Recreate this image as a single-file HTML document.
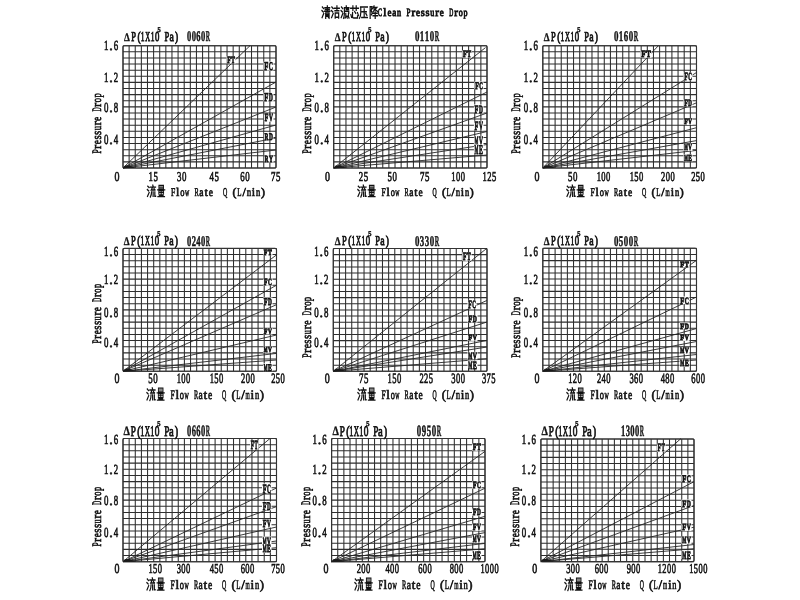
<!DOCTYPE html><html><head><meta charset="utf-8"><style>html,body{margin:0;padding:0;background:#fff;width:800px;height:600px;overflow:hidden}</style></head><body><svg width="800" height="600" viewBox="0 0 800 600" style="display:block;will-change:transform" text-rendering="geometricPrecision"><rect width="800" height="600" fill="#fff"/><path d="M0.8,1.2 L2.2,2.6 M0.3,4.6 L1.8,5.8 M0.5,11.2 L2.4,7.4 M3.8,1.9 H9.6 M4.3,3.6 H9.2 M3.6,5.3 H9.9 M6.8,0.3 V5.3 M4.8,6.8 V11.8 M4.8,6.8 H8.9 V11.6 L8.1,11.2 M4.8,8.5 H8.9 M4.8,10 H8.9" transform="translate(321.70,5.80) scale(0.830,1.050)" fill="none" stroke="#111" stroke-width="1.44" stroke-linecap="square"/><path d="M0.8,1.2 L2.2,2.6 M0.3,4.6 L1.8,5.8 M0.5,11.2 L2.4,7.4 M3.8,2.4 H9.8 M4.5,4.8 H9.2 M6.9,0.3 V4.8 M4.8,6.9 V11.6 M4.8,6.9 H9 V11.6 M4.8,11 H9" transform="translate(331.20,5.80) scale(0.830,1.050)" fill="none" stroke="#111" stroke-width="1.44" stroke-linecap="square"/><path d="M0.8,1.2 L2.2,2.6 M0.3,4.6 L1.8,5.8 M0.5,11.2 L2.4,7.4 M6.6,0.3 V1.9 M4.3,1.9 H9.8 M4.3,1.9 V7 Q4.3,10 3.4,11.8 M6.5,3.4 H9.4 M5.6,5.2 H9.6 V7 M6,7.4 V10 H9.2 V7.4 M5.2,11.6 L5.8,10.8 M7.2,10.4 L7.8,11.6 M9.2,10.4 L9.9,11.6" transform="translate(340.80,5.80) scale(0.830,1.050)" fill="none" stroke="#111" stroke-width="1.44" stroke-linecap="square"/><path d="M0.3,2.4 H9.7 M3,0.3 V4.2 M7,0.3 V4.2 M5.2,5.6 L6.4,7 M2.6,6.4 V10.6 Q2.6,11.6 4,11.6 H8.6 V9.8 M0.6,8.6 L1.4,11 M8.6,6.6 L9.7,9.2" transform="translate(350.40,5.80) scale(0.830,1.050)" fill="none" stroke="#111" stroke-width="1.44" stroke-linecap="square"/><path d="M1.6,1.2 H9.9 M1.9,1.2 V6.5 Q1.8,10.2 0.3,11.9 M3.4,5.6 H8.6 M6,3 V11 M3,11.2 H9.9 M8,7.4 L9.2,9" transform="translate(359.20,5.80) scale(0.830,1.050)" fill="none" stroke="#111" stroke-width="1.44" stroke-linecap="square"/><path d="M0.9,0.8 V11.8 M0.9,0.8 H3.2 L2.2,4.6 L3.4,7 L2.4,8.6 M5.6,0.3 L4.2,2.8 M5.1,1.6 H8.8 L4.6,5.4 M6,3.2 L9.8,5.4 M4.6,7.2 H9.4 M4.4,9.4 H9.9 M7,6 V11.9" transform="translate(369.40,5.80) scale(0.830,1.050)" fill="none" stroke="#111" stroke-width="1.44" stroke-linecap="square"/><text transform="translate(380.12,16.30) scale(0.539,1)" text-anchor="middle" font-family='"Liberation Serif", serif' font-weight="normal" font-size="11.21" fill="#111" stroke="#111" stroke-width="0.85">C</text><text transform="translate(384.86,16.30) scale(1.000,1)" text-anchor="middle" font-family='"Liberation Serif", serif' font-weight="normal" font-size="11.21" fill="#111" stroke="#111" stroke-width="0.85">l</text><text transform="translate(389.60,16.30) scale(0.810,1)" text-anchor="middle" font-family='"Liberation Serif", serif' font-weight="normal" font-size="11.21" fill="#111" stroke="#111" stroke-width="0.85">e</text><text transform="translate(394.34,16.30) scale(0.810,1)" text-anchor="middle" font-family='"Liberation Serif", serif' font-weight="normal" font-size="11.21" fill="#111" stroke="#111" stroke-width="0.85">a</text><text transform="translate(399.09,16.30) scale(0.719,1)" text-anchor="middle" font-family='"Liberation Serif", serif' font-weight="normal" font-size="11.21" fill="#111" stroke="#111" stroke-width="0.85">n</text><text transform="translate(408.57,16.30) scale(0.646,1)" text-anchor="middle" font-family='"Liberation Serif", serif' font-weight="normal" font-size="11.21" fill="#111" stroke="#111" stroke-width="0.85">P</text><text transform="translate(413.31,16.30) scale(1.000,1)" text-anchor="middle" font-family='"Liberation Serif", serif' font-weight="normal" font-size="11.21" fill="#111" stroke="#111" stroke-width="0.85">r</text><text transform="translate(418.06,16.30) scale(0.810,1)" text-anchor="middle" font-family='"Liberation Serif", serif' font-weight="normal" font-size="11.21" fill="#111" stroke="#111" stroke-width="0.85">e</text><text transform="translate(422.80,16.30) scale(0.924,1)" text-anchor="middle" font-family='"Liberation Serif", serif' font-weight="normal" font-size="11.21" fill="#111" stroke="#111" stroke-width="0.85">s</text><text transform="translate(427.54,16.30) scale(0.924,1)" text-anchor="middle" font-family='"Liberation Serif", serif' font-weight="normal" font-size="11.21" fill="#111" stroke="#111" stroke-width="0.85">s</text><text transform="translate(432.29,16.30) scale(0.719,1)" text-anchor="middle" font-family='"Liberation Serif", serif' font-weight="normal" font-size="11.21" fill="#111" stroke="#111" stroke-width="0.85">u</text><text transform="translate(437.03,16.30) scale(1.000,1)" text-anchor="middle" font-family='"Liberation Serif", serif' font-weight="normal" font-size="11.21" fill="#111" stroke="#111" stroke-width="0.85">r</text><text transform="translate(441.77,16.30) scale(0.810,1)" text-anchor="middle" font-family='"Liberation Serif", serif' font-weight="normal" font-size="11.21" fill="#111" stroke="#111" stroke-width="0.85">e</text><text transform="translate(451.26,16.30) scale(0.498,1)" text-anchor="middle" font-family='"Liberation Serif", serif' font-weight="normal" font-size="11.21" fill="#111" stroke="#111" stroke-width="0.85">D</text><text transform="translate(456.00,16.30) scale(1.000,1)" text-anchor="middle" font-family='"Liberation Serif", serif' font-weight="normal" font-size="11.21" fill="#111" stroke="#111" stroke-width="0.85">r</text><text transform="translate(460.74,16.30) scale(0.719,1)" text-anchor="middle" font-family='"Liberation Serif", serif' font-weight="normal" font-size="11.21" fill="#111" stroke="#111" stroke-width="0.85">o</text><text transform="translate(465.48,16.30) scale(0.719,1)" text-anchor="middle" font-family='"Liberation Serif", serif' font-weight="normal" font-size="11.21" fill="#111" stroke="#111" stroke-width="0.85">p</text><path d="M123.00,45.70V168.00M129.12,45.70V168.00M135.24,45.70V168.00M141.36,45.70V168.00M147.48,45.70V168.00M153.60,45.70V168.00M159.72,45.70V168.00M165.84,45.70V168.00M171.96,45.70V168.00M178.08,45.70V168.00M184.20,45.70V168.00M190.32,45.70V168.00M196.44,45.70V168.00M202.56,45.70V168.00M208.68,45.70V168.00M214.80,45.70V168.00M220.92,45.70V168.00M227.04,45.70V168.00M233.16,45.70V168.00M239.28,45.70V168.00M245.40,45.70V168.00M251.52,45.70V168.00M257.64,45.70V168.00M263.76,45.70V168.00M269.88,45.70V168.00M276.00,45.70V168.00M123.00,45.70H276.00M123.00,51.82H276.00M123.00,57.93H276.00M123.00,64.05H276.00M123.00,70.16H276.00M123.00,76.28H276.00M123.00,82.39H276.00M123.00,88.50H276.00M123.00,94.62H276.00M123.00,100.74H276.00M123.00,106.85H276.00M123.00,112.97H276.00M123.00,119.08H276.00M123.00,125.19H276.00M123.00,131.31H276.00M123.00,137.43H276.00M123.00,143.54H276.00M123.00,149.66H276.00M123.00,155.77H276.00M123.00,161.88H276.00M123.00,168.00H276.00" stroke="#2e2e2e" stroke-width="1.05" fill="none"/><rect x="123.00" y="45.70" width="153.00" height="122.30" rx="1.5" fill="none" stroke="#333" stroke-width="1.1"/><path d="M123.00,168.00L250.00,45.70" stroke="#262626" stroke-width="0.9" fill="none"/><path d="M123.00,168.00L276.00,82.00" stroke="#262626" stroke-width="0.9" fill="none"/><path d="M123.00,168.00L276.00,107.00" stroke="#262626" stroke-width="0.9" fill="none"/><path d="M123.00,168.00L276.00,125.00" stroke="#262626" stroke-width="0.9" fill="none"/><path d="M123.00,168.00L276.00,138.00" stroke="#262626" stroke-width="0.9" fill="none"/><path d="M123.00,168.00L276.00,150.00" stroke="#262626" stroke-width="0.9" fill="none"/><path d="M123.00,168.00L136.00,168.00L129.00,165.40L125.00,165.40Z" fill="#1a1a1a"/><rect x="226.50" y="56.00" width="9.00" height="7.50" fill="#fff"/><text transform="translate(229.00,63.00) scale(0.617,1)" text-anchor="middle" font-family='"Liberation Serif", serif' font-weight="bold" font-size="9.56" fill="#111" stroke="#111" stroke-width="0.9">F</text><text transform="translate(233.00,63.00) scale(0.565,1)" text-anchor="middle" font-family='"Liberation Serif", serif' font-weight="bold" font-size="9.56" fill="#111" stroke="#111" stroke-width="0.9">T</text><rect x="263.50" y="61.50" width="10.00" height="9.00" fill="#fff"/><text transform="translate(266.23,70.00) scale(0.569,1)" text-anchor="middle" font-family='"Liberation Serif", serif' font-weight="bold" font-size="11.76" fill="#111" stroke="#111" stroke-width="0.9">F</text><text transform="translate(270.77,70.00) scale(0.481,1)" text-anchor="middle" font-family='"Liberation Serif", serif' font-weight="bold" font-size="11.76" fill="#111" stroke="#111" stroke-width="0.9">C</text><rect x="263.50" y="92.50" width="10.00" height="9.00" fill="#fff"/><text transform="translate(266.23,101.00) scale(0.569,1)" text-anchor="middle" font-family='"Liberation Serif", serif' font-weight="bold" font-size="11.76" fill="#111" stroke="#111" stroke-width="0.9">F</text><text transform="translate(270.77,101.00) scale(0.481,1)" text-anchor="middle" font-family='"Liberation Serif", serif' font-weight="bold" font-size="11.76" fill="#111" stroke="#111" stroke-width="0.9">D</text><rect x="263.90" y="113.20" width="9.60" height="8.60" fill="#fff"/><text transform="translate(266.54,121.30) scale(0.570,1)" text-anchor="middle" font-family='"Liberation Serif", serif' font-weight="bold" font-size="11.18" fill="#111" stroke="#111" stroke-width="0.9">F</text><text transform="translate(270.86,121.30) scale(0.482,1)" text-anchor="middle" font-family='"Liberation Serif", serif' font-weight="bold" font-size="11.18" fill="#111" stroke="#111" stroke-width="0.9">V</text><rect x="263.90" y="132.50" width="9.60" height="7.70" fill="#fff"/><text transform="translate(266.54,139.70) scale(0.547,1)" text-anchor="middle" font-family='"Liberation Serif", serif' font-weight="bold" font-size="9.85" fill="#111" stroke="#111" stroke-width="0.9">R</text><text transform="translate(270.86,139.70) scale(0.547,1)" text-anchor="middle" font-family='"Liberation Serif", serif' font-weight="bold" font-size="9.85" fill="#111" stroke="#111" stroke-width="0.9">D</text><rect x="263.90" y="154.90" width="9.60" height="7.50" fill="#fff"/><text transform="translate(266.54,161.90) scale(0.564,1)" text-anchor="middle" font-family='"Liberation Serif", serif' font-weight="bold" font-size="9.56" fill="#111" stroke="#111" stroke-width="0.9">R</text><text transform="translate(270.86,161.90) scale(0.564,1)" text-anchor="middle" font-family='"Liberation Serif", serif' font-weight="bold" font-size="9.56" fill="#111" stroke="#111" stroke-width="0.9">Y</text><text transform="translate(133.50,41.10) scale(0.6200,1)" x="0" y="0" text-anchor="middle" font-family='"Liberation Serif", serif' font-weight="normal" font-size="13.64" fill="#111" stroke="#111" stroke-width="0.85">P</text><text transform="translate(139.10,41.10) scale(0.7000,1)" x="0" y="0" text-anchor="middle" font-family='"Liberation Serif", serif' font-weight="normal" font-size="13.64" fill="#111" stroke="#111" stroke-width="0.85">(</text><text transform="translate(142.50,41.10) scale(0.5500,1)" x="0" y="0" text-anchor="middle" font-family='"Liberation Serif", serif' font-weight="normal" font-size="13.64" fill="#111" stroke="#111" stroke-width="0.85">1</text><text transform="translate(147.70,41.10) scale(0.5000,1)" x="0" y="0" text-anchor="middle" font-family='"Liberation Serif", serif' font-weight="normal" font-size="13.64" fill="#111" stroke="#111" stroke-width="0.85">X</text><text transform="translate(152.50,41.10) scale(0.5500,1)" x="0" y="0" text-anchor="middle" font-family='"Liberation Serif", serif' font-weight="normal" font-size="13.64" fill="#111" stroke="#111" stroke-width="0.85">1</text><text transform="translate(157.20,41.10) scale(0.6400,1)" x="0" y="0" text-anchor="middle" font-family='"Liberation Serif", serif' font-weight="normal" font-size="13.64" fill="#111" stroke="#111" stroke-width="0.85">0</text><text transform="translate(166.90,41.10) scale(0.6200,1)" x="0" y="0" text-anchor="middle" font-family='"Liberation Serif", serif' font-weight="normal" font-size="13.64" fill="#111" stroke="#111" stroke-width="0.85">P</text><text transform="translate(171.60,41.10) scale(0.7200,1)" x="0" y="0" text-anchor="middle" font-family='"Liberation Serif", serif' font-weight="normal" font-size="13.64" fill="#111" stroke="#111" stroke-width="0.85">a</text><text transform="translate(176.60,41.10) scale(0.7000,1)" x="0" y="0" text-anchor="middle" font-family='"Liberation Serif", serif' font-weight="normal" font-size="13.64" fill="#111" stroke="#111" stroke-width="0.85">)</text><text transform="translate(126.90,40.80) scale(0.8000,1)" x="0" y="0" text-anchor="middle" font-family='"Liberation Serif", serif' font-weight="bold" font-size="11.67" fill="#111" stroke="#111" stroke-width="0.3">Δ</text><text transform="translate(159.10,32.10) scale(0.9000,1)" x="0" y="0" text-anchor="middle" font-family='"Liberation Serif", serif' font-weight="bold" font-size="7.13" fill="#111" stroke="#111" stroke-width="0.5">5</text><text transform="translate(189.02,41.40) scale(0.575,1)" text-anchor="middle" font-family='"Liberation Serif", serif' font-weight="bold" font-size="14.85" fill="#111" stroke="#111" stroke-width="0.45">0</text><text transform="translate(193.76,41.40) scale(0.575,1)" text-anchor="middle" font-family='"Liberation Serif", serif' font-weight="bold" font-size="14.85" fill="#111" stroke="#111" stroke-width="0.45">0</text><text transform="translate(198.50,41.40) scale(0.575,1)" text-anchor="middle" font-family='"Liberation Serif", serif' font-weight="bold" font-size="14.85" fill="#111" stroke="#111" stroke-width="0.45">6</text><text transform="translate(203.24,41.40) scale(0.575,1)" text-anchor="middle" font-family='"Liberation Serif", serif' font-weight="bold" font-size="14.85" fill="#111" stroke="#111" stroke-width="0.45">0</text><text transform="translate(207.98,41.40) scale(0.398,1)" text-anchor="middle" font-family='"Liberation Serif", serif' font-weight="bold" font-size="14.85" fill="#111" stroke="#111" stroke-width="0.45">R</text><text transform="translate(106.09,50.35) scale(0.633,1)" text-anchor="middle" font-family='"Liberation Serif", serif' font-weight="normal" font-size="13.97" fill="#111" stroke="#111" stroke-width="0.65">1</text><text transform="translate(111.00,50.35) scale(1.000,1)" text-anchor="middle" font-family='"Liberation Serif", serif' font-weight="normal" font-size="13.97" fill="#111" stroke="#111" stroke-width="0.65">.</text><text transform="translate(115.91,50.35) scale(0.633,1)" text-anchor="middle" font-family='"Liberation Serif", serif' font-weight="normal" font-size="13.97" fill="#111" stroke="#111" stroke-width="0.65">6</text><text transform="translate(106.09,81.60) scale(0.633,1)" text-anchor="middle" font-family='"Liberation Serif", serif' font-weight="normal" font-size="13.97" fill="#111" stroke="#111" stroke-width="0.65">1</text><text transform="translate(111.00,81.60) scale(1.000,1)" text-anchor="middle" font-family='"Liberation Serif", serif' font-weight="normal" font-size="13.97" fill="#111" stroke="#111" stroke-width="0.65">.</text><text transform="translate(115.91,81.60) scale(0.633,1)" text-anchor="middle" font-family='"Liberation Serif", serif' font-weight="normal" font-size="13.97" fill="#111" stroke="#111" stroke-width="0.65">2</text><text transform="translate(106.09,112.35) scale(0.633,1)" text-anchor="middle" font-family='"Liberation Serif", serif' font-weight="normal" font-size="13.97" fill="#111" stroke="#111" stroke-width="0.65">0</text><text transform="translate(111.00,112.35) scale(1.000,1)" text-anchor="middle" font-family='"Liberation Serif", serif' font-weight="normal" font-size="13.97" fill="#111" stroke="#111" stroke-width="0.65">.</text><text transform="translate(115.91,112.35) scale(0.633,1)" text-anchor="middle" font-family='"Liberation Serif", serif' font-weight="normal" font-size="13.97" fill="#111" stroke="#111" stroke-width="0.65">8</text><text transform="translate(106.09,143.85) scale(0.633,1)" text-anchor="middle" font-family='"Liberation Serif", serif' font-weight="normal" font-size="13.97" fill="#111" stroke="#111" stroke-width="0.65">0</text><text transform="translate(111.00,143.85) scale(1.000,1)" text-anchor="middle" font-family='"Liberation Serif", serif' font-weight="normal" font-size="13.97" fill="#111" stroke="#111" stroke-width="0.65">.</text><text transform="translate(115.91,143.85) scale(0.633,1)" text-anchor="middle" font-family='"Liberation Serif", serif' font-weight="normal" font-size="13.97" fill="#111" stroke="#111" stroke-width="0.65">4</text><text transform="translate(117.00,180.80) scale(0.736,1)" text-anchor="middle" font-family='"Liberation Serif", serif' font-weight="normal" font-size="13.53" fill="#111" stroke="#111" stroke-width="0.65">0</text><text transform="translate(150.79,180.80) scale(0.654,1)" text-anchor="middle" font-family='"Liberation Serif", serif' font-weight="normal" font-size="13.53" fill="#111" stroke="#111" stroke-width="0.65">1</text><text transform="translate(155.71,180.80) scale(0.654,1)" text-anchor="middle" font-family='"Liberation Serif", serif' font-weight="normal" font-size="13.53" fill="#111" stroke="#111" stroke-width="0.65">5</text><text transform="translate(179.29,180.80) scale(0.654,1)" text-anchor="middle" font-family='"Liberation Serif", serif' font-weight="normal" font-size="13.53" fill="#111" stroke="#111" stroke-width="0.65">3</text><text transform="translate(184.21,180.80) scale(0.654,1)" text-anchor="middle" font-family='"Liberation Serif", serif' font-weight="normal" font-size="13.53" fill="#111" stroke="#111" stroke-width="0.65">0</text><text transform="translate(211.79,180.80) scale(0.654,1)" text-anchor="middle" font-family='"Liberation Serif", serif' font-weight="normal" font-size="13.53" fill="#111" stroke="#111" stroke-width="0.65">4</text><text transform="translate(216.71,180.80) scale(0.654,1)" text-anchor="middle" font-family='"Liberation Serif", serif' font-weight="normal" font-size="13.53" fill="#111" stroke="#111" stroke-width="0.65">5</text><text transform="translate(242.54,180.80) scale(0.654,1)" text-anchor="middle" font-family='"Liberation Serif", serif' font-weight="normal" font-size="13.53" fill="#111" stroke="#111" stroke-width="0.65">6</text><text transform="translate(247.46,180.80) scale(0.654,1)" text-anchor="middle" font-family='"Liberation Serif", serif' font-weight="normal" font-size="13.53" fill="#111" stroke="#111" stroke-width="0.65">0</text><text transform="translate(273.29,180.80) scale(0.654,1)" text-anchor="middle" font-family='"Liberation Serif", serif' font-weight="normal" font-size="13.53" fill="#111" stroke="#111" stroke-width="0.65">7</text><text transform="translate(278.21,180.80) scale(0.654,1)" text-anchor="middle" font-family='"Liberation Serif", serif' font-weight="normal" font-size="13.53" fill="#111" stroke="#111" stroke-width="0.65">5</text><g transform="translate(101.20,153.50) rotate(-90)"><text transform="translate(1.98,0.00) scale(0.584,1)" text-anchor="middle" font-family='"Liberation Serif", serif' font-weight="normal" font-size="12.94" fill="#111" stroke="#111" stroke-width="0.65">P</text><text transform="translate(6.65,0.00) scale(0.975,1)" text-anchor="middle" font-family='"Liberation Serif", serif' font-weight="normal" font-size="12.94" fill="#111" stroke="#111" stroke-width="0.65">r</text><text transform="translate(11.32,0.00) scale(0.732,1)" text-anchor="middle" font-family='"Liberation Serif", serif' font-weight="normal" font-size="12.94" fill="#111" stroke="#111" stroke-width="0.65">e</text><text transform="translate(15.99,0.00) scale(0.834,1)" text-anchor="middle" font-family='"Liberation Serif", serif' font-weight="normal" font-size="12.94" fill="#111" stroke="#111" stroke-width="0.65">s</text><text transform="translate(20.66,0.00) scale(0.834,1)" text-anchor="middle" font-family='"Liberation Serif", serif' font-weight="normal" font-size="12.94" fill="#111" stroke="#111" stroke-width="0.65">s</text><text transform="translate(25.33,0.00) scale(0.649,1)" text-anchor="middle" font-family='"Liberation Serif", serif' font-weight="normal" font-size="12.94" fill="#111" stroke="#111" stroke-width="0.65">u</text><text transform="translate(30.00,0.00) scale(0.975,1)" text-anchor="middle" font-family='"Liberation Serif", serif' font-weight="normal" font-size="12.94" fill="#111" stroke="#111" stroke-width="0.65">r</text><text transform="translate(34.67,0.00) scale(0.732,1)" text-anchor="middle" font-family='"Liberation Serif", serif' font-weight="normal" font-size="12.94" fill="#111" stroke="#111" stroke-width="0.65">e</text><text transform="translate(44.01,0.00) scale(0.450,1)" text-anchor="middle" font-family='"Liberation Serif", serif' font-weight="normal" font-size="12.94" fill="#111" stroke="#111" stroke-width="0.65">D</text><text transform="translate(48.68,0.00) scale(0.975,1)" text-anchor="middle" font-family='"Liberation Serif", serif' font-weight="normal" font-size="12.94" fill="#111" stroke="#111" stroke-width="0.65">r</text><text transform="translate(53.35,0.00) scale(0.649,1)" text-anchor="middle" font-family='"Liberation Serif", serif' font-weight="normal" font-size="12.94" fill="#111" stroke="#111" stroke-width="0.65">o</text><text transform="translate(58.02,0.00) scale(0.649,1)" text-anchor="middle" font-family='"Liberation Serif", serif' font-weight="normal" font-size="12.94" fill="#111" stroke="#111" stroke-width="0.65">p</text></g><path d="M0.8,1.2 L2.2,2.6 M0.3,4.6 L1.8,5.8 M0.5,11.2 L2.4,7.4 M6.6,0.3 L7.1,1.6 M3.8,2.2 H9.8 M6.4,2.3 L4.8,5 H9.2 M8.1,3.6 L9,4.8 M5.2,6.8 Q5.2,10 3.8,11.8 M7,6.8 V11.2 M9,6.8 V11.1 H9.9" transform="translate(147.10,184.90) scale(0.860,1.025)" fill="none" stroke="#111" stroke-width="1.38" stroke-linecap="square"/><path d="M2,0.5 H8 V3.8 H2 Z M2,2.15 H8 M0.3,4.8 H9.7 M1.9,5.8 H8.1 V9.1 H1.9 Z M1.9,7.45 H8.1 M5,5.8 V11.4 M2.4,10.3 H7.6 M0.6,11.5 H9.4" transform="translate(157.30,184.90) scale(0.780,1.025)" fill="none" stroke="#111" stroke-width="1.11" stroke-linecap="square"/><text transform="translate(173.01,195.70) scale(0.643,1)" text-anchor="middle" font-family='"Liberation Serif", serif' font-weight="normal" font-size="11.91" fill="#111" stroke="#111" stroke-width="0.65">F</text><text transform="translate(177.75,195.70) scale(1.000,1)" text-anchor="middle" font-family='"Liberation Serif", serif' font-weight="normal" font-size="11.91" fill="#111" stroke="#111" stroke-width="0.65">l</text><text transform="translate(182.48,195.70) scale(0.716,1)" text-anchor="middle" font-family='"Liberation Serif", serif' font-weight="normal" font-size="11.91" fill="#111" stroke="#111" stroke-width="0.65">o</text><text transform="translate(187.22,195.70) scale(0.495,1)" text-anchor="middle" font-family='"Liberation Serif", serif' font-weight="normal" font-size="11.91" fill="#111" stroke="#111" stroke-width="0.65">w</text><text transform="translate(196.69,195.70) scale(0.536,1)" text-anchor="middle" font-family='"Liberation Serif", serif' font-weight="normal" font-size="11.91" fill="#111" stroke="#111" stroke-width="0.65">R</text><text transform="translate(201.43,195.70) scale(0.806,1)" text-anchor="middle" font-family='"Liberation Serif", serif' font-weight="normal" font-size="11.91" fill="#111" stroke="#111" stroke-width="0.65">a</text><text transform="translate(206.16,195.70) scale(1.000,1)" text-anchor="middle" font-family='"Liberation Serif", serif' font-weight="normal" font-size="11.91" fill="#111" stroke="#111" stroke-width="0.65">t</text><text transform="translate(210.90,195.70) scale(0.806,1)" text-anchor="middle" font-family='"Liberation Serif", serif' font-weight="normal" font-size="11.91" fill="#111" stroke="#111" stroke-width="0.65">e</text><text transform="translate(225.10,195.70) scale(0.495,1)" text-anchor="middle" font-family='"Liberation Serif", serif' font-weight="normal" font-size="11.91" fill="#111" stroke="#111" stroke-width="0.65">Q</text><text transform="translate(234.57,195.70) scale(1.000,1)" text-anchor="middle" font-family='"Liberation Serif", serif' font-weight="normal" font-size="11.91" fill="#111" stroke="#111" stroke-width="0.65">(</text><text transform="translate(239.31,195.70) scale(0.586,1)" text-anchor="middle" font-family='"Liberation Serif", serif' font-weight="normal" font-size="11.91" fill="#111" stroke="#111" stroke-width="0.65">L</text><text transform="translate(244.05,195.70) scale(1.000,1)" text-anchor="middle" font-family='"Liberation Serif", serif' font-weight="normal" font-size="11.91" fill="#111" stroke="#111" stroke-width="0.65">/</text><text transform="translate(248.78,195.70) scale(0.460,1)" text-anchor="middle" font-family='"Liberation Serif", serif' font-weight="normal" font-size="11.91" fill="#111" stroke="#111" stroke-width="0.65">m</text><text transform="translate(253.52,195.70) scale(1.000,1)" text-anchor="middle" font-family='"Liberation Serif", serif' font-weight="normal" font-size="11.91" fill="#111" stroke="#111" stroke-width="0.65">i</text><text transform="translate(258.25,195.70) scale(0.716,1)" text-anchor="middle" font-family='"Liberation Serif", serif' font-weight="normal" font-size="11.91" fill="#111" stroke="#111" stroke-width="0.65">n</text><text transform="translate(262.99,195.70) scale(1.000,1)" text-anchor="middle" font-family='"Liberation Serif", serif' font-weight="normal" font-size="11.91" fill="#111" stroke="#111" stroke-width="0.65">)</text><path d="M333.70,45.70V168.00M339.83,45.70V168.00M345.96,45.70V168.00M352.10,45.70V168.00M358.23,45.70V168.00M364.36,45.70V168.00M370.49,45.70V168.00M376.62,45.70V168.00M382.76,45.70V168.00M388.89,45.70V168.00M395.02,45.70V168.00M401.15,45.70V168.00M407.28,45.70V168.00M413.42,45.70V168.00M419.55,45.70V168.00M425.68,45.70V168.00M431.81,45.70V168.00M437.94,45.70V168.00M444.08,45.70V168.00M450.21,45.70V168.00M456.34,45.70V168.00M462.47,45.70V168.00M468.60,45.70V168.00M474.74,45.70V168.00M480.87,45.70V168.00M487.00,45.70V168.00M333.70,45.70H487.00M333.70,51.82H487.00M333.70,57.93H487.00M333.70,64.05H487.00M333.70,70.16H487.00M333.70,76.28H487.00M333.70,82.39H487.00M333.70,88.50H487.00M333.70,94.62H487.00M333.70,100.74H487.00M333.70,106.85H487.00M333.70,112.97H487.00M333.70,119.08H487.00M333.70,125.19H487.00M333.70,131.31H487.00M333.70,137.43H487.00M333.70,143.54H487.00M333.70,149.66H487.00M333.70,155.77H487.00M333.70,161.88H487.00M333.70,168.00H487.00" stroke="#2e2e2e" stroke-width="1.05" fill="none"/><rect x="333.70" y="45.70" width="153.30" height="122.30" rx="1.5" fill="none" stroke="#333" stroke-width="1.1"/><path d="M333.70,168.00L485.50,47.60" stroke="#262626" stroke-width="0.9" fill="none"/><path d="M333.70,168.00L487.00,92.00" stroke="#262626" stroke-width="0.9" fill="none"/><path d="M333.70,168.00L487.00,113.00" stroke="#262626" stroke-width="0.9" fill="none"/><path d="M333.70,168.00L487.00,131.50" stroke="#262626" stroke-width="0.9" fill="none"/><path d="M333.70,168.00L487.00,144.50" stroke="#262626" stroke-width="0.9" fill="none"/><path d="M333.70,168.00L487.00,155.00" stroke="#262626" stroke-width="0.9" fill="none"/><path d="M333.70,168.00L346.70,168.00L339.70,165.40L335.70,165.40Z" fill="#1a1a1a"/><rect x="462.30" y="50.30" width="9.60" height="7.50" fill="#fff"/><text transform="translate(464.94,57.30) scale(0.667,1)" text-anchor="middle" font-family='"Liberation Serif", serif' font-weight="bold" font-size="9.56" fill="#111" stroke="#111" stroke-width="0.9">F</text><text transform="translate(469.26,57.30) scale(0.610,1)" text-anchor="middle" font-family='"Liberation Serif", serif' font-weight="bold" font-size="9.56" fill="#111" stroke="#111" stroke-width="0.9">T</text><rect x="474.50" y="81.50" width="9.00" height="7.70" fill="#fff"/><text transform="translate(477.00,88.70) scale(0.598,1)" text-anchor="middle" font-family='"Liberation Serif", serif' font-weight="bold" font-size="9.85" fill="#111" stroke="#111" stroke-width="0.9">F</text><text transform="translate(481.00,88.70) scale(0.506,1)" text-anchor="middle" font-family='"Liberation Serif", serif' font-weight="bold" font-size="9.85" fill="#111" stroke="#111" stroke-width="0.9">C</text><rect x="473.90" y="104.50" width="9.60" height="8.60" fill="#fff"/><text transform="translate(476.54,112.60) scale(0.570,1)" text-anchor="middle" font-family='"Liberation Serif", serif' font-weight="bold" font-size="11.18" fill="#111" stroke="#111" stroke-width="0.9">F</text><text transform="translate(480.86,112.60) scale(0.482,1)" text-anchor="middle" font-family='"Liberation Serif", serif' font-weight="bold" font-size="11.18" fill="#111" stroke="#111" stroke-width="0.9">D</text><rect x="473.90" y="120.80" width="9.60" height="9.70" fill="#fff"/><text transform="translate(476.54,130.00) scale(0.498,1)" text-anchor="middle" font-family='"Liberation Serif", serif' font-weight="bold" font-size="12.79" fill="#111" stroke="#111" stroke-width="0.9">F</text><text transform="translate(480.86,130.00) scale(0.421,1)" text-anchor="middle" font-family='"Liberation Serif", serif' font-weight="bold" font-size="12.79" fill="#111" stroke="#111" stroke-width="0.9">V</text><rect x="473.90" y="135.90" width="9.60" height="9.60" fill="#fff"/><text transform="translate(476.54,145.00) scale(0.326,1)" text-anchor="middle" font-family='"Liberation Serif", serif' font-weight="bold" font-size="12.65" fill="#111" stroke="#111" stroke-width="0.9">M</text><text transform="translate(480.86,145.00) scale(0.426,1)" text-anchor="middle" font-family='"Liberation Serif", serif' font-weight="bold" font-size="12.65" fill="#111" stroke="#111" stroke-width="0.9">V</text><rect x="473.90" y="144.50" width="9.60" height="10.00" fill="#fff"/><text transform="translate(476.54,154.00) scale(0.312,1)" text-anchor="middle" font-family='"Liberation Serif", serif' font-weight="bold" font-size="13.24" fill="#111" stroke="#111" stroke-width="0.9">M</text><text transform="translate(480.86,154.00) scale(0.441,1)" text-anchor="middle" font-family='"Liberation Serif", serif' font-weight="bold" font-size="13.24" fill="#111" stroke="#111" stroke-width="0.9">E</text><text transform="translate(344.30,41.10) scale(0.6200,1)" x="0" y="0" text-anchor="middle" font-family='"Liberation Serif", serif' font-weight="normal" font-size="13.64" fill="#111" stroke="#111" stroke-width="0.85">P</text><text transform="translate(349.90,41.10) scale(0.7000,1)" x="0" y="0" text-anchor="middle" font-family='"Liberation Serif", serif' font-weight="normal" font-size="13.64" fill="#111" stroke="#111" stroke-width="0.85">(</text><text transform="translate(353.30,41.10) scale(0.5500,1)" x="0" y="0" text-anchor="middle" font-family='"Liberation Serif", serif' font-weight="normal" font-size="13.64" fill="#111" stroke="#111" stroke-width="0.85">1</text><text transform="translate(358.50,41.10) scale(0.5000,1)" x="0" y="0" text-anchor="middle" font-family='"Liberation Serif", serif' font-weight="normal" font-size="13.64" fill="#111" stroke="#111" stroke-width="0.85">X</text><text transform="translate(363.30,41.10) scale(0.5500,1)" x="0" y="0" text-anchor="middle" font-family='"Liberation Serif", serif' font-weight="normal" font-size="13.64" fill="#111" stroke="#111" stroke-width="0.85">1</text><text transform="translate(368.00,41.10) scale(0.6400,1)" x="0" y="0" text-anchor="middle" font-family='"Liberation Serif", serif' font-weight="normal" font-size="13.64" fill="#111" stroke="#111" stroke-width="0.85">0</text><text transform="translate(377.70,41.10) scale(0.6200,1)" x="0" y="0" text-anchor="middle" font-family='"Liberation Serif", serif' font-weight="normal" font-size="13.64" fill="#111" stroke="#111" stroke-width="0.85">P</text><text transform="translate(382.40,41.10) scale(0.7200,1)" x="0" y="0" text-anchor="middle" font-family='"Liberation Serif", serif' font-weight="normal" font-size="13.64" fill="#111" stroke="#111" stroke-width="0.85">a</text><text transform="translate(387.40,41.10) scale(0.7000,1)" x="0" y="0" text-anchor="middle" font-family='"Liberation Serif", serif' font-weight="normal" font-size="13.64" fill="#111" stroke="#111" stroke-width="0.85">)</text><text transform="translate(337.70,40.80) scale(0.8000,1)" x="0" y="0" text-anchor="middle" font-family='"Liberation Serif", serif' font-weight="bold" font-size="11.67" fill="#111" stroke="#111" stroke-width="0.3">Δ</text><text transform="translate(369.90,32.10) scale(0.9000,1)" x="0" y="0" text-anchor="middle" font-family='"Liberation Serif", serif' font-weight="bold" font-size="7.13" fill="#111" stroke="#111" stroke-width="0.5">5</text><text transform="translate(417.10,41.40) scale(0.600,1)" text-anchor="middle" font-family='"Liberation Serif", serif' font-weight="bold" font-size="14.85" fill="#111" stroke="#111" stroke-width="0.45">0</text><text transform="translate(422.05,41.40) scale(0.600,1)" text-anchor="middle" font-family='"Liberation Serif", serif' font-weight="bold" font-size="14.85" fill="#111" stroke="#111" stroke-width="0.45">1</text><text transform="translate(427.00,41.40) scale(0.600,1)" text-anchor="middle" font-family='"Liberation Serif", serif' font-weight="bold" font-size="14.85" fill="#111" stroke="#111" stroke-width="0.45">1</text><text transform="translate(431.95,41.40) scale(0.600,1)" text-anchor="middle" font-family='"Liberation Serif", serif' font-weight="bold" font-size="14.85" fill="#111" stroke="#111" stroke-width="0.45">0</text><text transform="translate(436.90,41.40) scale(0.415,1)" text-anchor="middle" font-family='"Liberation Serif", serif' font-weight="bold" font-size="14.85" fill="#111" stroke="#111" stroke-width="0.45">R</text><text transform="translate(316.79,50.35) scale(0.633,1)" text-anchor="middle" font-family='"Liberation Serif", serif' font-weight="normal" font-size="13.97" fill="#111" stroke="#111" stroke-width="0.65">1</text><text transform="translate(321.70,50.35) scale(1.000,1)" text-anchor="middle" font-family='"Liberation Serif", serif' font-weight="normal" font-size="13.97" fill="#111" stroke="#111" stroke-width="0.65">.</text><text transform="translate(326.61,50.35) scale(0.633,1)" text-anchor="middle" font-family='"Liberation Serif", serif' font-weight="normal" font-size="13.97" fill="#111" stroke="#111" stroke-width="0.65">6</text><text transform="translate(316.79,81.60) scale(0.633,1)" text-anchor="middle" font-family='"Liberation Serif", serif' font-weight="normal" font-size="13.97" fill="#111" stroke="#111" stroke-width="0.65">1</text><text transform="translate(321.70,81.60) scale(1.000,1)" text-anchor="middle" font-family='"Liberation Serif", serif' font-weight="normal" font-size="13.97" fill="#111" stroke="#111" stroke-width="0.65">.</text><text transform="translate(326.61,81.60) scale(0.633,1)" text-anchor="middle" font-family='"Liberation Serif", serif' font-weight="normal" font-size="13.97" fill="#111" stroke="#111" stroke-width="0.65">2</text><text transform="translate(316.79,112.35) scale(0.633,1)" text-anchor="middle" font-family='"Liberation Serif", serif' font-weight="normal" font-size="13.97" fill="#111" stroke="#111" stroke-width="0.65">0</text><text transform="translate(321.70,112.35) scale(1.000,1)" text-anchor="middle" font-family='"Liberation Serif", serif' font-weight="normal" font-size="13.97" fill="#111" stroke="#111" stroke-width="0.65">.</text><text transform="translate(326.61,112.35) scale(0.633,1)" text-anchor="middle" font-family='"Liberation Serif", serif' font-weight="normal" font-size="13.97" fill="#111" stroke="#111" stroke-width="0.65">8</text><text transform="translate(316.79,143.85) scale(0.633,1)" text-anchor="middle" font-family='"Liberation Serif", serif' font-weight="normal" font-size="13.97" fill="#111" stroke="#111" stroke-width="0.65">0</text><text transform="translate(321.70,143.85) scale(1.000,1)" text-anchor="middle" font-family='"Liberation Serif", serif' font-weight="normal" font-size="13.97" fill="#111" stroke="#111" stroke-width="0.65">.</text><text transform="translate(326.61,143.85) scale(0.633,1)" text-anchor="middle" font-family='"Liberation Serif", serif' font-weight="normal" font-size="13.97" fill="#111" stroke="#111" stroke-width="0.65">4</text><text transform="translate(327.50,180.80) scale(0.736,1)" text-anchor="middle" font-family='"Liberation Serif", serif' font-weight="normal" font-size="13.53" fill="#111" stroke="#111" stroke-width="0.65">0</text><text transform="translate(361.04,180.80) scale(0.654,1)" text-anchor="middle" font-family='"Liberation Serif", serif' font-weight="normal" font-size="13.53" fill="#111" stroke="#111" stroke-width="0.65">2</text><text transform="translate(365.96,180.80) scale(0.654,1)" text-anchor="middle" font-family='"Liberation Serif", serif' font-weight="normal" font-size="13.53" fill="#111" stroke="#111" stroke-width="0.65">5</text><text transform="translate(389.79,180.80) scale(0.654,1)" text-anchor="middle" font-family='"Liberation Serif", serif' font-weight="normal" font-size="13.53" fill="#111" stroke="#111" stroke-width="0.65">5</text><text transform="translate(394.71,180.80) scale(0.654,1)" text-anchor="middle" font-family='"Liberation Serif", serif' font-weight="normal" font-size="13.53" fill="#111" stroke="#111" stroke-width="0.65">0</text><text transform="translate(422.29,180.80) scale(0.654,1)" text-anchor="middle" font-family='"Liberation Serif", serif' font-weight="normal" font-size="13.53" fill="#111" stroke="#111" stroke-width="0.65">7</text><text transform="translate(427.21,180.80) scale(0.654,1)" text-anchor="middle" font-family='"Liberation Serif", serif' font-weight="normal" font-size="13.53" fill="#111" stroke="#111" stroke-width="0.65">5</text><text transform="translate(453.36,180.80) scale(0.630,1)" text-anchor="middle" font-family='"Liberation Serif", serif' font-weight="normal" font-size="13.53" fill="#111" stroke="#111" stroke-width="0.65">1</text><text transform="translate(458.10,180.80) scale(0.630,1)" text-anchor="middle" font-family='"Liberation Serif", serif' font-weight="normal" font-size="13.53" fill="#111" stroke="#111" stroke-width="0.65">0</text><text transform="translate(462.84,180.80) scale(0.630,1)" text-anchor="middle" font-family='"Liberation Serif", serif' font-weight="normal" font-size="13.53" fill="#111" stroke="#111" stroke-width="0.65">0</text><text transform="translate(484.66,180.80) scale(0.630,1)" text-anchor="middle" font-family='"Liberation Serif", serif' font-weight="normal" font-size="13.53" fill="#111" stroke="#111" stroke-width="0.65">1</text><text transform="translate(489.40,180.80) scale(0.630,1)" text-anchor="middle" font-family='"Liberation Serif", serif' font-weight="normal" font-size="13.53" fill="#111" stroke="#111" stroke-width="0.65">2</text><text transform="translate(494.14,180.80) scale(0.630,1)" text-anchor="middle" font-family='"Liberation Serif", serif' font-weight="normal" font-size="13.53" fill="#111" stroke="#111" stroke-width="0.65">5</text><g transform="translate(310.70,153.50) rotate(-90)"><text transform="translate(1.98,0.00) scale(0.584,1)" text-anchor="middle" font-family='"Liberation Serif", serif' font-weight="normal" font-size="12.94" fill="#111" stroke="#111" stroke-width="0.65">P</text><text transform="translate(6.65,0.00) scale(0.975,1)" text-anchor="middle" font-family='"Liberation Serif", serif' font-weight="normal" font-size="12.94" fill="#111" stroke="#111" stroke-width="0.65">r</text><text transform="translate(11.32,0.00) scale(0.732,1)" text-anchor="middle" font-family='"Liberation Serif", serif' font-weight="normal" font-size="12.94" fill="#111" stroke="#111" stroke-width="0.65">e</text><text transform="translate(15.99,0.00) scale(0.834,1)" text-anchor="middle" font-family='"Liberation Serif", serif' font-weight="normal" font-size="12.94" fill="#111" stroke="#111" stroke-width="0.65">s</text><text transform="translate(20.66,0.00) scale(0.834,1)" text-anchor="middle" font-family='"Liberation Serif", serif' font-weight="normal" font-size="12.94" fill="#111" stroke="#111" stroke-width="0.65">s</text><text transform="translate(25.33,0.00) scale(0.649,1)" text-anchor="middle" font-family='"Liberation Serif", serif' font-weight="normal" font-size="12.94" fill="#111" stroke="#111" stroke-width="0.65">u</text><text transform="translate(30.00,0.00) scale(0.975,1)" text-anchor="middle" font-family='"Liberation Serif", serif' font-weight="normal" font-size="12.94" fill="#111" stroke="#111" stroke-width="0.65">r</text><text transform="translate(34.67,0.00) scale(0.732,1)" text-anchor="middle" font-family='"Liberation Serif", serif' font-weight="normal" font-size="12.94" fill="#111" stroke="#111" stroke-width="0.65">e</text><text transform="translate(44.01,0.00) scale(0.450,1)" text-anchor="middle" font-family='"Liberation Serif", serif' font-weight="normal" font-size="12.94" fill="#111" stroke="#111" stroke-width="0.65">D</text><text transform="translate(48.68,0.00) scale(0.975,1)" text-anchor="middle" font-family='"Liberation Serif", serif' font-weight="normal" font-size="12.94" fill="#111" stroke="#111" stroke-width="0.65">r</text><text transform="translate(53.35,0.00) scale(0.649,1)" text-anchor="middle" font-family='"Liberation Serif", serif' font-weight="normal" font-size="12.94" fill="#111" stroke="#111" stroke-width="0.65">o</text><text transform="translate(58.02,0.00) scale(0.649,1)" text-anchor="middle" font-family='"Liberation Serif", serif' font-weight="normal" font-size="12.94" fill="#111" stroke="#111" stroke-width="0.65">p</text></g><path d="M0.8,1.2 L2.2,2.6 M0.3,4.6 L1.8,5.8 M0.5,11.2 L2.4,7.4 M6.6,0.3 L7.1,1.6 M3.8,2.2 H9.8 M6.4,2.3 L4.8,5 H9.2 M8.1,3.6 L9,4.8 M5.2,6.8 Q5.2,10 3.8,11.8 M7,6.8 V11.2 M9,6.8 V11.1 H9.9" transform="translate(357.60,184.90) scale(0.860,1.025)" fill="none" stroke="#111" stroke-width="1.38" stroke-linecap="square"/><path d="M2,0.5 H8 V3.8 H2 Z M2,2.15 H8 M0.3,4.8 H9.7 M1.9,5.8 H8.1 V9.1 H1.9 Z M1.9,7.45 H8.1 M5,5.8 V11.4 M2.4,10.3 H7.6 M0.6,11.5 H9.4" transform="translate(367.80,184.90) scale(0.780,1.025)" fill="none" stroke="#111" stroke-width="1.11" stroke-linecap="square"/><text transform="translate(383.48,195.70) scale(0.631,1)" text-anchor="middle" font-family='"Liberation Serif", serif' font-weight="normal" font-size="11.91" fill="#111" stroke="#111" stroke-width="0.65">F</text><text transform="translate(388.12,195.70) scale(1.000,1)" text-anchor="middle" font-family='"Liberation Serif", serif' font-weight="normal" font-size="11.91" fill="#111" stroke="#111" stroke-width="0.65">l</text><text transform="translate(392.77,195.70) scale(0.702,1)" text-anchor="middle" font-family='"Liberation Serif", serif' font-weight="normal" font-size="11.91" fill="#111" stroke="#111" stroke-width="0.65">o</text><text transform="translate(397.42,195.70) scale(0.486,1)" text-anchor="middle" font-family='"Liberation Serif", serif' font-weight="normal" font-size="11.91" fill="#111" stroke="#111" stroke-width="0.65">w</text><text transform="translate(406.71,195.70) scale(0.526,1)" text-anchor="middle" font-family='"Liberation Serif", serif' font-weight="normal" font-size="11.91" fill="#111" stroke="#111" stroke-width="0.65">R</text><text transform="translate(411.36,195.70) scale(0.791,1)" text-anchor="middle" font-family='"Liberation Serif", serif' font-weight="normal" font-size="11.91" fill="#111" stroke="#111" stroke-width="0.65">a</text><text transform="translate(416.01,195.70) scale(1.000,1)" text-anchor="middle" font-family='"Liberation Serif", serif' font-weight="normal" font-size="11.91" fill="#111" stroke="#111" stroke-width="0.65">t</text><text transform="translate(420.65,195.70) scale(0.791,1)" text-anchor="middle" font-family='"Liberation Serif", serif' font-weight="normal" font-size="11.91" fill="#111" stroke="#111" stroke-width="0.65">e</text><text transform="translate(434.60,195.70) scale(0.486,1)" text-anchor="middle" font-family='"Liberation Serif", serif' font-weight="normal" font-size="11.91" fill="#111" stroke="#111" stroke-width="0.65">Q</text><text transform="translate(443.89,195.70) scale(1.000,1)" text-anchor="middle" font-family='"Liberation Serif", serif' font-weight="normal" font-size="11.91" fill="#111" stroke="#111" stroke-width="0.65">(</text><text transform="translate(448.54,195.70) scale(0.575,1)" text-anchor="middle" font-family='"Liberation Serif", serif' font-weight="normal" font-size="11.91" fill="#111" stroke="#111" stroke-width="0.65">L</text><text transform="translate(453.19,195.70) scale(1.000,1)" text-anchor="middle" font-family='"Liberation Serif", serif' font-weight="normal" font-size="11.91" fill="#111" stroke="#111" stroke-width="0.65">/</text><text transform="translate(457.83,195.70) scale(0.451,1)" text-anchor="middle" font-family='"Liberation Serif", serif' font-weight="normal" font-size="11.91" fill="#111" stroke="#111" stroke-width="0.65">m</text><text transform="translate(462.48,195.70) scale(1.000,1)" text-anchor="middle" font-family='"Liberation Serif", serif' font-weight="normal" font-size="11.91" fill="#111" stroke="#111" stroke-width="0.65">i</text><text transform="translate(467.13,195.70) scale(0.702,1)" text-anchor="middle" font-family='"Liberation Serif", serif' font-weight="normal" font-size="11.91" fill="#111" stroke="#111" stroke-width="0.65">n</text><text transform="translate(471.77,195.70) scale(1.000,1)" text-anchor="middle" font-family='"Liberation Serif", serif' font-weight="normal" font-size="11.91" fill="#111" stroke="#111" stroke-width="0.65">)</text><path d="M542.80,45.70V168.00M548.95,45.70V168.00M555.10,45.70V168.00M561.24,45.70V168.00M567.39,45.70V168.00M573.54,45.70V168.00M579.69,45.70V168.00M585.84,45.70V168.00M591.98,45.70V168.00M598.13,45.70V168.00M604.28,45.70V168.00M610.43,45.70V168.00M616.58,45.70V168.00M622.72,45.70V168.00M628.87,45.70V168.00M635.02,45.70V168.00M641.17,45.70V168.00M647.32,45.70V168.00M653.46,45.70V168.00M659.61,45.70V168.00M665.76,45.70V168.00M671.91,45.70V168.00M678.06,45.70V168.00M684.20,45.70V168.00M690.35,45.70V168.00M696.50,45.70V168.00M542.80,45.70H696.50M542.80,51.82H696.50M542.80,57.93H696.50M542.80,64.05H696.50M542.80,70.16H696.50M542.80,76.28H696.50M542.80,82.39H696.50M542.80,88.50H696.50M542.80,94.62H696.50M542.80,100.74H696.50M542.80,106.85H696.50M542.80,112.97H696.50M542.80,119.08H696.50M542.80,125.19H696.50M542.80,131.31H696.50M542.80,137.43H696.50M542.80,143.54H696.50M542.80,149.66H696.50M542.80,155.77H696.50M542.80,161.88H696.50M542.80,168.00H696.50" stroke="#2e2e2e" stroke-width="1.05" fill="none"/><rect x="542.80" y="45.70" width="153.70" height="122.30" rx="1.5" fill="none" stroke="#333" stroke-width="1.1"/><path d="M542.80,168.00L658.40,45.70" stroke="#262626" stroke-width="0.9" fill="none"/><path d="M542.80,168.00L696.50,72.50" stroke="#262626" stroke-width="0.9" fill="none"/><path d="M542.80,168.00L696.50,102.80" stroke="#262626" stroke-width="0.9" fill="none"/><path d="M542.80,168.00L696.50,127.70" stroke="#262626" stroke-width="0.9" fill="none"/><path d="M542.80,168.00L696.50,140.60" stroke="#262626" stroke-width="0.9" fill="none"/><path d="M542.80,168.00L696.50,150.40" stroke="#262626" stroke-width="0.9" fill="none"/><path d="M542.80,168.00L555.80,168.00L548.80,165.40L544.80,165.40Z" fill="#1a1a1a"/><rect x="640.50" y="50.30" width="11.00" height="7.50" fill="#fff"/><text transform="translate(643.46,57.30) scale(0.783,1)" text-anchor="middle" font-family='"Liberation Serif", serif' font-weight="bold" font-size="9.56" fill="#111" stroke="#111" stroke-width="0.9">F</text><text transform="translate(648.54,57.30) scale(0.717,1)" text-anchor="middle" font-family='"Liberation Serif", serif' font-weight="bold" font-size="9.56" fill="#111" stroke="#111" stroke-width="0.9">T</text><rect x="683.50" y="72.00" width="9.00" height="8.50" fill="#fff"/><text transform="translate(686.00,80.00) scale(0.534,1)" text-anchor="middle" font-family='"Liberation Serif", serif' font-weight="bold" font-size="11.03" fill="#111" stroke="#111" stroke-width="0.9">F</text><text transform="translate(690.00,80.00) scale(0.452,1)" text-anchor="middle" font-family='"Liberation Serif", serif' font-weight="bold" font-size="11.03" fill="#111" stroke="#111" stroke-width="0.9">C</text><rect x="683.50" y="99.00" width="9.00" height="7.50" fill="#fff"/><text transform="translate(686.00,106.00) scale(0.617,1)" text-anchor="middle" font-family='"Liberation Serif", serif' font-weight="bold" font-size="9.56" fill="#111" stroke="#111" stroke-width="0.9">F</text><text transform="translate(690.00,106.00) scale(0.522,1)" text-anchor="middle" font-family='"Liberation Serif", serif' font-weight="bold" font-size="9.56" fill="#111" stroke="#111" stroke-width="0.9">D</text><rect x="683.50" y="118.50" width="9.00" height="6.40" fill="#fff"/><text transform="translate(686.00,124.40) scale(0.742,1)" text-anchor="middle" font-family='"Liberation Serif", serif' font-weight="bold" font-size="7.94" fill="#111" stroke="#111" stroke-width="0.9">F</text><text transform="translate(690.00,124.40) scale(0.628,1)" text-anchor="middle" font-family='"Liberation Serif", serif' font-weight="bold" font-size="7.94" fill="#111" stroke="#111" stroke-width="0.9">V</text><rect x="683.50" y="143.50" width="9.00" height="7.40" fill="#fff"/><text transform="translate(686.00,150.40) scale(0.405,1)" text-anchor="middle" font-family='"Liberation Serif", serif' font-weight="bold" font-size="9.41" fill="#111" stroke="#111" stroke-width="0.9">M</text><text transform="translate(690.00,150.40) scale(0.530,1)" text-anchor="middle" font-family='"Liberation Serif", serif' font-weight="bold" font-size="9.41" fill="#111" stroke="#111" stroke-width="0.9">V</text><rect x="683.50" y="154.20" width="9.00" height="7.30" fill="#fff"/><text transform="translate(686.00,161.00) scale(0.412,1)" text-anchor="middle" font-family='"Liberation Serif", serif' font-weight="bold" font-size="9.26" fill="#111" stroke="#111" stroke-width="0.9">M</text><text transform="translate(690.00,161.00) scale(0.583,1)" text-anchor="middle" font-family='"Liberation Serif", serif' font-weight="bold" font-size="9.26" fill="#111" stroke="#111" stroke-width="0.9">E</text><text transform="translate(553.30,41.10) scale(0.6200,1)" x="0" y="0" text-anchor="middle" font-family='"Liberation Serif", serif' font-weight="normal" font-size="13.64" fill="#111" stroke="#111" stroke-width="0.85">P</text><text transform="translate(558.90,41.10) scale(0.7000,1)" x="0" y="0" text-anchor="middle" font-family='"Liberation Serif", serif' font-weight="normal" font-size="13.64" fill="#111" stroke="#111" stroke-width="0.85">(</text><text transform="translate(562.30,41.10) scale(0.5500,1)" x="0" y="0" text-anchor="middle" font-family='"Liberation Serif", serif' font-weight="normal" font-size="13.64" fill="#111" stroke="#111" stroke-width="0.85">1</text><text transform="translate(567.50,41.10) scale(0.5000,1)" x="0" y="0" text-anchor="middle" font-family='"Liberation Serif", serif' font-weight="normal" font-size="13.64" fill="#111" stroke="#111" stroke-width="0.85">X</text><text transform="translate(572.30,41.10) scale(0.5500,1)" x="0" y="0" text-anchor="middle" font-family='"Liberation Serif", serif' font-weight="normal" font-size="13.64" fill="#111" stroke="#111" stroke-width="0.85">1</text><text transform="translate(577.00,41.10) scale(0.6400,1)" x="0" y="0" text-anchor="middle" font-family='"Liberation Serif", serif' font-weight="normal" font-size="13.64" fill="#111" stroke="#111" stroke-width="0.85">0</text><text transform="translate(586.70,41.10) scale(0.6200,1)" x="0" y="0" text-anchor="middle" font-family='"Liberation Serif", serif' font-weight="normal" font-size="13.64" fill="#111" stroke="#111" stroke-width="0.85">P</text><text transform="translate(591.40,41.10) scale(0.7200,1)" x="0" y="0" text-anchor="middle" font-family='"Liberation Serif", serif' font-weight="normal" font-size="13.64" fill="#111" stroke="#111" stroke-width="0.85">a</text><text transform="translate(596.40,41.10) scale(0.7000,1)" x="0" y="0" text-anchor="middle" font-family='"Liberation Serif", serif' font-weight="normal" font-size="13.64" fill="#111" stroke="#111" stroke-width="0.85">)</text><text transform="translate(546.70,40.80) scale(0.8000,1)" x="0" y="0" text-anchor="middle" font-family='"Liberation Serif", serif' font-weight="bold" font-size="11.67" fill="#111" stroke="#111" stroke-width="0.3">Δ</text><text transform="translate(578.90,32.10) scale(0.9000,1)" x="0" y="0" text-anchor="middle" font-family='"Liberation Serif", serif' font-weight="bold" font-size="7.13" fill="#111" stroke="#111" stroke-width="0.5">5</text><text transform="translate(616.10,41.40) scale(0.600,1)" text-anchor="middle" font-family='"Liberation Serif", serif' font-weight="bold" font-size="14.85" fill="#111" stroke="#111" stroke-width="0.45">0</text><text transform="translate(621.05,41.40) scale(0.600,1)" text-anchor="middle" font-family='"Liberation Serif", serif' font-weight="bold" font-size="14.85" fill="#111" stroke="#111" stroke-width="0.45">1</text><text transform="translate(626.00,41.40) scale(0.600,1)" text-anchor="middle" font-family='"Liberation Serif", serif' font-weight="bold" font-size="14.85" fill="#111" stroke="#111" stroke-width="0.45">6</text><text transform="translate(630.95,41.40) scale(0.600,1)" text-anchor="middle" font-family='"Liberation Serif", serif' font-weight="bold" font-size="14.85" fill="#111" stroke="#111" stroke-width="0.45">0</text><text transform="translate(635.90,41.40) scale(0.415,1)" text-anchor="middle" font-family='"Liberation Serif", serif' font-weight="bold" font-size="14.85" fill="#111" stroke="#111" stroke-width="0.45">R</text><text transform="translate(525.89,50.35) scale(0.633,1)" text-anchor="middle" font-family='"Liberation Serif", serif' font-weight="normal" font-size="13.97" fill="#111" stroke="#111" stroke-width="0.65">1</text><text transform="translate(530.80,50.35) scale(1.000,1)" text-anchor="middle" font-family='"Liberation Serif", serif' font-weight="normal" font-size="13.97" fill="#111" stroke="#111" stroke-width="0.65">.</text><text transform="translate(535.71,50.35) scale(0.633,1)" text-anchor="middle" font-family='"Liberation Serif", serif' font-weight="normal" font-size="13.97" fill="#111" stroke="#111" stroke-width="0.65">6</text><text transform="translate(525.89,81.60) scale(0.633,1)" text-anchor="middle" font-family='"Liberation Serif", serif' font-weight="normal" font-size="13.97" fill="#111" stroke="#111" stroke-width="0.65">1</text><text transform="translate(530.80,81.60) scale(1.000,1)" text-anchor="middle" font-family='"Liberation Serif", serif' font-weight="normal" font-size="13.97" fill="#111" stroke="#111" stroke-width="0.65">.</text><text transform="translate(535.71,81.60) scale(0.633,1)" text-anchor="middle" font-family='"Liberation Serif", serif' font-weight="normal" font-size="13.97" fill="#111" stroke="#111" stroke-width="0.65">2</text><text transform="translate(525.89,112.35) scale(0.633,1)" text-anchor="middle" font-family='"Liberation Serif", serif' font-weight="normal" font-size="13.97" fill="#111" stroke="#111" stroke-width="0.65">0</text><text transform="translate(530.80,112.35) scale(1.000,1)" text-anchor="middle" font-family='"Liberation Serif", serif' font-weight="normal" font-size="13.97" fill="#111" stroke="#111" stroke-width="0.65">.</text><text transform="translate(535.71,112.35) scale(0.633,1)" text-anchor="middle" font-family='"Liberation Serif", serif' font-weight="normal" font-size="13.97" fill="#111" stroke="#111" stroke-width="0.65">8</text><text transform="translate(525.89,143.85) scale(0.633,1)" text-anchor="middle" font-family='"Liberation Serif", serif' font-weight="normal" font-size="13.97" fill="#111" stroke="#111" stroke-width="0.65">0</text><text transform="translate(530.80,143.85) scale(1.000,1)" text-anchor="middle" font-family='"Liberation Serif", serif' font-weight="normal" font-size="13.97" fill="#111" stroke="#111" stroke-width="0.65">.</text><text transform="translate(535.71,143.85) scale(0.633,1)" text-anchor="middle" font-family='"Liberation Serif", serif' font-weight="normal" font-size="13.97" fill="#111" stroke="#111" stroke-width="0.65">4</text><text transform="translate(536.90,180.80) scale(0.736,1)" text-anchor="middle" font-family='"Liberation Serif", serif' font-weight="normal" font-size="13.53" fill="#111" stroke="#111" stroke-width="0.65">0</text><text transform="translate(570.29,180.80) scale(0.654,1)" text-anchor="middle" font-family='"Liberation Serif", serif' font-weight="normal" font-size="13.53" fill="#111" stroke="#111" stroke-width="0.65">5</text><text transform="translate(575.21,180.80) scale(0.654,1)" text-anchor="middle" font-family='"Liberation Serif", serif' font-weight="normal" font-size="13.53" fill="#111" stroke="#111" stroke-width="0.65">0</text><text transform="translate(598.76,180.80) scale(0.630,1)" text-anchor="middle" font-family='"Liberation Serif", serif' font-weight="normal" font-size="13.53" fill="#111" stroke="#111" stroke-width="0.65">1</text><text transform="translate(603.50,180.80) scale(0.630,1)" text-anchor="middle" font-family='"Liberation Serif", serif' font-weight="normal" font-size="13.53" fill="#111" stroke="#111" stroke-width="0.65">0</text><text transform="translate(608.24,180.80) scale(0.630,1)" text-anchor="middle" font-family='"Liberation Serif", serif' font-weight="normal" font-size="13.53" fill="#111" stroke="#111" stroke-width="0.65">0</text><text transform="translate(631.76,180.80) scale(0.630,1)" text-anchor="middle" font-family='"Liberation Serif", serif' font-weight="normal" font-size="13.53" fill="#111" stroke="#111" stroke-width="0.65">1</text><text transform="translate(636.50,180.80) scale(0.630,1)" text-anchor="middle" font-family='"Liberation Serif", serif' font-weight="normal" font-size="13.53" fill="#111" stroke="#111" stroke-width="0.65">5</text><text transform="translate(641.24,180.80) scale(0.630,1)" text-anchor="middle" font-family='"Liberation Serif", serif' font-weight="normal" font-size="13.53" fill="#111" stroke="#111" stroke-width="0.65">0</text><text transform="translate(663.16,180.80) scale(0.630,1)" text-anchor="middle" font-family='"Liberation Serif", serif' font-weight="normal" font-size="13.53" fill="#111" stroke="#111" stroke-width="0.65">2</text><text transform="translate(667.90,180.80) scale(0.630,1)" text-anchor="middle" font-family='"Liberation Serif", serif' font-weight="normal" font-size="13.53" fill="#111" stroke="#111" stroke-width="0.65">0</text><text transform="translate(672.64,180.80) scale(0.630,1)" text-anchor="middle" font-family='"Liberation Serif", serif' font-weight="normal" font-size="13.53" fill="#111" stroke="#111" stroke-width="0.65">0</text><text transform="translate(693.26,180.80) scale(0.630,1)" text-anchor="middle" font-family='"Liberation Serif", serif' font-weight="normal" font-size="13.53" fill="#111" stroke="#111" stroke-width="0.65">2</text><text transform="translate(698.00,180.80) scale(0.630,1)" text-anchor="middle" font-family='"Liberation Serif", serif' font-weight="normal" font-size="13.53" fill="#111" stroke="#111" stroke-width="0.65">5</text><text transform="translate(702.74,180.80) scale(0.630,1)" text-anchor="middle" font-family='"Liberation Serif", serif' font-weight="normal" font-size="13.53" fill="#111" stroke="#111" stroke-width="0.65">0</text><g transform="translate(519.70,153.50) rotate(-90)"><text transform="translate(1.98,0.00) scale(0.584,1)" text-anchor="middle" font-family='"Liberation Serif", serif' font-weight="normal" font-size="12.94" fill="#111" stroke="#111" stroke-width="0.65">P</text><text transform="translate(6.65,0.00) scale(0.975,1)" text-anchor="middle" font-family='"Liberation Serif", serif' font-weight="normal" font-size="12.94" fill="#111" stroke="#111" stroke-width="0.65">r</text><text transform="translate(11.32,0.00) scale(0.732,1)" text-anchor="middle" font-family='"Liberation Serif", serif' font-weight="normal" font-size="12.94" fill="#111" stroke="#111" stroke-width="0.65">e</text><text transform="translate(15.99,0.00) scale(0.834,1)" text-anchor="middle" font-family='"Liberation Serif", serif' font-weight="normal" font-size="12.94" fill="#111" stroke="#111" stroke-width="0.65">s</text><text transform="translate(20.66,0.00) scale(0.834,1)" text-anchor="middle" font-family='"Liberation Serif", serif' font-weight="normal" font-size="12.94" fill="#111" stroke="#111" stroke-width="0.65">s</text><text transform="translate(25.33,0.00) scale(0.649,1)" text-anchor="middle" font-family='"Liberation Serif", serif' font-weight="normal" font-size="12.94" fill="#111" stroke="#111" stroke-width="0.65">u</text><text transform="translate(30.00,0.00) scale(0.975,1)" text-anchor="middle" font-family='"Liberation Serif", serif' font-weight="normal" font-size="12.94" fill="#111" stroke="#111" stroke-width="0.65">r</text><text transform="translate(34.67,0.00) scale(0.732,1)" text-anchor="middle" font-family='"Liberation Serif", serif' font-weight="normal" font-size="12.94" fill="#111" stroke="#111" stroke-width="0.65">e</text><text transform="translate(44.01,0.00) scale(0.450,1)" text-anchor="middle" font-family='"Liberation Serif", serif' font-weight="normal" font-size="12.94" fill="#111" stroke="#111" stroke-width="0.65">D</text><text transform="translate(48.68,0.00) scale(0.975,1)" text-anchor="middle" font-family='"Liberation Serif", serif' font-weight="normal" font-size="12.94" fill="#111" stroke="#111" stroke-width="0.65">r</text><text transform="translate(53.35,0.00) scale(0.649,1)" text-anchor="middle" font-family='"Liberation Serif", serif' font-weight="normal" font-size="12.94" fill="#111" stroke="#111" stroke-width="0.65">o</text><text transform="translate(58.02,0.00) scale(0.649,1)" text-anchor="middle" font-family='"Liberation Serif", serif' font-weight="normal" font-size="12.94" fill="#111" stroke="#111" stroke-width="0.65">p</text></g><path d="M0.8,1.2 L2.2,2.6 M0.3,4.6 L1.8,5.8 M0.5,11.2 L2.4,7.4 M6.6,0.3 L7.1,1.6 M3.8,2.2 H9.8 M6.4,2.3 L4.8,5 H9.2 M8.1,3.6 L9,4.8 M5.2,6.8 Q5.2,10 3.8,11.8 M7,6.8 V11.2 M9,6.8 V11.1 H9.9" transform="translate(566.60,184.90) scale(0.860,1.025)" fill="none" stroke="#111" stroke-width="1.38" stroke-linecap="square"/><path d="M2,0.5 H8 V3.8 H2 Z M2,2.15 H8 M0.3,4.8 H9.7 M1.9,5.8 H8.1 V9.1 H1.9 Z M1.9,7.45 H8.1 M5,5.8 V11.4 M2.4,10.3 H7.6 M0.6,11.5 H9.4" transform="translate(576.80,184.90) scale(0.780,1.025)" fill="none" stroke="#111" stroke-width="1.11" stroke-linecap="square"/><text transform="translate(592.50,195.70) scale(0.638,1)" text-anchor="middle" font-family='"Liberation Serif", serif' font-weight="normal" font-size="11.91" fill="#111" stroke="#111" stroke-width="0.65">F</text><text transform="translate(597.19,195.70) scale(1.000,1)" text-anchor="middle" font-family='"Liberation Serif", serif' font-weight="normal" font-size="11.91" fill="#111" stroke="#111" stroke-width="0.65">l</text><text transform="translate(601.89,195.70) scale(0.710,1)" text-anchor="middle" font-family='"Liberation Serif", serif' font-weight="normal" font-size="11.91" fill="#111" stroke="#111" stroke-width="0.65">o</text><text transform="translate(606.59,195.70) scale(0.491,1)" text-anchor="middle" font-family='"Liberation Serif", serif' font-weight="normal" font-size="11.91" fill="#111" stroke="#111" stroke-width="0.65">w</text><text transform="translate(615.99,195.70) scale(0.532,1)" text-anchor="middle" font-family='"Liberation Serif", serif' font-weight="normal" font-size="11.91" fill="#111" stroke="#111" stroke-width="0.65">R</text><text transform="translate(620.68,195.70) scale(0.800,1)" text-anchor="middle" font-family='"Liberation Serif", serif' font-weight="normal" font-size="11.91" fill="#111" stroke="#111" stroke-width="0.65">a</text><text transform="translate(625.38,195.70) scale(1.000,1)" text-anchor="middle" font-family='"Liberation Serif", serif' font-weight="normal" font-size="11.91" fill="#111" stroke="#111" stroke-width="0.65">t</text><text transform="translate(630.08,195.70) scale(0.800,1)" text-anchor="middle" font-family='"Liberation Serif", serif' font-weight="normal" font-size="11.91" fill="#111" stroke="#111" stroke-width="0.65">e</text><text transform="translate(644.17,195.70) scale(0.491,1)" text-anchor="middle" font-family='"Liberation Serif", serif' font-weight="normal" font-size="11.91" fill="#111" stroke="#111" stroke-width="0.65">Q</text><text transform="translate(653.57,195.70) scale(1.000,1)" text-anchor="middle" font-family='"Liberation Serif", serif' font-weight="normal" font-size="11.91" fill="#111" stroke="#111" stroke-width="0.65">(</text><text transform="translate(658.26,195.70) scale(0.581,1)" text-anchor="middle" font-family='"Liberation Serif", serif' font-weight="normal" font-size="11.91" fill="#111" stroke="#111" stroke-width="0.65">L</text><text transform="translate(662.96,195.70) scale(1.000,1)" text-anchor="middle" font-family='"Liberation Serif", serif' font-weight="normal" font-size="11.91" fill="#111" stroke="#111" stroke-width="0.65">/</text><text transform="translate(667.66,195.70) scale(0.456,1)" text-anchor="middle" font-family='"Liberation Serif", serif' font-weight="normal" font-size="11.91" fill="#111" stroke="#111" stroke-width="0.65">m</text><text transform="translate(672.36,195.70) scale(1.000,1)" text-anchor="middle" font-family='"Liberation Serif", serif' font-weight="normal" font-size="11.91" fill="#111" stroke="#111" stroke-width="0.65">i</text><text transform="translate(677.06,195.70) scale(0.710,1)" text-anchor="middle" font-family='"Liberation Serif", serif' font-weight="normal" font-size="11.91" fill="#111" stroke="#111" stroke-width="0.65">n</text><text transform="translate(681.75,195.70) scale(1.000,1)" text-anchor="middle" font-family='"Liberation Serif", serif' font-weight="normal" font-size="11.91" fill="#111" stroke="#111" stroke-width="0.65">)</text><path d="M123.00,248.40V371.30M129.14,248.40V371.30M135.28,248.40V371.30M141.42,248.40V371.30M147.56,248.40V371.30M153.70,248.40V371.30M159.84,248.40V371.30M165.98,248.40V371.30M172.12,248.40V371.30M178.26,248.40V371.30M184.40,248.40V371.30M190.54,248.40V371.30M196.68,248.40V371.30M202.82,248.40V371.30M208.96,248.40V371.30M215.10,248.40V371.30M221.24,248.40V371.30M227.38,248.40V371.30M233.52,248.40V371.30M239.66,248.40V371.30M245.80,248.40V371.30M251.94,248.40V371.30M258.08,248.40V371.30M264.22,248.40V371.30M270.36,248.40V371.30M276.50,248.40V371.30M123.00,248.40H276.50M123.00,254.55H276.50M123.00,260.69H276.50M123.00,266.84H276.50M123.00,272.98H276.50M123.00,279.12H276.50M123.00,285.27H276.50M123.00,291.42H276.50M123.00,297.56H276.50M123.00,303.71H276.50M123.00,309.85H276.50M123.00,316.00H276.50M123.00,322.14H276.50M123.00,328.29H276.50M123.00,334.43H276.50M123.00,340.57H276.50M123.00,346.72H276.50M123.00,352.87H276.50M123.00,359.01H276.50M123.00,365.15H276.50M123.00,371.30H276.50" stroke="#2e2e2e" stroke-width="1.05" fill="none"/><rect x="123.00" y="248.40" width="153.50" height="122.90" rx="1.5" fill="none" stroke="#333" stroke-width="1.1"/><path d="M123.00,371.30L276.50,254.90" stroke="#262626" stroke-width="0.9" fill="none"/><path d="M123.00,371.30L276.50,285.20" stroke="#262626" stroke-width="0.9" fill="none"/><path d="M123.00,371.30L276.50,304.70" stroke="#262626" stroke-width="0.9" fill="none"/><path d="M123.00,371.30L276.50,335.00" stroke="#262626" stroke-width="0.9" fill="none"/><path d="M123.00,371.30L276.50,353.40" stroke="#262626" stroke-width="0.9" fill="none"/><path d="M123.00,371.30L276.50,360.00" stroke="#262626" stroke-width="0.9" fill="none"/><path d="M123.00,371.30L136.00,371.30L129.00,368.70L125.00,368.70Z" fill="#1a1a1a"/><rect x="263.10" y="249.00" width="9.40" height="6.50" fill="#fff"/><text transform="translate(265.69,255.00) scale(0.768,1)" text-anchor="middle" font-family='"Liberation Serif", serif' font-weight="bold" font-size="8.09" fill="#111" stroke="#111" stroke-width="0.9">F</text><text transform="translate(269.91,255.00) scale(0.703,1)" text-anchor="middle" font-family='"Liberation Serif", serif' font-weight="bold" font-size="8.09" fill="#111" stroke="#111" stroke-width="0.9">T</text><rect x="263.10" y="278.20" width="9.40" height="7.50" fill="#fff"/><text transform="translate(265.69,285.20) scale(0.650,1)" text-anchor="middle" font-family='"Liberation Serif", serif' font-weight="bold" font-size="9.56" fill="#111" stroke="#111" stroke-width="0.9">F</text><text transform="translate(269.91,285.20) scale(0.550,1)" text-anchor="middle" font-family='"Liberation Serif", serif' font-weight="bold" font-size="9.56" fill="#111" stroke="#111" stroke-width="0.9">C</text><rect x="263.10" y="297.50" width="9.40" height="7.70" fill="#fff"/><text transform="translate(265.69,304.70) scale(0.630,1)" text-anchor="middle" font-family='"Liberation Serif", serif' font-weight="bold" font-size="9.85" fill="#111" stroke="#111" stroke-width="0.9">F</text><text transform="translate(269.91,304.70) scale(0.533,1)" text-anchor="middle" font-family='"Liberation Serif", serif' font-weight="bold" font-size="9.85" fill="#111" stroke="#111" stroke-width="0.9">D</text><rect x="263.10" y="328.00" width="9.40" height="6.50" fill="#fff"/><text transform="translate(265.69,334.00) scale(0.768,1)" text-anchor="middle" font-family='"Liberation Serif", serif' font-weight="bold" font-size="8.09" fill="#111" stroke="#111" stroke-width="0.9">F</text><text transform="translate(269.91,334.00) scale(0.650,1)" text-anchor="middle" font-family='"Liberation Serif", serif' font-weight="bold" font-size="8.09" fill="#111" stroke="#111" stroke-width="0.9">V</text><rect x="263.10" y="346.50" width="9.40" height="6.30" fill="#fff"/><text transform="translate(265.69,352.30) scale(0.516,1)" text-anchor="middle" font-family='"Liberation Serif", serif' font-weight="bold" font-size="7.79" fill="#111" stroke="#111" stroke-width="0.9">M</text><text transform="translate(269.91,352.30) scale(0.674,1)" text-anchor="middle" font-family='"Liberation Serif", serif' font-weight="bold" font-size="7.79" fill="#111" stroke="#111" stroke-width="0.9">V</text><rect x="263.10" y="363.50" width="9.40" height="7.70" fill="#fff"/><text transform="translate(265.69,370.70) scale(0.408,1)" text-anchor="middle" font-family='"Liberation Serif", serif' font-weight="bold" font-size="9.85" fill="#111" stroke="#111" stroke-width="0.9">M</text><text transform="translate(269.91,370.70) scale(0.577,1)" text-anchor="middle" font-family='"Liberation Serif", serif' font-weight="bold" font-size="9.85" fill="#111" stroke="#111" stroke-width="0.9">E</text><text transform="translate(133.30,245.25) scale(0.6200,1)" x="0" y="0" text-anchor="middle" font-family='"Liberation Serif", serif' font-weight="normal" font-size="13.64" fill="#111" stroke="#111" stroke-width="0.85">P</text><text transform="translate(138.90,245.25) scale(0.7000,1)" x="0" y="0" text-anchor="middle" font-family='"Liberation Serif", serif' font-weight="normal" font-size="13.64" fill="#111" stroke="#111" stroke-width="0.85">(</text><text transform="translate(142.30,245.25) scale(0.5500,1)" x="0" y="0" text-anchor="middle" font-family='"Liberation Serif", serif' font-weight="normal" font-size="13.64" fill="#111" stroke="#111" stroke-width="0.85">1</text><text transform="translate(147.50,245.25) scale(0.5000,1)" x="0" y="0" text-anchor="middle" font-family='"Liberation Serif", serif' font-weight="normal" font-size="13.64" fill="#111" stroke="#111" stroke-width="0.85">X</text><text transform="translate(152.30,245.25) scale(0.5500,1)" x="0" y="0" text-anchor="middle" font-family='"Liberation Serif", serif' font-weight="normal" font-size="13.64" fill="#111" stroke="#111" stroke-width="0.85">1</text><text transform="translate(157.00,245.25) scale(0.6400,1)" x="0" y="0" text-anchor="middle" font-family='"Liberation Serif", serif' font-weight="normal" font-size="13.64" fill="#111" stroke="#111" stroke-width="0.85">0</text><text transform="translate(166.70,245.25) scale(0.6200,1)" x="0" y="0" text-anchor="middle" font-family='"Liberation Serif", serif' font-weight="normal" font-size="13.64" fill="#111" stroke="#111" stroke-width="0.85">P</text><text transform="translate(171.40,245.25) scale(0.7200,1)" x="0" y="0" text-anchor="middle" font-family='"Liberation Serif", serif' font-weight="normal" font-size="13.64" fill="#111" stroke="#111" stroke-width="0.85">a</text><text transform="translate(176.40,245.25) scale(0.7000,1)" x="0" y="0" text-anchor="middle" font-family='"Liberation Serif", serif' font-weight="normal" font-size="13.64" fill="#111" stroke="#111" stroke-width="0.85">)</text><text transform="translate(126.70,244.95) scale(0.8000,1)" x="0" y="0" text-anchor="middle" font-family='"Liberation Serif", serif' font-weight="bold" font-size="11.67" fill="#111" stroke="#111" stroke-width="0.3">Δ</text><text transform="translate(158.90,236.25) scale(0.9000,1)" x="0" y="0" text-anchor="middle" font-family='"Liberation Serif", serif' font-weight="bold" font-size="7.13" fill="#111" stroke="#111" stroke-width="0.5">5</text><text transform="translate(189.02,245.55) scale(0.575,1)" text-anchor="middle" font-family='"Liberation Serif", serif' font-weight="bold" font-size="14.85" fill="#111" stroke="#111" stroke-width="0.45">0</text><text transform="translate(193.76,245.55) scale(0.575,1)" text-anchor="middle" font-family='"Liberation Serif", serif' font-weight="bold" font-size="14.85" fill="#111" stroke="#111" stroke-width="0.45">2</text><text transform="translate(198.50,245.55) scale(0.575,1)" text-anchor="middle" font-family='"Liberation Serif", serif' font-weight="bold" font-size="14.85" fill="#111" stroke="#111" stroke-width="0.45">4</text><text transform="translate(203.24,245.55) scale(0.575,1)" text-anchor="middle" font-family='"Liberation Serif", serif' font-weight="bold" font-size="14.85" fill="#111" stroke="#111" stroke-width="0.45">0</text><text transform="translate(207.98,245.55) scale(0.398,1)" text-anchor="middle" font-family='"Liberation Serif", serif' font-weight="bold" font-size="14.85" fill="#111" stroke="#111" stroke-width="0.45">R</text><text transform="translate(106.09,256.10) scale(0.633,1)" text-anchor="middle" font-family='"Liberation Serif", serif' font-weight="normal" font-size="13.97" fill="#111" stroke="#111" stroke-width="0.65">1</text><text transform="translate(111.00,256.10) scale(1.000,1)" text-anchor="middle" font-family='"Liberation Serif", serif' font-weight="normal" font-size="13.97" fill="#111" stroke="#111" stroke-width="0.65">.</text><text transform="translate(115.91,256.10) scale(0.633,1)" text-anchor="middle" font-family='"Liberation Serif", serif' font-weight="normal" font-size="13.97" fill="#111" stroke="#111" stroke-width="0.65">6</text><text transform="translate(106.09,283.85) scale(0.633,1)" text-anchor="middle" font-family='"Liberation Serif", serif' font-weight="normal" font-size="13.97" fill="#111" stroke="#111" stroke-width="0.65">1</text><text transform="translate(111.00,283.85) scale(1.000,1)" text-anchor="middle" font-family='"Liberation Serif", serif' font-weight="normal" font-size="13.97" fill="#111" stroke="#111" stroke-width="0.65">.</text><text transform="translate(115.91,283.85) scale(0.633,1)" text-anchor="middle" font-family='"Liberation Serif", serif' font-weight="normal" font-size="13.97" fill="#111" stroke="#111" stroke-width="0.65">2</text><text transform="translate(106.09,317.35) scale(0.633,1)" text-anchor="middle" font-family='"Liberation Serif", serif' font-weight="normal" font-size="13.97" fill="#111" stroke="#111" stroke-width="0.65">0</text><text transform="translate(111.00,317.35) scale(1.000,1)" text-anchor="middle" font-family='"Liberation Serif", serif' font-weight="normal" font-size="13.97" fill="#111" stroke="#111" stroke-width="0.65">.</text><text transform="translate(115.91,317.35) scale(0.633,1)" text-anchor="middle" font-family='"Liberation Serif", serif' font-weight="normal" font-size="13.97" fill="#111" stroke="#111" stroke-width="0.65">8</text><text transform="translate(106.09,346.85) scale(0.633,1)" text-anchor="middle" font-family='"Liberation Serif", serif' font-weight="normal" font-size="13.97" fill="#111" stroke="#111" stroke-width="0.65">0</text><text transform="translate(111.00,346.85) scale(1.000,1)" text-anchor="middle" font-family='"Liberation Serif", serif' font-weight="normal" font-size="13.97" fill="#111" stroke="#111" stroke-width="0.65">.</text><text transform="translate(115.91,346.85) scale(0.633,1)" text-anchor="middle" font-family='"Liberation Serif", serif' font-weight="normal" font-size="13.97" fill="#111" stroke="#111" stroke-width="0.65">4</text><text transform="translate(116.90,383.20) scale(0.698,1)" text-anchor="middle" font-family='"Liberation Serif", serif' font-weight="normal" font-size="14.26" fill="#111" stroke="#111" stroke-width="0.65">0</text><text transform="translate(150.54,383.20) scale(0.621,1)" text-anchor="middle" font-family='"Liberation Serif", serif' font-weight="normal" font-size="14.26" fill="#111" stroke="#111" stroke-width="0.65">5</text><text transform="translate(155.46,383.20) scale(0.621,1)" text-anchor="middle" font-family='"Liberation Serif", serif' font-weight="normal" font-size="14.26" fill="#111" stroke="#111" stroke-width="0.65">0</text><text transform="translate(178.76,383.20) scale(0.598,1)" text-anchor="middle" font-family='"Liberation Serif", serif' font-weight="normal" font-size="14.26" fill="#111" stroke="#111" stroke-width="0.65">1</text><text transform="translate(183.50,383.20) scale(0.598,1)" text-anchor="middle" font-family='"Liberation Serif", serif' font-weight="normal" font-size="14.26" fill="#111" stroke="#111" stroke-width="0.65">0</text><text transform="translate(188.24,383.20) scale(0.598,1)" text-anchor="middle" font-family='"Liberation Serif", serif' font-weight="normal" font-size="14.26" fill="#111" stroke="#111" stroke-width="0.65">0</text><text transform="translate(211.76,383.20) scale(0.598,1)" text-anchor="middle" font-family='"Liberation Serif", serif' font-weight="normal" font-size="14.26" fill="#111" stroke="#111" stroke-width="0.65">1</text><text transform="translate(216.50,383.20) scale(0.598,1)" text-anchor="middle" font-family='"Liberation Serif", serif' font-weight="normal" font-size="14.26" fill="#111" stroke="#111" stroke-width="0.65">5</text><text transform="translate(221.24,383.20) scale(0.598,1)" text-anchor="middle" font-family='"Liberation Serif", serif' font-weight="normal" font-size="14.26" fill="#111" stroke="#111" stroke-width="0.65">0</text><text transform="translate(243.16,383.20) scale(0.598,1)" text-anchor="middle" font-family='"Liberation Serif", serif' font-weight="normal" font-size="14.26" fill="#111" stroke="#111" stroke-width="0.65">2</text><text transform="translate(247.90,383.20) scale(0.598,1)" text-anchor="middle" font-family='"Liberation Serif", serif' font-weight="normal" font-size="14.26" fill="#111" stroke="#111" stroke-width="0.65">0</text><text transform="translate(252.64,383.20) scale(0.598,1)" text-anchor="middle" font-family='"Liberation Serif", serif' font-weight="normal" font-size="14.26" fill="#111" stroke="#111" stroke-width="0.65">0</text><text transform="translate(273.26,383.20) scale(0.598,1)" text-anchor="middle" font-family='"Liberation Serif", serif' font-weight="normal" font-size="14.26" fill="#111" stroke="#111" stroke-width="0.65">2</text><text transform="translate(278.00,383.20) scale(0.598,1)" text-anchor="middle" font-family='"Liberation Serif", serif' font-weight="normal" font-size="14.26" fill="#111" stroke="#111" stroke-width="0.65">5</text><text transform="translate(282.74,383.20) scale(0.598,1)" text-anchor="middle" font-family='"Liberation Serif", serif' font-weight="normal" font-size="14.26" fill="#111" stroke="#111" stroke-width="0.65">0</text><g transform="translate(101.20,343.50) rotate(-90)"><text transform="translate(1.97,0.00) scale(0.579,1)" text-anchor="middle" font-family='"Liberation Serif", serif' font-weight="normal" font-size="12.94" fill="#111" stroke="#111" stroke-width="0.65">P</text><text transform="translate(6.60,0.00) scale(0.967,1)" text-anchor="middle" font-family='"Liberation Serif", serif' font-weight="normal" font-size="12.94" fill="#111" stroke="#111" stroke-width="0.65">r</text><text transform="translate(11.23,0.00) scale(0.726,1)" text-anchor="middle" font-family='"Liberation Serif", serif' font-weight="normal" font-size="12.94" fill="#111" stroke="#111" stroke-width="0.65">e</text><text transform="translate(15.86,0.00) scale(0.827,1)" text-anchor="middle" font-family='"Liberation Serif", serif' font-weight="normal" font-size="12.94" fill="#111" stroke="#111" stroke-width="0.65">s</text><text transform="translate(20.49,0.00) scale(0.827,1)" text-anchor="middle" font-family='"Liberation Serif", serif' font-weight="normal" font-size="12.94" fill="#111" stroke="#111" stroke-width="0.65">s</text><text transform="translate(25.12,0.00) scale(0.644,1)" text-anchor="middle" font-family='"Liberation Serif", serif' font-weight="normal" font-size="12.94" fill="#111" stroke="#111" stroke-width="0.65">u</text><text transform="translate(29.75,0.00) scale(0.967,1)" text-anchor="middle" font-family='"Liberation Serif", serif' font-weight="normal" font-size="12.94" fill="#111" stroke="#111" stroke-width="0.65">r</text><text transform="translate(34.38,0.00) scale(0.726,1)" text-anchor="middle" font-family='"Liberation Serif", serif' font-weight="normal" font-size="12.94" fill="#111" stroke="#111" stroke-width="0.65">e</text><text transform="translate(43.64,0.00) scale(0.446,1)" text-anchor="middle" font-family='"Liberation Serif", serif' font-weight="normal" font-size="12.94" fill="#111" stroke="#111" stroke-width="0.65">D</text><text transform="translate(48.27,0.00) scale(0.967,1)" text-anchor="middle" font-family='"Liberation Serif", serif' font-weight="normal" font-size="12.94" fill="#111" stroke="#111" stroke-width="0.65">r</text><text transform="translate(52.90,0.00) scale(0.644,1)" text-anchor="middle" font-family='"Liberation Serif", serif' font-weight="normal" font-size="12.94" fill="#111" stroke="#111" stroke-width="0.65">o</text><text transform="translate(57.53,0.00) scale(0.644,1)" text-anchor="middle" font-family='"Liberation Serif", serif' font-weight="normal" font-size="12.94" fill="#111" stroke="#111" stroke-width="0.65">p</text></g><path d="M0.8,1.2 L2.2,2.6 M0.3,4.6 L1.8,5.8 M0.5,11.2 L2.4,7.4 M6.6,0.3 L7.1,1.6 M3.8,2.2 H9.8 M6.4,2.3 L4.8,5 H9.2 M8.1,3.6 L9,4.8 M5.2,6.8 Q5.2,10 3.8,11.8 M7,6.8 V11.2 M9,6.8 V11.1 H9.9" transform="translate(146.60,387.65) scale(0.860,1.088)" fill="none" stroke="#111" stroke-width="1.34" stroke-linecap="square"/><path d="M2,0.5 H8 V3.8 H2 Z M2,2.15 H8 M0.3,4.8 H9.7 M1.9,5.8 H8.1 V9.1 H1.9 Z M1.9,7.45 H8.1 M5,5.8 V11.4 M2.4,10.3 H7.6 M0.6,11.5 H9.4" transform="translate(156.80,387.65) scale(0.780,1.088)" fill="none" stroke="#111" stroke-width="1.07" stroke-linecap="square"/><text transform="translate(172.50,399.20) scale(0.584,1)" text-anchor="middle" font-family='"Liberation Serif", serif' font-weight="normal" font-size="13.01" fill="#111" stroke="#111" stroke-width="0.65">F</text><text transform="translate(177.19,399.20) scale(1.000,1)" text-anchor="middle" font-family='"Liberation Serif", serif' font-weight="normal" font-size="13.01" fill="#111" stroke="#111" stroke-width="0.65">l</text><text transform="translate(181.89,399.20) scale(0.650,1)" text-anchor="middle" font-family='"Liberation Serif", serif' font-weight="normal" font-size="13.01" fill="#111" stroke="#111" stroke-width="0.65">o</text><text transform="translate(186.59,399.20) scale(0.450,1)" text-anchor="middle" font-family='"Liberation Serif", serif' font-weight="normal" font-size="13.01" fill="#111" stroke="#111" stroke-width="0.65">w</text><text transform="translate(195.99,399.20) scale(0.487,1)" text-anchor="middle" font-family='"Liberation Serif", serif' font-weight="normal" font-size="13.01" fill="#111" stroke="#111" stroke-width="0.65">R</text><text transform="translate(200.68,399.20) scale(0.732,1)" text-anchor="middle" font-family='"Liberation Serif", serif' font-weight="normal" font-size="13.01" fill="#111" stroke="#111" stroke-width="0.65">a</text><text transform="translate(205.38,399.20) scale(1.000,1)" text-anchor="middle" font-family='"Liberation Serif", serif' font-weight="normal" font-size="13.01" fill="#111" stroke="#111" stroke-width="0.65">t</text><text transform="translate(210.08,399.20) scale(0.732,1)" text-anchor="middle" font-family='"Liberation Serif", serif' font-weight="normal" font-size="13.01" fill="#111" stroke="#111" stroke-width="0.65">e</text><text transform="translate(224.17,399.20) scale(0.450,1)" text-anchor="middle" font-family='"Liberation Serif", serif' font-weight="normal" font-size="13.01" fill="#111" stroke="#111" stroke-width="0.65">Q</text><text transform="translate(233.57,399.20) scale(0.976,1)" text-anchor="middle" font-family='"Liberation Serif", serif' font-weight="normal" font-size="13.01" fill="#111" stroke="#111" stroke-width="0.65">(</text><text transform="translate(238.26,399.20) scale(0.532,1)" text-anchor="middle" font-family='"Liberation Serif", serif' font-weight="normal" font-size="13.01" fill="#111" stroke="#111" stroke-width="0.65">L</text><text transform="translate(242.96,399.20) scale(1.000,1)" text-anchor="middle" font-family='"Liberation Serif", serif' font-weight="normal" font-size="13.01" fill="#111" stroke="#111" stroke-width="0.65">/</text><text transform="translate(247.66,399.20) scale(0.418,1)" text-anchor="middle" font-family='"Liberation Serif", serif' font-weight="normal" font-size="13.01" fill="#111" stroke="#111" stroke-width="0.65">m</text><text transform="translate(252.36,399.20) scale(1.000,1)" text-anchor="middle" font-family='"Liberation Serif", serif' font-weight="normal" font-size="13.01" fill="#111" stroke="#111" stroke-width="0.65">i</text><text transform="translate(257.06,399.20) scale(0.650,1)" text-anchor="middle" font-family='"Liberation Serif", serif' font-weight="normal" font-size="13.01" fill="#111" stroke="#111" stroke-width="0.65">n</text><text transform="translate(261.75,399.20) scale(0.976,1)" text-anchor="middle" font-family='"Liberation Serif", serif' font-weight="normal" font-size="13.01" fill="#111" stroke="#111" stroke-width="0.65">)</text><path d="M333.30,248.50V371.30M339.45,248.50V371.30M345.60,248.50V371.30M351.74,248.50V371.30M357.89,248.50V371.30M364.04,248.50V371.30M370.19,248.50V371.30M376.34,248.50V371.30M382.48,248.50V371.30M388.63,248.50V371.30M394.78,248.50V371.30M400.93,248.50V371.30M407.08,248.50V371.30M413.22,248.50V371.30M419.37,248.50V371.30M425.52,248.50V371.30M431.67,248.50V371.30M437.82,248.50V371.30M443.96,248.50V371.30M450.11,248.50V371.30M456.26,248.50V371.30M462.41,248.50V371.30M468.56,248.50V371.30M474.70,248.50V371.30M480.85,248.50V371.30M487.00,248.50V371.30M333.30,248.50H487.00M333.30,254.64H487.00M333.30,260.78H487.00M333.30,266.92H487.00M333.30,273.06H487.00M333.30,279.20H487.00M333.30,285.34H487.00M333.30,291.48H487.00M333.30,297.62H487.00M333.30,303.76H487.00M333.30,309.90H487.00M333.30,316.04H487.00M333.30,322.18H487.00M333.30,328.32H487.00M333.30,334.46H487.00M333.30,340.60H487.00M333.30,346.74H487.00M333.30,352.88H487.00M333.30,359.02H487.00M333.30,365.16H487.00M333.30,371.30H487.00" stroke="#2e2e2e" stroke-width="1.05" fill="none"/><rect x="333.30" y="248.50" width="153.70" height="122.80" rx="1.5" fill="none" stroke="#333" stroke-width="1.1"/><path d="M333.30,371.30L486.60,248.50" stroke="#262626" stroke-width="0.9" fill="none"/><path d="M333.30,371.30L487.00,300.40" stroke="#262626" stroke-width="0.9" fill="none"/><path d="M333.30,371.30L487.00,322.00" stroke="#262626" stroke-width="0.9" fill="none"/><path d="M333.30,371.30L487.00,340.40" stroke="#262626" stroke-width="0.9" fill="none"/><path d="M333.30,371.30L487.00,347.00" stroke="#262626" stroke-width="0.9" fill="none"/><path d="M333.30,371.30L487.00,358.80" stroke="#262626" stroke-width="0.9" fill="none"/><path d="M333.30,371.30L346.30,371.30L339.30,368.70L335.30,368.70Z" fill="#1a1a1a"/><rect x="462.30" y="252.20" width="9.20" height="8.60" fill="#fff"/><text transform="translate(464.85,260.30) scale(0.542,1)" text-anchor="middle" font-family='"Liberation Serif", serif' font-weight="bold" font-size="11.18" fill="#111" stroke="#111" stroke-width="0.9">F</text><text transform="translate(468.95,260.30) scale(0.496,1)" text-anchor="middle" font-family='"Liberation Serif", serif' font-weight="bold" font-size="11.18" fill="#111" stroke="#111" stroke-width="0.9">T</text><rect x="467.50" y="299.90" width="9.00" height="8.60" fill="#fff"/><text transform="translate(470.00,308.00) scale(0.527,1)" text-anchor="middle" font-family='"Liberation Serif", serif' font-weight="bold" font-size="11.18" fill="#111" stroke="#111" stroke-width="0.9">F</text><text transform="translate(474.00,308.00) scale(0.446,1)" text-anchor="middle" font-family='"Liberation Serif", serif' font-weight="bold" font-size="11.18" fill="#111" stroke="#111" stroke-width="0.9">C</text><rect x="467.50" y="315.00" width="10.00" height="7.50" fill="#fff"/><text transform="translate(470.23,322.00) scale(0.700,1)" text-anchor="middle" font-family='"Liberation Serif", serif' font-weight="bold" font-size="9.56" fill="#111" stroke="#111" stroke-width="0.9">F</text><text transform="translate(474.77,322.00) scale(0.592,1)" text-anchor="middle" font-family='"Liberation Serif", serif' font-weight="bold" font-size="9.56" fill="#111" stroke="#111" stroke-width="0.9">D</text><rect x="467.50" y="334.50" width="10.00" height="6.40" fill="#fff"/><text transform="translate(470.23,340.40) scale(0.842,1)" text-anchor="middle" font-family='"Liberation Serif", serif' font-weight="bold" font-size="7.94" fill="#111" stroke="#111" stroke-width="0.9">F</text><text transform="translate(474.77,340.40) scale(0.713,1)" text-anchor="middle" font-family='"Liberation Serif", serif' font-weight="bold" font-size="7.94" fill="#111" stroke="#111" stroke-width="0.9">V</text><rect x="467.50" y="351.80" width="10.00" height="7.50" fill="#fff"/><text transform="translate(470.23,358.80) scale(0.453,1)" text-anchor="middle" font-family='"Liberation Serif", serif' font-weight="bold" font-size="9.56" fill="#111" stroke="#111" stroke-width="0.9">M</text><text transform="translate(474.77,358.80) scale(0.592,1)" text-anchor="middle" font-family='"Liberation Serif", serif' font-weight="bold" font-size="9.56" fill="#111" stroke="#111" stroke-width="0.9">V</text><rect x="467.50" y="360.50" width="10.00" height="8.50" fill="#fff"/><text transform="translate(470.23,368.50) scale(0.393,1)" text-anchor="middle" font-family='"Liberation Serif", serif' font-weight="bold" font-size="11.03" fill="#111" stroke="#111" stroke-width="0.9">M</text><text transform="translate(474.77,368.50) scale(0.555,1)" text-anchor="middle" font-family='"Liberation Serif", serif' font-weight="bold" font-size="11.03" fill="#111" stroke="#111" stroke-width="0.9">E</text><text transform="translate(344.30,245.25) scale(0.6200,1)" x="0" y="0" text-anchor="middle" font-family='"Liberation Serif", serif' font-weight="normal" font-size="13.64" fill="#111" stroke="#111" stroke-width="0.85">P</text><text transform="translate(349.90,245.25) scale(0.7000,1)" x="0" y="0" text-anchor="middle" font-family='"Liberation Serif", serif' font-weight="normal" font-size="13.64" fill="#111" stroke="#111" stroke-width="0.85">(</text><text transform="translate(353.30,245.25) scale(0.5500,1)" x="0" y="0" text-anchor="middle" font-family='"Liberation Serif", serif' font-weight="normal" font-size="13.64" fill="#111" stroke="#111" stroke-width="0.85">1</text><text transform="translate(358.50,245.25) scale(0.5000,1)" x="0" y="0" text-anchor="middle" font-family='"Liberation Serif", serif' font-weight="normal" font-size="13.64" fill="#111" stroke="#111" stroke-width="0.85">X</text><text transform="translate(363.30,245.25) scale(0.5500,1)" x="0" y="0" text-anchor="middle" font-family='"Liberation Serif", serif' font-weight="normal" font-size="13.64" fill="#111" stroke="#111" stroke-width="0.85">1</text><text transform="translate(368.00,245.25) scale(0.6400,1)" x="0" y="0" text-anchor="middle" font-family='"Liberation Serif", serif' font-weight="normal" font-size="13.64" fill="#111" stroke="#111" stroke-width="0.85">0</text><text transform="translate(377.70,245.25) scale(0.6200,1)" x="0" y="0" text-anchor="middle" font-family='"Liberation Serif", serif' font-weight="normal" font-size="13.64" fill="#111" stroke="#111" stroke-width="0.85">P</text><text transform="translate(382.40,245.25) scale(0.7200,1)" x="0" y="0" text-anchor="middle" font-family='"Liberation Serif", serif' font-weight="normal" font-size="13.64" fill="#111" stroke="#111" stroke-width="0.85">a</text><text transform="translate(387.40,245.25) scale(0.7000,1)" x="0" y="0" text-anchor="middle" font-family='"Liberation Serif", serif' font-weight="normal" font-size="13.64" fill="#111" stroke="#111" stroke-width="0.85">)</text><text transform="translate(337.70,244.95) scale(0.8000,1)" x="0" y="0" text-anchor="middle" font-family='"Liberation Serif", serif' font-weight="bold" font-size="11.67" fill="#111" stroke="#111" stroke-width="0.3">Δ</text><text transform="translate(369.90,236.25) scale(0.9000,1)" x="0" y="0" text-anchor="middle" font-family='"Liberation Serif", serif' font-weight="bold" font-size="7.13" fill="#111" stroke="#111" stroke-width="0.5">5</text><text transform="translate(417.10,245.55) scale(0.600,1)" text-anchor="middle" font-family='"Liberation Serif", serif' font-weight="bold" font-size="14.85" fill="#111" stroke="#111" stroke-width="0.45">0</text><text transform="translate(422.05,245.55) scale(0.600,1)" text-anchor="middle" font-family='"Liberation Serif", serif' font-weight="bold" font-size="14.85" fill="#111" stroke="#111" stroke-width="0.45">3</text><text transform="translate(427.00,245.55) scale(0.600,1)" text-anchor="middle" font-family='"Liberation Serif", serif' font-weight="bold" font-size="14.85" fill="#111" stroke="#111" stroke-width="0.45">3</text><text transform="translate(431.95,245.55) scale(0.600,1)" text-anchor="middle" font-family='"Liberation Serif", serif' font-weight="bold" font-size="14.85" fill="#111" stroke="#111" stroke-width="0.45">0</text><text transform="translate(436.90,245.55) scale(0.415,1)" text-anchor="middle" font-family='"Liberation Serif", serif' font-weight="bold" font-size="14.85" fill="#111" stroke="#111" stroke-width="0.45">R</text><text transform="translate(316.39,256.10) scale(0.633,1)" text-anchor="middle" font-family='"Liberation Serif", serif' font-weight="normal" font-size="13.97" fill="#111" stroke="#111" stroke-width="0.65">1</text><text transform="translate(321.30,256.10) scale(1.000,1)" text-anchor="middle" font-family='"Liberation Serif", serif' font-weight="normal" font-size="13.97" fill="#111" stroke="#111" stroke-width="0.65">.</text><text transform="translate(326.21,256.10) scale(0.633,1)" text-anchor="middle" font-family='"Liberation Serif", serif' font-weight="normal" font-size="13.97" fill="#111" stroke="#111" stroke-width="0.65">6</text><text transform="translate(316.39,283.85) scale(0.633,1)" text-anchor="middle" font-family='"Liberation Serif", serif' font-weight="normal" font-size="13.97" fill="#111" stroke="#111" stroke-width="0.65">1</text><text transform="translate(321.30,283.85) scale(1.000,1)" text-anchor="middle" font-family='"Liberation Serif", serif' font-weight="normal" font-size="13.97" fill="#111" stroke="#111" stroke-width="0.65">.</text><text transform="translate(326.21,283.85) scale(0.633,1)" text-anchor="middle" font-family='"Liberation Serif", serif' font-weight="normal" font-size="13.97" fill="#111" stroke="#111" stroke-width="0.65">2</text><text transform="translate(316.39,317.35) scale(0.633,1)" text-anchor="middle" font-family='"Liberation Serif", serif' font-weight="normal" font-size="13.97" fill="#111" stroke="#111" stroke-width="0.65">0</text><text transform="translate(321.30,317.35) scale(1.000,1)" text-anchor="middle" font-family='"Liberation Serif", serif' font-weight="normal" font-size="13.97" fill="#111" stroke="#111" stroke-width="0.65">.</text><text transform="translate(326.21,317.35) scale(0.633,1)" text-anchor="middle" font-family='"Liberation Serif", serif' font-weight="normal" font-size="13.97" fill="#111" stroke="#111" stroke-width="0.65">8</text><text transform="translate(316.39,346.85) scale(0.633,1)" text-anchor="middle" font-family='"Liberation Serif", serif' font-weight="normal" font-size="13.97" fill="#111" stroke="#111" stroke-width="0.65">0</text><text transform="translate(321.30,346.85) scale(1.000,1)" text-anchor="middle" font-family='"Liberation Serif", serif' font-weight="normal" font-size="13.97" fill="#111" stroke="#111" stroke-width="0.65">.</text><text transform="translate(326.21,346.85) scale(0.633,1)" text-anchor="middle" font-family='"Liberation Serif", serif' font-weight="normal" font-size="13.97" fill="#111" stroke="#111" stroke-width="0.65">4</text><text transform="translate(327.25,383.20) scale(0.698,1)" text-anchor="middle" font-family='"Liberation Serif", serif' font-weight="normal" font-size="14.26" fill="#111" stroke="#111" stroke-width="0.65">0</text><text transform="translate(361.29,383.20) scale(0.621,1)" text-anchor="middle" font-family='"Liberation Serif", serif' font-weight="normal" font-size="14.26" fill="#111" stroke="#111" stroke-width="0.65">7</text><text transform="translate(366.21,383.20) scale(0.621,1)" text-anchor="middle" font-family='"Liberation Serif", serif' font-weight="normal" font-size="14.26" fill="#111" stroke="#111" stroke-width="0.65">5</text><text transform="translate(389.66,383.20) scale(0.598,1)" text-anchor="middle" font-family='"Liberation Serif", serif' font-weight="normal" font-size="14.26" fill="#111" stroke="#111" stroke-width="0.65">1</text><text transform="translate(394.40,383.20) scale(0.598,1)" text-anchor="middle" font-family='"Liberation Serif", serif' font-weight="normal" font-size="14.26" fill="#111" stroke="#111" stroke-width="0.65">5</text><text transform="translate(399.14,383.20) scale(0.598,1)" text-anchor="middle" font-family='"Liberation Serif", serif' font-weight="normal" font-size="14.26" fill="#111" stroke="#111" stroke-width="0.65">0</text><text transform="translate(421.51,383.20) scale(0.598,1)" text-anchor="middle" font-family='"Liberation Serif", serif' font-weight="normal" font-size="14.26" fill="#111" stroke="#111" stroke-width="0.65">2</text><text transform="translate(426.25,383.20) scale(0.598,1)" text-anchor="middle" font-family='"Liberation Serif", serif' font-weight="normal" font-size="14.26" fill="#111" stroke="#111" stroke-width="0.65">2</text><text transform="translate(430.99,383.20) scale(0.598,1)" text-anchor="middle" font-family='"Liberation Serif", serif' font-weight="normal" font-size="14.26" fill="#111" stroke="#111" stroke-width="0.65">5</text><text transform="translate(453.36,383.20) scale(0.598,1)" text-anchor="middle" font-family='"Liberation Serif", serif' font-weight="normal" font-size="14.26" fill="#111" stroke="#111" stroke-width="0.65">3</text><text transform="translate(458.10,383.20) scale(0.598,1)" text-anchor="middle" font-family='"Liberation Serif", serif' font-weight="normal" font-size="14.26" fill="#111" stroke="#111" stroke-width="0.65">0</text><text transform="translate(462.84,383.20) scale(0.598,1)" text-anchor="middle" font-family='"Liberation Serif", serif' font-weight="normal" font-size="14.26" fill="#111" stroke="#111" stroke-width="0.65">0</text><text transform="translate(484.01,383.20) scale(0.598,1)" text-anchor="middle" font-family='"Liberation Serif", serif' font-weight="normal" font-size="14.26" fill="#111" stroke="#111" stroke-width="0.65">3</text><text transform="translate(488.75,383.20) scale(0.598,1)" text-anchor="middle" font-family='"Liberation Serif", serif' font-weight="normal" font-size="14.26" fill="#111" stroke="#111" stroke-width="0.65">7</text><text transform="translate(493.49,383.20) scale(0.598,1)" text-anchor="middle" font-family='"Liberation Serif", serif' font-weight="normal" font-size="14.26" fill="#111" stroke="#111" stroke-width="0.65">5</text><g transform="translate(310.70,357.70) rotate(-90)"><text transform="translate(2.01,0.00) scale(0.591,1)" text-anchor="middle" font-family='"Liberation Serif", serif' font-weight="normal" font-size="12.94" fill="#111" stroke="#111" stroke-width="0.65">P</text><text transform="translate(6.73,0.00) scale(0.987,1)" text-anchor="middle" font-family='"Liberation Serif", serif' font-weight="normal" font-size="12.94" fill="#111" stroke="#111" stroke-width="0.65">r</text><text transform="translate(11.46,0.00) scale(0.740,1)" text-anchor="middle" font-family='"Liberation Serif", serif' font-weight="normal" font-size="12.94" fill="#111" stroke="#111" stroke-width="0.65">e</text><text transform="translate(16.18,0.00) scale(0.844,1)" text-anchor="middle" font-family='"Liberation Serif", serif' font-weight="normal" font-size="12.94" fill="#111" stroke="#111" stroke-width="0.65">s</text><text transform="translate(20.90,0.00) scale(0.844,1)" text-anchor="middle" font-family='"Liberation Serif", serif' font-weight="normal" font-size="12.94" fill="#111" stroke="#111" stroke-width="0.65">s</text><text transform="translate(25.63,0.00) scale(0.657,1)" text-anchor="middle" font-family='"Liberation Serif", serif' font-weight="normal" font-size="12.94" fill="#111" stroke="#111" stroke-width="0.65">u</text><text transform="translate(30.35,0.00) scale(0.987,1)" text-anchor="middle" font-family='"Liberation Serif", serif' font-weight="normal" font-size="12.94" fill="#111" stroke="#111" stroke-width="0.65">r</text><text transform="translate(35.07,0.00) scale(0.740,1)" text-anchor="middle" font-family='"Liberation Serif", serif' font-weight="normal" font-size="12.94" fill="#111" stroke="#111" stroke-width="0.65">e</text><text transform="translate(44.52,0.00) scale(0.455,1)" text-anchor="middle" font-family='"Liberation Serif", serif' font-weight="normal" font-size="12.94" fill="#111" stroke="#111" stroke-width="0.65">D</text><text transform="translate(49.24,0.00) scale(0.987,1)" text-anchor="middle" font-family='"Liberation Serif", serif' font-weight="normal" font-size="12.94" fill="#111" stroke="#111" stroke-width="0.65">r</text><text transform="translate(53.97,0.00) scale(0.657,1)" text-anchor="middle" font-family='"Liberation Serif", serif' font-weight="normal" font-size="12.94" fill="#111" stroke="#111" stroke-width="0.65">o</text><text transform="translate(58.69,0.00) scale(0.657,1)" text-anchor="middle" font-family='"Liberation Serif", serif' font-weight="normal" font-size="12.94" fill="#111" stroke="#111" stroke-width="0.65">p</text></g><path d="M0.8,1.2 L2.2,2.6 M0.3,4.6 L1.8,5.8 M0.5,11.2 L2.4,7.4 M6.6,0.3 L7.1,1.6 M3.8,2.2 H9.8 M6.4,2.3 L4.8,5 H9.2 M8.1,3.6 L9,4.8 M5.2,6.8 Q5.2,10 3.8,11.8 M7,6.8 V11.2 M9,6.8 V11.1 H9.9" transform="translate(357.60,387.65) scale(0.860,1.088)" fill="none" stroke="#111" stroke-width="1.34" stroke-linecap="square"/><path d="M2,0.5 H8 V3.8 H2 Z M2,2.15 H8 M0.3,4.8 H9.7 M1.9,5.8 H8.1 V9.1 H1.9 Z M1.9,7.45 H8.1 M5,5.8 V11.4 M2.4,10.3 H7.6 M0.6,11.5 H9.4" transform="translate(367.80,387.65) scale(0.780,1.088)" fill="none" stroke="#111" stroke-width="1.07" stroke-linecap="square"/><text transform="translate(383.48,399.20) scale(0.578,1)" text-anchor="middle" font-family='"Liberation Serif", serif' font-weight="normal" font-size="13.01" fill="#111" stroke="#111" stroke-width="0.65">F</text><text transform="translate(388.12,399.20) scale(1.000,1)" text-anchor="middle" font-family='"Liberation Serif", serif' font-weight="normal" font-size="13.01" fill="#111" stroke="#111" stroke-width="0.65">l</text><text transform="translate(392.77,399.20) scale(0.643,1)" text-anchor="middle" font-family='"Liberation Serif", serif' font-weight="normal" font-size="13.01" fill="#111" stroke="#111" stroke-width="0.65">o</text><text transform="translate(397.42,399.20) scale(0.445,1)" text-anchor="middle" font-family='"Liberation Serif", serif' font-weight="normal" font-size="13.01" fill="#111" stroke="#111" stroke-width="0.65">w</text><text transform="translate(406.71,399.20) scale(0.482,1)" text-anchor="middle" font-family='"Liberation Serif", serif' font-weight="normal" font-size="13.01" fill="#111" stroke="#111" stroke-width="0.65">R</text><text transform="translate(411.36,399.20) scale(0.724,1)" text-anchor="middle" font-family='"Liberation Serif", serif' font-weight="normal" font-size="13.01" fill="#111" stroke="#111" stroke-width="0.65">a</text><text transform="translate(416.01,399.20) scale(1.000,1)" text-anchor="middle" font-family='"Liberation Serif", serif' font-weight="normal" font-size="13.01" fill="#111" stroke="#111" stroke-width="0.65">t</text><text transform="translate(420.65,399.20) scale(0.724,1)" text-anchor="middle" font-family='"Liberation Serif", serif' font-weight="normal" font-size="13.01" fill="#111" stroke="#111" stroke-width="0.65">e</text><text transform="translate(434.60,399.20) scale(0.445,1)" text-anchor="middle" font-family='"Liberation Serif", serif' font-weight="normal" font-size="13.01" fill="#111" stroke="#111" stroke-width="0.65">Q</text><text transform="translate(443.89,399.20) scale(0.965,1)" text-anchor="middle" font-family='"Liberation Serif", serif' font-weight="normal" font-size="13.01" fill="#111" stroke="#111" stroke-width="0.65">(</text><text transform="translate(448.54,399.20) scale(0.526,1)" text-anchor="middle" font-family='"Liberation Serif", serif' font-weight="normal" font-size="13.01" fill="#111" stroke="#111" stroke-width="0.65">L</text><text transform="translate(453.19,399.20) scale(1.000,1)" text-anchor="middle" font-family='"Liberation Serif", serif' font-weight="normal" font-size="13.01" fill="#111" stroke="#111" stroke-width="0.65">/</text><text transform="translate(457.83,399.20) scale(0.413,1)" text-anchor="middle" font-family='"Liberation Serif", serif' font-weight="normal" font-size="13.01" fill="#111" stroke="#111" stroke-width="0.65">m</text><text transform="translate(462.48,399.20) scale(1.000,1)" text-anchor="middle" font-family='"Liberation Serif", serif' font-weight="normal" font-size="13.01" fill="#111" stroke="#111" stroke-width="0.65">i</text><text transform="translate(467.13,399.20) scale(0.643,1)" text-anchor="middle" font-family='"Liberation Serif", serif' font-weight="normal" font-size="13.01" fill="#111" stroke="#111" stroke-width="0.65">n</text><text transform="translate(471.77,399.20) scale(0.965,1)" text-anchor="middle" font-family='"Liberation Serif", serif' font-weight="normal" font-size="13.01" fill="#111" stroke="#111" stroke-width="0.65">)</text><path d="M542.80,248.30V371.30M548.95,248.30V371.30M555.10,248.30V371.30M561.24,248.30V371.30M567.39,248.30V371.30M573.54,248.30V371.30M579.69,248.30V371.30M585.84,248.30V371.30M591.98,248.30V371.30M598.13,248.30V371.30M604.28,248.30V371.30M610.43,248.30V371.30M616.58,248.30V371.30M622.72,248.30V371.30M628.87,248.30V371.30M635.02,248.30V371.30M641.17,248.30V371.30M647.32,248.30V371.30M653.46,248.30V371.30M659.61,248.30V371.30M665.76,248.30V371.30M671.91,248.30V371.30M678.06,248.30V371.30M684.20,248.30V371.30M690.35,248.30V371.30M696.50,248.30V371.30M542.80,248.30H696.50M542.80,254.45H696.50M542.80,260.60H696.50M542.80,266.75H696.50M542.80,272.90H696.50M542.80,279.05H696.50M542.80,285.20H696.50M542.80,291.35H696.50M542.80,297.50H696.50M542.80,303.65H696.50M542.80,309.80H696.50M542.80,315.95H696.50M542.80,322.10H696.50M542.80,328.25H696.50M542.80,334.40H696.50M542.80,340.55H696.50M542.80,346.70H696.50M542.80,352.85H696.50M542.80,359.00H696.50M542.80,365.15H696.50M542.80,371.30H696.50" stroke="#2e2e2e" stroke-width="1.05" fill="none"/><rect x="542.80" y="248.30" width="153.70" height="123.00" rx="1.5" fill="none" stroke="#333" stroke-width="1.1"/><path d="M542.80,371.30L696.50,260.30" stroke="#262626" stroke-width="0.9" fill="none"/><path d="M542.80,371.30L696.50,297.00" stroke="#262626" stroke-width="0.9" fill="none"/><path d="M542.80,371.30L696.50,328.50" stroke="#262626" stroke-width="0.9" fill="none"/><path d="M542.80,371.30L696.50,341.50" stroke="#262626" stroke-width="0.9" fill="none"/><path d="M542.80,371.30L696.50,354.50" stroke="#262626" stroke-width="0.9" fill="none"/><path d="M542.80,371.30L696.50,360.00" stroke="#262626" stroke-width="0.9" fill="none"/><path d="M542.80,371.30L555.80,371.30L548.80,368.70L544.80,368.70Z" fill="#1a1a1a"/><rect x="679.50" y="260.90" width="10.00" height="6.40" fill="#fff"/><text transform="translate(682.23,266.80) scale(0.842,1)" text-anchor="middle" font-family='"Liberation Serif", serif' font-weight="bold" font-size="7.94" fill="#111" stroke="#111" stroke-width="0.9">F</text><text transform="translate(686.77,266.80) scale(0.772,1)" text-anchor="middle" font-family='"Liberation Serif", serif' font-weight="bold" font-size="7.94" fill="#111" stroke="#111" stroke-width="0.9">T</text><rect x="679.50" y="296.50" width="10.00" height="7.60" fill="#fff"/><text transform="translate(682.23,303.60) scale(0.689,1)" text-anchor="middle" font-family='"Liberation Serif", serif' font-weight="bold" font-size="9.71" fill="#111" stroke="#111" stroke-width="0.9">F</text><text transform="translate(686.77,303.60) scale(0.583,1)" text-anchor="middle" font-family='"Liberation Serif", serif' font-weight="bold" font-size="9.71" fill="#111" stroke="#111" stroke-width="0.9">C</text><rect x="679.50" y="322.50" width="10.00" height="6.50" fill="#fff"/><text transform="translate(682.23,328.50) scale(0.827,1)" text-anchor="middle" font-family='"Liberation Serif", serif' font-weight="bold" font-size="8.09" fill="#111" stroke="#111" stroke-width="0.9">F</text><text transform="translate(686.77,328.50) scale(0.700,1)" text-anchor="middle" font-family='"Liberation Serif", serif' font-weight="bold" font-size="8.09" fill="#111" stroke="#111" stroke-width="0.9">D</text><rect x="679.50" y="334.50" width="10.00" height="6.40" fill="#fff"/><text transform="translate(682.23,340.40) scale(0.842,1)" text-anchor="middle" font-family='"Liberation Serif", serif' font-weight="bold" font-size="7.94" fill="#111" stroke="#111" stroke-width="0.9">F</text><text transform="translate(686.77,340.40) scale(0.713,1)" text-anchor="middle" font-family='"Liberation Serif", serif' font-weight="bold" font-size="7.94" fill="#111" stroke="#111" stroke-width="0.9">V</text><rect x="679.50" y="347.50" width="10.00" height="6.40" fill="#fff"/><text transform="translate(682.23,353.40) scale(0.545,1)" text-anchor="middle" font-family='"Liberation Serif", serif' font-weight="bold" font-size="7.94" fill="#111" stroke="#111" stroke-width="0.9">M</text><text transform="translate(686.77,353.40) scale(0.713,1)" text-anchor="middle" font-family='"Liberation Serif", serif' font-weight="bold" font-size="7.94" fill="#111" stroke="#111" stroke-width="0.9">V</text><rect x="679.50" y="359.50" width="10.00" height="7.40" fill="#fff"/><text transform="translate(682.23,366.40) scale(0.460,1)" text-anchor="middle" font-family='"Liberation Serif", serif' font-weight="bold" font-size="9.41" fill="#111" stroke="#111" stroke-width="0.9">M</text><text transform="translate(686.77,366.40) scale(0.651,1)" text-anchor="middle" font-family='"Liberation Serif", serif' font-weight="bold" font-size="9.41" fill="#111" stroke="#111" stroke-width="0.9">E</text><text transform="translate(553.30,245.25) scale(0.6200,1)" x="0" y="0" text-anchor="middle" font-family='"Liberation Serif", serif' font-weight="normal" font-size="13.64" fill="#111" stroke="#111" stroke-width="0.85">P</text><text transform="translate(558.90,245.25) scale(0.7000,1)" x="0" y="0" text-anchor="middle" font-family='"Liberation Serif", serif' font-weight="normal" font-size="13.64" fill="#111" stroke="#111" stroke-width="0.85">(</text><text transform="translate(562.30,245.25) scale(0.5500,1)" x="0" y="0" text-anchor="middle" font-family='"Liberation Serif", serif' font-weight="normal" font-size="13.64" fill="#111" stroke="#111" stroke-width="0.85">1</text><text transform="translate(567.50,245.25) scale(0.5000,1)" x="0" y="0" text-anchor="middle" font-family='"Liberation Serif", serif' font-weight="normal" font-size="13.64" fill="#111" stroke="#111" stroke-width="0.85">X</text><text transform="translate(572.30,245.25) scale(0.5500,1)" x="0" y="0" text-anchor="middle" font-family='"Liberation Serif", serif' font-weight="normal" font-size="13.64" fill="#111" stroke="#111" stroke-width="0.85">1</text><text transform="translate(577.00,245.25) scale(0.6400,1)" x="0" y="0" text-anchor="middle" font-family='"Liberation Serif", serif' font-weight="normal" font-size="13.64" fill="#111" stroke="#111" stroke-width="0.85">0</text><text transform="translate(586.70,245.25) scale(0.6200,1)" x="0" y="0" text-anchor="middle" font-family='"Liberation Serif", serif' font-weight="normal" font-size="13.64" fill="#111" stroke="#111" stroke-width="0.85">P</text><text transform="translate(591.40,245.25) scale(0.7200,1)" x="0" y="0" text-anchor="middle" font-family='"Liberation Serif", serif' font-weight="normal" font-size="13.64" fill="#111" stroke="#111" stroke-width="0.85">a</text><text transform="translate(596.40,245.25) scale(0.7000,1)" x="0" y="0" text-anchor="middle" font-family='"Liberation Serif", serif' font-weight="normal" font-size="13.64" fill="#111" stroke="#111" stroke-width="0.85">)</text><text transform="translate(546.70,244.95) scale(0.8000,1)" x="0" y="0" text-anchor="middle" font-family='"Liberation Serif", serif' font-weight="bold" font-size="11.67" fill="#111" stroke="#111" stroke-width="0.3">Δ</text><text transform="translate(578.90,236.25) scale(0.9000,1)" x="0" y="0" text-anchor="middle" font-family='"Liberation Serif", serif' font-weight="bold" font-size="7.13" fill="#111" stroke="#111" stroke-width="0.5">5</text><text transform="translate(616.10,245.55) scale(0.600,1)" text-anchor="middle" font-family='"Liberation Serif", serif' font-weight="bold" font-size="14.85" fill="#111" stroke="#111" stroke-width="0.45">0</text><text transform="translate(621.05,245.55) scale(0.600,1)" text-anchor="middle" font-family='"Liberation Serif", serif' font-weight="bold" font-size="14.85" fill="#111" stroke="#111" stroke-width="0.45">5</text><text transform="translate(626.00,245.55) scale(0.600,1)" text-anchor="middle" font-family='"Liberation Serif", serif' font-weight="bold" font-size="14.85" fill="#111" stroke="#111" stroke-width="0.45">0</text><text transform="translate(630.95,245.55) scale(0.600,1)" text-anchor="middle" font-family='"Liberation Serif", serif' font-weight="bold" font-size="14.85" fill="#111" stroke="#111" stroke-width="0.45">0</text><text transform="translate(635.90,245.55) scale(0.415,1)" text-anchor="middle" font-family='"Liberation Serif", serif' font-weight="bold" font-size="14.85" fill="#111" stroke="#111" stroke-width="0.45">R</text><text transform="translate(525.89,256.10) scale(0.633,1)" text-anchor="middle" font-family='"Liberation Serif", serif' font-weight="normal" font-size="13.97" fill="#111" stroke="#111" stroke-width="0.65">1</text><text transform="translate(530.80,256.10) scale(1.000,1)" text-anchor="middle" font-family='"Liberation Serif", serif' font-weight="normal" font-size="13.97" fill="#111" stroke="#111" stroke-width="0.65">.</text><text transform="translate(535.71,256.10) scale(0.633,1)" text-anchor="middle" font-family='"Liberation Serif", serif' font-weight="normal" font-size="13.97" fill="#111" stroke="#111" stroke-width="0.65">6</text><text transform="translate(525.89,283.85) scale(0.633,1)" text-anchor="middle" font-family='"Liberation Serif", serif' font-weight="normal" font-size="13.97" fill="#111" stroke="#111" stroke-width="0.65">1</text><text transform="translate(530.80,283.85) scale(1.000,1)" text-anchor="middle" font-family='"Liberation Serif", serif' font-weight="normal" font-size="13.97" fill="#111" stroke="#111" stroke-width="0.65">.</text><text transform="translate(535.71,283.85) scale(0.633,1)" text-anchor="middle" font-family='"Liberation Serif", serif' font-weight="normal" font-size="13.97" fill="#111" stroke="#111" stroke-width="0.65">2</text><text transform="translate(525.89,317.35) scale(0.633,1)" text-anchor="middle" font-family='"Liberation Serif", serif' font-weight="normal" font-size="13.97" fill="#111" stroke="#111" stroke-width="0.65">0</text><text transform="translate(530.80,317.35) scale(1.000,1)" text-anchor="middle" font-family='"Liberation Serif", serif' font-weight="normal" font-size="13.97" fill="#111" stroke="#111" stroke-width="0.65">.</text><text transform="translate(535.71,317.35) scale(0.633,1)" text-anchor="middle" font-family='"Liberation Serif", serif' font-weight="normal" font-size="13.97" fill="#111" stroke="#111" stroke-width="0.65">8</text><text transform="translate(525.89,346.85) scale(0.633,1)" text-anchor="middle" font-family='"Liberation Serif", serif' font-weight="normal" font-size="13.97" fill="#111" stroke="#111" stroke-width="0.65">0</text><text transform="translate(530.80,346.85) scale(1.000,1)" text-anchor="middle" font-family='"Liberation Serif", serif' font-weight="normal" font-size="13.97" fill="#111" stroke="#111" stroke-width="0.65">.</text><text transform="translate(535.71,346.85) scale(0.633,1)" text-anchor="middle" font-family='"Liberation Serif", serif' font-weight="normal" font-size="13.97" fill="#111" stroke="#111" stroke-width="0.65">4</text><text transform="translate(536.90,383.20) scale(0.698,1)" text-anchor="middle" font-family='"Liberation Serif", serif' font-weight="normal" font-size="14.26" fill="#111" stroke="#111" stroke-width="0.65">0</text><text transform="translate(570.26,383.20) scale(0.598,1)" text-anchor="middle" font-family='"Liberation Serif", serif' font-weight="normal" font-size="14.26" fill="#111" stroke="#111" stroke-width="0.65">1</text><text transform="translate(575.00,383.20) scale(0.598,1)" text-anchor="middle" font-family='"Liberation Serif", serif' font-weight="normal" font-size="14.26" fill="#111" stroke="#111" stroke-width="0.65">2</text><text transform="translate(579.74,383.20) scale(0.598,1)" text-anchor="middle" font-family='"Liberation Serif", serif' font-weight="normal" font-size="14.26" fill="#111" stroke="#111" stroke-width="0.65">0</text><text transform="translate(599.01,383.20) scale(0.598,1)" text-anchor="middle" font-family='"Liberation Serif", serif' font-weight="normal" font-size="14.26" fill="#111" stroke="#111" stroke-width="0.65">2</text><text transform="translate(603.75,383.20) scale(0.598,1)" text-anchor="middle" font-family='"Liberation Serif", serif' font-weight="normal" font-size="14.26" fill="#111" stroke="#111" stroke-width="0.65">4</text><text transform="translate(608.49,383.20) scale(0.598,1)" text-anchor="middle" font-family='"Liberation Serif", serif' font-weight="normal" font-size="14.26" fill="#111" stroke="#111" stroke-width="0.65">0</text><text transform="translate(631.51,383.20) scale(0.598,1)" text-anchor="middle" font-family='"Liberation Serif", serif' font-weight="normal" font-size="14.26" fill="#111" stroke="#111" stroke-width="0.65">3</text><text transform="translate(636.25,383.20) scale(0.598,1)" text-anchor="middle" font-family='"Liberation Serif", serif' font-weight="normal" font-size="14.26" fill="#111" stroke="#111" stroke-width="0.65">6</text><text transform="translate(640.99,383.20) scale(0.598,1)" text-anchor="middle" font-family='"Liberation Serif", serif' font-weight="normal" font-size="14.26" fill="#111" stroke="#111" stroke-width="0.65">0</text><text transform="translate(662.76,383.20) scale(0.598,1)" text-anchor="middle" font-family='"Liberation Serif", serif' font-weight="normal" font-size="14.26" fill="#111" stroke="#111" stroke-width="0.65">4</text><text transform="translate(667.50,383.20) scale(0.598,1)" text-anchor="middle" font-family='"Liberation Serif", serif' font-weight="normal" font-size="14.26" fill="#111" stroke="#111" stroke-width="0.65">8</text><text transform="translate(672.24,383.20) scale(0.598,1)" text-anchor="middle" font-family='"Liberation Serif", serif' font-weight="normal" font-size="14.26" fill="#111" stroke="#111" stroke-width="0.65">0</text><text transform="translate(693.36,383.20) scale(0.598,1)" text-anchor="middle" font-family='"Liberation Serif", serif' font-weight="normal" font-size="14.26" fill="#111" stroke="#111" stroke-width="0.65">6</text><text transform="translate(698.10,383.20) scale(0.598,1)" text-anchor="middle" font-family='"Liberation Serif", serif' font-weight="normal" font-size="14.26" fill="#111" stroke="#111" stroke-width="0.65">0</text><text transform="translate(702.84,383.20) scale(0.598,1)" text-anchor="middle" font-family='"Liberation Serif", serif' font-weight="normal" font-size="14.26" fill="#111" stroke="#111" stroke-width="0.65">0</text><g transform="translate(520.20,357.70) rotate(-90)"><text transform="translate(2.01,0.00) scale(0.591,1)" text-anchor="middle" font-family='"Liberation Serif", serif' font-weight="normal" font-size="12.94" fill="#111" stroke="#111" stroke-width="0.65">P</text><text transform="translate(6.73,0.00) scale(0.987,1)" text-anchor="middle" font-family='"Liberation Serif", serif' font-weight="normal" font-size="12.94" fill="#111" stroke="#111" stroke-width="0.65">r</text><text transform="translate(11.46,0.00) scale(0.740,1)" text-anchor="middle" font-family='"Liberation Serif", serif' font-weight="normal" font-size="12.94" fill="#111" stroke="#111" stroke-width="0.65">e</text><text transform="translate(16.18,0.00) scale(0.844,1)" text-anchor="middle" font-family='"Liberation Serif", serif' font-weight="normal" font-size="12.94" fill="#111" stroke="#111" stroke-width="0.65">s</text><text transform="translate(20.90,0.00) scale(0.844,1)" text-anchor="middle" font-family='"Liberation Serif", serif' font-weight="normal" font-size="12.94" fill="#111" stroke="#111" stroke-width="0.65">s</text><text transform="translate(25.63,0.00) scale(0.657,1)" text-anchor="middle" font-family='"Liberation Serif", serif' font-weight="normal" font-size="12.94" fill="#111" stroke="#111" stroke-width="0.65">u</text><text transform="translate(30.35,0.00) scale(0.987,1)" text-anchor="middle" font-family='"Liberation Serif", serif' font-weight="normal" font-size="12.94" fill="#111" stroke="#111" stroke-width="0.65">r</text><text transform="translate(35.07,0.00) scale(0.740,1)" text-anchor="middle" font-family='"Liberation Serif", serif' font-weight="normal" font-size="12.94" fill="#111" stroke="#111" stroke-width="0.65">e</text><text transform="translate(44.52,0.00) scale(0.455,1)" text-anchor="middle" font-family='"Liberation Serif", serif' font-weight="normal" font-size="12.94" fill="#111" stroke="#111" stroke-width="0.65">D</text><text transform="translate(49.24,0.00) scale(0.987,1)" text-anchor="middle" font-family='"Liberation Serif", serif' font-weight="normal" font-size="12.94" fill="#111" stroke="#111" stroke-width="0.65">r</text><text transform="translate(53.97,0.00) scale(0.657,1)" text-anchor="middle" font-family='"Liberation Serif", serif' font-weight="normal" font-size="12.94" fill="#111" stroke="#111" stroke-width="0.65">o</text><text transform="translate(58.69,0.00) scale(0.657,1)" text-anchor="middle" font-family='"Liberation Serif", serif' font-weight="normal" font-size="12.94" fill="#111" stroke="#111" stroke-width="0.65">p</text></g><path d="M0.8,1.2 L2.2,2.6 M0.3,4.6 L1.8,5.8 M0.5,11.2 L2.4,7.4 M6.6,0.3 L7.1,1.6 M3.8,2.2 H9.8 M6.4,2.3 L4.8,5 H9.2 M8.1,3.6 L9,4.8 M5.2,6.8 Q5.2,10 3.8,11.8 M7,6.8 V11.2 M9,6.8 V11.1 H9.9" transform="translate(566.60,387.65) scale(0.860,1.088)" fill="none" stroke="#111" stroke-width="1.34" stroke-linecap="square"/><path d="M2,0.5 H8 V3.8 H2 Z M2,2.15 H8 M0.3,4.8 H9.7 M1.9,5.8 H8.1 V9.1 H1.9 Z M1.9,7.45 H8.1 M5,5.8 V11.4 M2.4,10.3 H7.6 M0.6,11.5 H9.4" transform="translate(576.80,387.65) scale(0.780,1.088)" fill="none" stroke="#111" stroke-width="1.07" stroke-linecap="square"/><text transform="translate(592.50,399.20) scale(0.584,1)" text-anchor="middle" font-family='"Liberation Serif", serif' font-weight="normal" font-size="13.01" fill="#111" stroke="#111" stroke-width="0.65">F</text><text transform="translate(597.19,399.20) scale(1.000,1)" text-anchor="middle" font-family='"Liberation Serif", serif' font-weight="normal" font-size="13.01" fill="#111" stroke="#111" stroke-width="0.65">l</text><text transform="translate(601.89,399.20) scale(0.650,1)" text-anchor="middle" font-family='"Liberation Serif", serif' font-weight="normal" font-size="13.01" fill="#111" stroke="#111" stroke-width="0.65">o</text><text transform="translate(606.59,399.20) scale(0.450,1)" text-anchor="middle" font-family='"Liberation Serif", serif' font-weight="normal" font-size="13.01" fill="#111" stroke="#111" stroke-width="0.65">w</text><text transform="translate(615.99,399.20) scale(0.487,1)" text-anchor="middle" font-family='"Liberation Serif", serif' font-weight="normal" font-size="13.01" fill="#111" stroke="#111" stroke-width="0.65">R</text><text transform="translate(620.68,399.20) scale(0.732,1)" text-anchor="middle" font-family='"Liberation Serif", serif' font-weight="normal" font-size="13.01" fill="#111" stroke="#111" stroke-width="0.65">a</text><text transform="translate(625.38,399.20) scale(1.000,1)" text-anchor="middle" font-family='"Liberation Serif", serif' font-weight="normal" font-size="13.01" fill="#111" stroke="#111" stroke-width="0.65">t</text><text transform="translate(630.08,399.20) scale(0.732,1)" text-anchor="middle" font-family='"Liberation Serif", serif' font-weight="normal" font-size="13.01" fill="#111" stroke="#111" stroke-width="0.65">e</text><text transform="translate(644.17,399.20) scale(0.450,1)" text-anchor="middle" font-family='"Liberation Serif", serif' font-weight="normal" font-size="13.01" fill="#111" stroke="#111" stroke-width="0.65">Q</text><text transform="translate(653.57,399.20) scale(0.976,1)" text-anchor="middle" font-family='"Liberation Serif", serif' font-weight="normal" font-size="13.01" fill="#111" stroke="#111" stroke-width="0.65">(</text><text transform="translate(658.26,399.20) scale(0.532,1)" text-anchor="middle" font-family='"Liberation Serif", serif' font-weight="normal" font-size="13.01" fill="#111" stroke="#111" stroke-width="0.65">L</text><text transform="translate(662.96,399.20) scale(1.000,1)" text-anchor="middle" font-family='"Liberation Serif", serif' font-weight="normal" font-size="13.01" fill="#111" stroke="#111" stroke-width="0.65">/</text><text transform="translate(667.66,399.20) scale(0.418,1)" text-anchor="middle" font-family='"Liberation Serif", serif' font-weight="normal" font-size="13.01" fill="#111" stroke="#111" stroke-width="0.65">m</text><text transform="translate(672.36,399.20) scale(1.000,1)" text-anchor="middle" font-family='"Liberation Serif", serif' font-weight="normal" font-size="13.01" fill="#111" stroke="#111" stroke-width="0.65">i</text><text transform="translate(677.06,399.20) scale(0.650,1)" text-anchor="middle" font-family='"Liberation Serif", serif' font-weight="normal" font-size="13.01" fill="#111" stroke="#111" stroke-width="0.65">n</text><text transform="translate(681.75,399.20) scale(0.976,1)" text-anchor="middle" font-family='"Liberation Serif", serif' font-weight="normal" font-size="13.01" fill="#111" stroke="#111" stroke-width="0.65">)</text><path d="M123.00,438.50V561.70M129.14,438.50V561.70M135.28,438.50V561.70M141.42,438.50V561.70M147.56,438.50V561.70M153.70,438.50V561.70M159.84,438.50V561.70M165.98,438.50V561.70M172.12,438.50V561.70M178.26,438.50V561.70M184.40,438.50V561.70M190.54,438.50V561.70M196.68,438.50V561.70M202.82,438.50V561.70M208.96,438.50V561.70M215.10,438.50V561.70M221.24,438.50V561.70M227.38,438.50V561.70M233.52,438.50V561.70M239.66,438.50V561.70M245.80,438.50V561.70M251.94,438.50V561.70M258.08,438.50V561.70M264.22,438.50V561.70M270.36,438.50V561.70M276.50,438.50V561.70M123.00,438.50H276.50M123.00,444.66H276.50M123.00,450.82H276.50M123.00,456.98H276.50M123.00,463.14H276.50M123.00,469.30H276.50M123.00,475.46H276.50M123.00,481.62H276.50M123.00,487.78H276.50M123.00,493.94H276.50M123.00,500.10H276.50M123.00,506.26H276.50M123.00,512.42H276.50M123.00,518.58H276.50M123.00,524.74H276.50M123.00,530.90H276.50M123.00,537.06H276.50M123.00,543.22H276.50M123.00,549.38H276.50M123.00,555.54H276.50M123.00,561.70H276.50" stroke="#2e2e2e" stroke-width="1.05" fill="none"/><rect x="123.00" y="438.50" width="153.50" height="123.20" rx="1.5" fill="none" stroke="#333" stroke-width="1.1"/><path d="M123.00,561.70L270.00,438.50" stroke="#262626" stroke-width="0.9" fill="none"/><path d="M123.00,561.70L276.50,488.00" stroke="#262626" stroke-width="0.9" fill="none"/><path d="M123.00,561.70L276.50,506.60" stroke="#262626" stroke-width="0.9" fill="none"/><path d="M123.00,561.70L276.50,527.00" stroke="#262626" stroke-width="0.9" fill="none"/><path d="M123.00,561.70L276.50,541.00" stroke="#262626" stroke-width="0.9" fill="none"/><path d="M123.00,561.70L276.50,547.70" stroke="#262626" stroke-width="0.9" fill="none"/><path d="M123.00,561.70L136.00,561.70L129.00,559.10L125.00,559.10Z" fill="#1a1a1a"/><rect x="250.10" y="440.10" width="8.40" height="9.60" fill="#fff"/><text transform="translate(252.46,449.20) scale(0.428,1)" text-anchor="middle" font-family='"Liberation Serif", serif' font-weight="bold" font-size="12.65" fill="#111" stroke="#111" stroke-width="0.9">F</text><text transform="translate(256.14,449.20) scale(0.392,1)" text-anchor="middle" font-family='"Liberation Serif", serif' font-weight="bold" font-size="12.65" fill="#111" stroke="#111" stroke-width="0.9">T</text><rect x="262.00" y="483.50" width="9.50" height="9.50" fill="#fff"/><text transform="translate(264.61,492.50) scale(0.503,1)" text-anchor="middle" font-family='"Liberation Serif", serif' font-weight="bold" font-size="12.50" fill="#111" stroke="#111" stroke-width="0.9">F</text><text transform="translate(268.89,492.50) scale(0.426,1)" text-anchor="middle" font-family='"Liberation Serif", serif' font-weight="bold" font-size="12.50" fill="#111" stroke="#111" stroke-width="0.9">C</text><rect x="262.00" y="501.50" width="9.50" height="8.80" fill="#fff"/><text transform="translate(264.61,509.80) scale(0.549,1)" text-anchor="middle" font-family='"Liberation Serif", serif' font-weight="bold" font-size="11.47" fill="#111" stroke="#111" stroke-width="0.9">F</text><text transform="translate(268.89,509.80) scale(0.464,1)" text-anchor="middle" font-family='"Liberation Serif", serif' font-weight="bold" font-size="11.47" fill="#111" stroke="#111" stroke-width="0.9">D</text><rect x="262.00" y="519.10" width="9.50" height="8.40" fill="#fff"/><text transform="translate(264.61,527.00) scale(0.578,1)" text-anchor="middle" font-family='"Liberation Serif", serif' font-weight="bold" font-size="10.88" fill="#111" stroke="#111" stroke-width="0.9">F</text><text transform="translate(268.89,527.00) scale(0.489,1)" text-anchor="middle" font-family='"Liberation Serif", serif' font-weight="bold" font-size="10.88" fill="#111" stroke="#111" stroke-width="0.9">V</text><rect x="262.00" y="536.50" width="9.50" height="8.50" fill="#fff"/><text transform="translate(264.61,544.50) scale(0.369,1)" text-anchor="middle" font-family='"Liberation Serif", serif' font-weight="bold" font-size="11.03" fill="#111" stroke="#111" stroke-width="0.9">M</text><text transform="translate(268.89,544.50) scale(0.483,1)" text-anchor="middle" font-family='"Liberation Serif", serif' font-weight="bold" font-size="11.03" fill="#111" stroke="#111" stroke-width="0.9">V</text><rect x="262.00" y="544.00" width="9.50" height="8.50" fill="#fff"/><text transform="translate(264.61,552.00) scale(0.369,1)" text-anchor="middle" font-family='"Liberation Serif", serif' font-weight="bold" font-size="11.03" fill="#111" stroke="#111" stroke-width="0.9">M</text><text transform="translate(268.89,552.00) scale(0.522,1)" text-anchor="middle" font-family='"Liberation Serif", serif' font-weight="bold" font-size="11.03" fill="#111" stroke="#111" stroke-width="0.9">E</text><text transform="translate(133.30,435.60) scale(0.6200,1)" x="0" y="0" text-anchor="middle" font-family='"Liberation Serif", serif' font-weight="normal" font-size="14.70" fill="#111" stroke="#111" stroke-width="0.85">P</text><text transform="translate(138.90,435.60) scale(0.7000,1)" x="0" y="0" text-anchor="middle" font-family='"Liberation Serif", serif' font-weight="normal" font-size="14.70" fill="#111" stroke="#111" stroke-width="0.85">(</text><text transform="translate(142.30,435.60) scale(0.5500,1)" x="0" y="0" text-anchor="middle" font-family='"Liberation Serif", serif' font-weight="normal" font-size="14.70" fill="#111" stroke="#111" stroke-width="0.85">1</text><text transform="translate(147.50,435.60) scale(0.5000,1)" x="0" y="0" text-anchor="middle" font-family='"Liberation Serif", serif' font-weight="normal" font-size="14.70" fill="#111" stroke="#111" stroke-width="0.85">X</text><text transform="translate(152.30,435.60) scale(0.5500,1)" x="0" y="0" text-anchor="middle" font-family='"Liberation Serif", serif' font-weight="normal" font-size="14.70" fill="#111" stroke="#111" stroke-width="0.85">1</text><text transform="translate(157.00,435.60) scale(0.6400,1)" x="0" y="0" text-anchor="middle" font-family='"Liberation Serif", serif' font-weight="normal" font-size="14.70" fill="#111" stroke="#111" stroke-width="0.85">0</text><text transform="translate(166.70,435.60) scale(0.6200,1)" x="0" y="0" text-anchor="middle" font-family='"Liberation Serif", serif' font-weight="normal" font-size="14.70" fill="#111" stroke="#111" stroke-width="0.85">P</text><text transform="translate(171.40,435.60) scale(0.7200,1)" x="0" y="0" text-anchor="middle" font-family='"Liberation Serif", serif' font-weight="normal" font-size="14.70" fill="#111" stroke="#111" stroke-width="0.85">a</text><text transform="translate(176.40,435.60) scale(0.7000,1)" x="0" y="0" text-anchor="middle" font-family='"Liberation Serif", serif' font-weight="normal" font-size="14.70" fill="#111" stroke="#111" stroke-width="0.85">)</text><text transform="translate(126.70,435.30) scale(0.8000,1)" x="0" y="0" text-anchor="middle" font-family='"Liberation Serif", serif' font-weight="bold" font-size="12.73" fill="#111" stroke="#111" stroke-width="0.3">Δ</text><text transform="translate(158.90,426.00) scale(0.9000,1)" x="0" y="0" text-anchor="middle" font-family='"Liberation Serif", serif' font-weight="bold" font-size="7.21" fill="#111" stroke="#111" stroke-width="0.5">5</text><text transform="translate(189.02,435.90) scale(0.537,1)" text-anchor="middle" font-family='"Liberation Serif", serif' font-weight="bold" font-size="15.88" fill="#111" stroke="#111" stroke-width="0.45">0</text><text transform="translate(193.76,435.90) scale(0.537,1)" text-anchor="middle" font-family='"Liberation Serif", serif' font-weight="bold" font-size="15.88" fill="#111" stroke="#111" stroke-width="0.45">6</text><text transform="translate(198.50,435.90) scale(0.537,1)" text-anchor="middle" font-family='"Liberation Serif", serif' font-weight="bold" font-size="15.88" fill="#111" stroke="#111" stroke-width="0.45">6</text><text transform="translate(203.24,435.90) scale(0.537,1)" text-anchor="middle" font-family='"Liberation Serif", serif' font-weight="bold" font-size="15.88" fill="#111" stroke="#111" stroke-width="0.45">0</text><text transform="translate(207.98,435.90) scale(0.372,1)" text-anchor="middle" font-family='"Liberation Serif", serif' font-weight="bold" font-size="15.88" fill="#111" stroke="#111" stroke-width="0.45">R</text><text transform="translate(106.09,443.85) scale(0.633,1)" text-anchor="middle" font-family='"Liberation Serif", serif' font-weight="normal" font-size="13.97" fill="#111" stroke="#111" stroke-width="0.65">1</text><text transform="translate(111.00,443.85) scale(1.000,1)" text-anchor="middle" font-family='"Liberation Serif", serif' font-weight="normal" font-size="13.97" fill="#111" stroke="#111" stroke-width="0.65">.</text><text transform="translate(115.91,443.85) scale(0.633,1)" text-anchor="middle" font-family='"Liberation Serif", serif' font-weight="normal" font-size="13.97" fill="#111" stroke="#111" stroke-width="0.65">6</text><text transform="translate(106.09,473.85) scale(0.633,1)" text-anchor="middle" font-family='"Liberation Serif", serif' font-weight="normal" font-size="13.97" fill="#111" stroke="#111" stroke-width="0.65">1</text><text transform="translate(111.00,473.85) scale(1.000,1)" text-anchor="middle" font-family='"Liberation Serif", serif' font-weight="normal" font-size="13.97" fill="#111" stroke="#111" stroke-width="0.65">.</text><text transform="translate(115.91,473.85) scale(0.633,1)" text-anchor="middle" font-family='"Liberation Serif", serif' font-weight="normal" font-size="13.97" fill="#111" stroke="#111" stroke-width="0.65">2</text><text transform="translate(106.09,504.85) scale(0.633,1)" text-anchor="middle" font-family='"Liberation Serif", serif' font-weight="normal" font-size="13.97" fill="#111" stroke="#111" stroke-width="0.65">0</text><text transform="translate(111.00,504.85) scale(1.000,1)" text-anchor="middle" font-family='"Liberation Serif", serif' font-weight="normal" font-size="13.97" fill="#111" stroke="#111" stroke-width="0.65">.</text><text transform="translate(115.91,504.85) scale(0.633,1)" text-anchor="middle" font-family='"Liberation Serif", serif' font-weight="normal" font-size="13.97" fill="#111" stroke="#111" stroke-width="0.65">8</text><text transform="translate(106.09,536.85) scale(0.633,1)" text-anchor="middle" font-family='"Liberation Serif", serif' font-weight="normal" font-size="13.97" fill="#111" stroke="#111" stroke-width="0.65">0</text><text transform="translate(111.00,536.85) scale(1.000,1)" text-anchor="middle" font-family='"Liberation Serif", serif' font-weight="normal" font-size="13.97" fill="#111" stroke="#111" stroke-width="0.65">.</text><text transform="translate(115.91,536.85) scale(0.633,1)" text-anchor="middle" font-family='"Liberation Serif", serif' font-weight="normal" font-size="13.97" fill="#111" stroke="#111" stroke-width="0.65">4</text><text transform="translate(116.90,573.00) scale(0.728,1)" text-anchor="middle" font-family='"Liberation Serif", serif' font-weight="normal" font-size="13.68" fill="#111" stroke="#111" stroke-width="0.65">0</text><text transform="translate(150.51,573.00) scale(0.623,1)" text-anchor="middle" font-family='"Liberation Serif", serif' font-weight="normal" font-size="13.68" fill="#111" stroke="#111" stroke-width="0.65">1</text><text transform="translate(155.25,573.00) scale(0.623,1)" text-anchor="middle" font-family='"Liberation Serif", serif' font-weight="normal" font-size="13.68" fill="#111" stroke="#111" stroke-width="0.65">5</text><text transform="translate(159.99,573.00) scale(0.623,1)" text-anchor="middle" font-family='"Liberation Serif", serif' font-weight="normal" font-size="13.68" fill="#111" stroke="#111" stroke-width="0.65">0</text><text transform="translate(178.76,573.00) scale(0.623,1)" text-anchor="middle" font-family='"Liberation Serif", serif' font-weight="normal" font-size="13.68" fill="#111" stroke="#111" stroke-width="0.65">3</text><text transform="translate(183.50,573.00) scale(0.623,1)" text-anchor="middle" font-family='"Liberation Serif", serif' font-weight="normal" font-size="13.68" fill="#111" stroke="#111" stroke-width="0.65">0</text><text transform="translate(188.24,573.00) scale(0.623,1)" text-anchor="middle" font-family='"Liberation Serif", serif' font-weight="normal" font-size="13.68" fill="#111" stroke="#111" stroke-width="0.65">0</text><text transform="translate(211.76,573.00) scale(0.623,1)" text-anchor="middle" font-family='"Liberation Serif", serif' font-weight="normal" font-size="13.68" fill="#111" stroke="#111" stroke-width="0.65">4</text><text transform="translate(216.50,573.00) scale(0.623,1)" text-anchor="middle" font-family='"Liberation Serif", serif' font-weight="normal" font-size="13.68" fill="#111" stroke="#111" stroke-width="0.65">5</text><text transform="translate(221.24,573.00) scale(0.623,1)" text-anchor="middle" font-family='"Liberation Serif", serif' font-weight="normal" font-size="13.68" fill="#111" stroke="#111" stroke-width="0.65">0</text><text transform="translate(242.76,573.00) scale(0.623,1)" text-anchor="middle" font-family='"Liberation Serif", serif' font-weight="normal" font-size="13.68" fill="#111" stroke="#111" stroke-width="0.65">6</text><text transform="translate(247.50,573.00) scale(0.623,1)" text-anchor="middle" font-family='"Liberation Serif", serif' font-weight="normal" font-size="13.68" fill="#111" stroke="#111" stroke-width="0.65">0</text><text transform="translate(252.24,573.00) scale(0.623,1)" text-anchor="middle" font-family='"Liberation Serif", serif' font-weight="normal" font-size="13.68" fill="#111" stroke="#111" stroke-width="0.65">0</text><text transform="translate(273.26,573.00) scale(0.623,1)" text-anchor="middle" font-family='"Liberation Serif", serif' font-weight="normal" font-size="13.68" fill="#111" stroke="#111" stroke-width="0.65">7</text><text transform="translate(278.00,573.00) scale(0.623,1)" text-anchor="middle" font-family='"Liberation Serif", serif' font-weight="normal" font-size="13.68" fill="#111" stroke="#111" stroke-width="0.65">5</text><text transform="translate(282.74,573.00) scale(0.623,1)" text-anchor="middle" font-family='"Liberation Serif", serif' font-weight="normal" font-size="13.68" fill="#111" stroke="#111" stroke-width="0.65">0</text><g transform="translate(101.20,546.50) rotate(-90)"><text transform="translate(1.97,0.00) scale(0.579,1)" text-anchor="middle" font-family='"Liberation Serif", serif' font-weight="normal" font-size="12.94" fill="#111" stroke="#111" stroke-width="0.65">P</text><text transform="translate(6.60,0.00) scale(0.967,1)" text-anchor="middle" font-family='"Liberation Serif", serif' font-weight="normal" font-size="12.94" fill="#111" stroke="#111" stroke-width="0.65">r</text><text transform="translate(11.23,0.00) scale(0.726,1)" text-anchor="middle" font-family='"Liberation Serif", serif' font-weight="normal" font-size="12.94" fill="#111" stroke="#111" stroke-width="0.65">e</text><text transform="translate(15.86,0.00) scale(0.827,1)" text-anchor="middle" font-family='"Liberation Serif", serif' font-weight="normal" font-size="12.94" fill="#111" stroke="#111" stroke-width="0.65">s</text><text transform="translate(20.49,0.00) scale(0.827,1)" text-anchor="middle" font-family='"Liberation Serif", serif' font-weight="normal" font-size="12.94" fill="#111" stroke="#111" stroke-width="0.65">s</text><text transform="translate(25.12,0.00) scale(0.644,1)" text-anchor="middle" font-family='"Liberation Serif", serif' font-weight="normal" font-size="12.94" fill="#111" stroke="#111" stroke-width="0.65">u</text><text transform="translate(29.75,0.00) scale(0.967,1)" text-anchor="middle" font-family='"Liberation Serif", serif' font-weight="normal" font-size="12.94" fill="#111" stroke="#111" stroke-width="0.65">r</text><text transform="translate(34.38,0.00) scale(0.726,1)" text-anchor="middle" font-family='"Liberation Serif", serif' font-weight="normal" font-size="12.94" fill="#111" stroke="#111" stroke-width="0.65">e</text><text transform="translate(43.64,0.00) scale(0.446,1)" text-anchor="middle" font-family='"Liberation Serif", serif' font-weight="normal" font-size="12.94" fill="#111" stroke="#111" stroke-width="0.65">D</text><text transform="translate(48.27,0.00) scale(0.967,1)" text-anchor="middle" font-family='"Liberation Serif", serif' font-weight="normal" font-size="12.94" fill="#111" stroke="#111" stroke-width="0.65">r</text><text transform="translate(52.90,0.00) scale(0.644,1)" text-anchor="middle" font-family='"Liberation Serif", serif' font-weight="normal" font-size="12.94" fill="#111" stroke="#111" stroke-width="0.65">o</text><text transform="translate(57.53,0.00) scale(0.644,1)" text-anchor="middle" font-family='"Liberation Serif", serif' font-weight="normal" font-size="12.94" fill="#111" stroke="#111" stroke-width="0.65">p</text></g><path d="M0.8,1.2 L2.2,2.6 M0.3,4.6 L1.8,5.8 M0.5,11.2 L2.4,7.4 M6.6,0.3 L7.1,1.6 M3.8,2.2 H9.8 M6.4,2.3 L4.8,5 H9.2 M8.1,3.6 L9,4.8 M5.2,6.8 Q5.2,10 3.8,11.8 M7,6.8 V11.2 M9,6.8 V11.1 H9.9" transform="translate(146.60,577.65) scale(0.860,1.088)" fill="none" stroke="#111" stroke-width="1.34" stroke-linecap="square"/><path d="M2,0.5 H8 V3.8 H2 Z M2,2.15 H8 M0.3,4.8 H9.7 M1.9,5.8 H8.1 V9.1 H1.9 Z M1.9,7.45 H8.1 M5,5.8 V11.4 M2.4,10.3 H7.6 M0.6,11.5 H9.4" transform="translate(156.80,577.65) scale(0.780,1.088)" fill="none" stroke="#111" stroke-width="1.07" stroke-linecap="square"/><text transform="translate(172.50,589.20) scale(0.584,1)" text-anchor="middle" font-family='"Liberation Serif", serif' font-weight="normal" font-size="13.01" fill="#111" stroke="#111" stroke-width="0.65">F</text><text transform="translate(177.19,589.20) scale(1.000,1)" text-anchor="middle" font-family='"Liberation Serif", serif' font-weight="normal" font-size="13.01" fill="#111" stroke="#111" stroke-width="0.65">l</text><text transform="translate(181.89,589.20) scale(0.650,1)" text-anchor="middle" font-family='"Liberation Serif", serif' font-weight="normal" font-size="13.01" fill="#111" stroke="#111" stroke-width="0.65">o</text><text transform="translate(186.59,589.20) scale(0.450,1)" text-anchor="middle" font-family='"Liberation Serif", serif' font-weight="normal" font-size="13.01" fill="#111" stroke="#111" stroke-width="0.65">w</text><text transform="translate(195.99,589.20) scale(0.487,1)" text-anchor="middle" font-family='"Liberation Serif", serif' font-weight="normal" font-size="13.01" fill="#111" stroke="#111" stroke-width="0.65">R</text><text transform="translate(200.68,589.20) scale(0.732,1)" text-anchor="middle" font-family='"Liberation Serif", serif' font-weight="normal" font-size="13.01" fill="#111" stroke="#111" stroke-width="0.65">a</text><text transform="translate(205.38,589.20) scale(1.000,1)" text-anchor="middle" font-family='"Liberation Serif", serif' font-weight="normal" font-size="13.01" fill="#111" stroke="#111" stroke-width="0.65">t</text><text transform="translate(210.08,589.20) scale(0.732,1)" text-anchor="middle" font-family='"Liberation Serif", serif' font-weight="normal" font-size="13.01" fill="#111" stroke="#111" stroke-width="0.65">e</text><text transform="translate(224.17,589.20) scale(0.450,1)" text-anchor="middle" font-family='"Liberation Serif", serif' font-weight="normal" font-size="13.01" fill="#111" stroke="#111" stroke-width="0.65">Q</text><text transform="translate(233.57,589.20) scale(0.976,1)" text-anchor="middle" font-family='"Liberation Serif", serif' font-weight="normal" font-size="13.01" fill="#111" stroke="#111" stroke-width="0.65">(</text><text transform="translate(238.26,589.20) scale(0.532,1)" text-anchor="middle" font-family='"Liberation Serif", serif' font-weight="normal" font-size="13.01" fill="#111" stroke="#111" stroke-width="0.65">L</text><text transform="translate(242.96,589.20) scale(1.000,1)" text-anchor="middle" font-family='"Liberation Serif", serif' font-weight="normal" font-size="13.01" fill="#111" stroke="#111" stroke-width="0.65">/</text><text transform="translate(247.66,589.20) scale(0.418,1)" text-anchor="middle" font-family='"Liberation Serif", serif' font-weight="normal" font-size="13.01" fill="#111" stroke="#111" stroke-width="0.65">m</text><text transform="translate(252.36,589.20) scale(1.000,1)" text-anchor="middle" font-family='"Liberation Serif", serif' font-weight="normal" font-size="13.01" fill="#111" stroke="#111" stroke-width="0.65">i</text><text transform="translate(257.06,589.20) scale(0.650,1)" text-anchor="middle" font-family='"Liberation Serif", serif' font-weight="normal" font-size="13.01" fill="#111" stroke="#111" stroke-width="0.65">n</text><text transform="translate(261.75,589.20) scale(0.976,1)" text-anchor="middle" font-family='"Liberation Serif", serif' font-weight="normal" font-size="13.01" fill="#111" stroke="#111" stroke-width="0.65">)</text><path d="M331.60,438.50V561.70M337.74,438.50V561.70M343.87,438.50V561.70M350.01,438.50V561.70M356.14,438.50V561.70M362.28,438.50V561.70M368.42,438.50V561.70M374.55,438.50V561.70M380.69,438.50V561.70M386.82,438.50V561.70M392.96,438.50V561.70M399.10,438.50V561.70M405.23,438.50V561.70M411.37,438.50V561.70M417.50,438.50V561.70M423.64,438.50V561.70M429.78,438.50V561.70M435.91,438.50V561.70M442.05,438.50V561.70M448.18,438.50V561.70M454.32,438.50V561.70M460.46,438.50V561.70M466.59,438.50V561.70M472.73,438.50V561.70M478.86,438.50V561.70M485.00,438.50V561.70M331.60,438.50H485.00M331.60,444.66H485.00M331.60,450.82H485.00M331.60,456.98H485.00M331.60,463.14H485.00M331.60,469.30H485.00M331.60,475.46H485.00M331.60,481.62H485.00M331.60,487.78H485.00M331.60,493.94H485.00M331.60,500.10H485.00M331.60,506.26H485.00M331.60,512.42H485.00M331.60,518.58H485.00M331.60,524.74H485.00M331.60,530.90H485.00M331.60,537.06H485.00M331.60,543.22H485.00M331.60,549.38H485.00M331.60,555.54H485.00M331.60,561.70H485.00" stroke="#2e2e2e" stroke-width="1.05" fill="none"/><rect x="331.60" y="438.50" width="153.40" height="123.20" rx="1.5" fill="none" stroke="#333" stroke-width="1.1"/><path d="M331.60,561.70L485.00,451.40" stroke="#262626" stroke-width="0.9" fill="none"/><path d="M331.60,561.70L485.00,488.20" stroke="#262626" stroke-width="0.9" fill="none"/><path d="M331.60,561.70L485.00,516.30" stroke="#262626" stroke-width="0.9" fill="none"/><path d="M331.60,561.70L485.00,532.60" stroke="#262626" stroke-width="0.9" fill="none"/><path d="M331.60,561.70L485.00,543.40" stroke="#262626" stroke-width="0.9" fill="none"/><path d="M331.60,561.70L485.00,548.80" stroke="#262626" stroke-width="0.9" fill="none"/><path d="M331.60,561.70L344.60,561.70L337.60,559.10L333.60,559.10Z" fill="#1a1a1a"/><rect x="472.00" y="443.30" width="9.50" height="7.50" fill="#fff"/><text transform="translate(474.61,450.30) scale(0.658,1)" text-anchor="middle" font-family='"Liberation Serif", serif' font-weight="bold" font-size="9.56" fill="#111" stroke="#111" stroke-width="0.9">F</text><text transform="translate(478.89,450.30) scale(0.603,1)" text-anchor="middle" font-family='"Liberation Serif", serif' font-weight="bold" font-size="9.56" fill="#111" stroke="#111" stroke-width="0.9">T</text><rect x="472.00" y="481.20" width="9.50" height="7.50" fill="#fff"/><text transform="translate(474.61,488.20) scale(0.658,1)" text-anchor="middle" font-family='"Liberation Serif", serif' font-weight="bold" font-size="9.56" fill="#111" stroke="#111" stroke-width="0.9">F</text><text transform="translate(478.89,488.20) scale(0.557,1)" text-anchor="middle" font-family='"Liberation Serif", serif' font-weight="bold" font-size="9.56" fill="#111" stroke="#111" stroke-width="0.9">C</text><rect x="472.00" y="508.30" width="9.50" height="7.50" fill="#fff"/><text transform="translate(474.61,515.30) scale(0.658,1)" text-anchor="middle" font-family='"Liberation Serif", serif' font-weight="bold" font-size="9.56" fill="#111" stroke="#111" stroke-width="0.9">F</text><text transform="translate(478.89,515.30) scale(0.557,1)" text-anchor="middle" font-family='"Liberation Serif", serif' font-weight="bold" font-size="9.56" fill="#111" stroke="#111" stroke-width="0.9">D</text><rect x="472.00" y="523.50" width="9.50" height="7.40" fill="#fff"/><text transform="translate(474.61,530.40) scale(0.668,1)" text-anchor="middle" font-family='"Liberation Serif", serif' font-weight="bold" font-size="9.41" fill="#111" stroke="#111" stroke-width="0.9">F</text><text transform="translate(478.89,530.40) scale(0.565,1)" text-anchor="middle" font-family='"Liberation Serif", serif' font-weight="bold" font-size="9.41" fill="#111" stroke="#111" stroke-width="0.9">V</text><rect x="472.00" y="535.30" width="9.50" height="7.50" fill="#fff"/><text transform="translate(474.61,542.30) scale(0.426,1)" text-anchor="middle" font-family='"Liberation Serif", serif' font-weight="bold" font-size="9.56" fill="#111" stroke="#111" stroke-width="0.9">M</text><text transform="translate(478.89,542.30) scale(0.557,1)" text-anchor="middle" font-family='"Liberation Serif", serif' font-weight="bold" font-size="9.56" fill="#111" stroke="#111" stroke-width="0.9">V</text><rect x="472.00" y="550.50" width="9.50" height="8.50" fill="#fff"/><text transform="translate(474.61,558.50) scale(0.369,1)" text-anchor="middle" font-family='"Liberation Serif", serif' font-weight="bold" font-size="11.03" fill="#111" stroke="#111" stroke-width="0.9">M</text><text transform="translate(478.89,558.50) scale(0.522,1)" text-anchor="middle" font-family='"Liberation Serif", serif' font-weight="bold" font-size="11.03" fill="#111" stroke="#111" stroke-width="0.9">E</text><text transform="translate(342.30,435.60) scale(0.6200,1)" x="0" y="0" text-anchor="middle" font-family='"Liberation Serif", serif' font-weight="normal" font-size="14.70" fill="#111" stroke="#111" stroke-width="0.85">P</text><text transform="translate(347.90,435.60) scale(0.7000,1)" x="0" y="0" text-anchor="middle" font-family='"Liberation Serif", serif' font-weight="normal" font-size="14.70" fill="#111" stroke="#111" stroke-width="0.85">(</text><text transform="translate(351.30,435.60) scale(0.5500,1)" x="0" y="0" text-anchor="middle" font-family='"Liberation Serif", serif' font-weight="normal" font-size="14.70" fill="#111" stroke="#111" stroke-width="0.85">1</text><text transform="translate(356.50,435.60) scale(0.5000,1)" x="0" y="0" text-anchor="middle" font-family='"Liberation Serif", serif' font-weight="normal" font-size="14.70" fill="#111" stroke="#111" stroke-width="0.85">X</text><text transform="translate(361.30,435.60) scale(0.5500,1)" x="0" y="0" text-anchor="middle" font-family='"Liberation Serif", serif' font-weight="normal" font-size="14.70" fill="#111" stroke="#111" stroke-width="0.85">1</text><text transform="translate(366.00,435.60) scale(0.6400,1)" x="0" y="0" text-anchor="middle" font-family='"Liberation Serif", serif' font-weight="normal" font-size="14.70" fill="#111" stroke="#111" stroke-width="0.85">0</text><text transform="translate(375.70,435.60) scale(0.6200,1)" x="0" y="0" text-anchor="middle" font-family='"Liberation Serif", serif' font-weight="normal" font-size="14.70" fill="#111" stroke="#111" stroke-width="0.85">P</text><text transform="translate(380.40,435.60) scale(0.7200,1)" x="0" y="0" text-anchor="middle" font-family='"Liberation Serif", serif' font-weight="normal" font-size="14.70" fill="#111" stroke="#111" stroke-width="0.85">a</text><text transform="translate(385.40,435.60) scale(0.7000,1)" x="0" y="0" text-anchor="middle" font-family='"Liberation Serif", serif' font-weight="normal" font-size="14.70" fill="#111" stroke="#111" stroke-width="0.85">)</text><text transform="translate(335.70,435.30) scale(0.8000,1)" x="0" y="0" text-anchor="middle" font-family='"Liberation Serif", serif' font-weight="bold" font-size="12.73" fill="#111" stroke="#111" stroke-width="0.3">Δ</text><text transform="translate(367.90,426.00) scale(0.9000,1)" x="0" y="0" text-anchor="middle" font-family='"Liberation Serif", serif' font-weight="bold" font-size="7.21" fill="#111" stroke="#111" stroke-width="0.5">5</text><text transform="translate(419.10,435.90) scale(0.561,1)" text-anchor="middle" font-family='"Liberation Serif", serif' font-weight="bold" font-size="15.88" fill="#111" stroke="#111" stroke-width="0.45">0</text><text transform="translate(424.05,435.90) scale(0.561,1)" text-anchor="middle" font-family='"Liberation Serif", serif' font-weight="bold" font-size="15.88" fill="#111" stroke="#111" stroke-width="0.45">9</text><text transform="translate(429.00,435.90) scale(0.561,1)" text-anchor="middle" font-family='"Liberation Serif", serif' font-weight="bold" font-size="15.88" fill="#111" stroke="#111" stroke-width="0.45">5</text><text transform="translate(433.95,435.90) scale(0.561,1)" text-anchor="middle" font-family='"Liberation Serif", serif' font-weight="bold" font-size="15.88" fill="#111" stroke="#111" stroke-width="0.45">0</text><text transform="translate(438.90,435.90) scale(0.388,1)" text-anchor="middle" font-family='"Liberation Serif", serif' font-weight="bold" font-size="15.88" fill="#111" stroke="#111" stroke-width="0.45">R</text><text transform="translate(314.69,443.85) scale(0.633,1)" text-anchor="middle" font-family='"Liberation Serif", serif' font-weight="normal" font-size="13.97" fill="#111" stroke="#111" stroke-width="0.65">1</text><text transform="translate(319.60,443.85) scale(1.000,1)" text-anchor="middle" font-family='"Liberation Serif", serif' font-weight="normal" font-size="13.97" fill="#111" stroke="#111" stroke-width="0.65">.</text><text transform="translate(324.51,443.85) scale(0.633,1)" text-anchor="middle" font-family='"Liberation Serif", serif' font-weight="normal" font-size="13.97" fill="#111" stroke="#111" stroke-width="0.65">6</text><text transform="translate(314.69,473.85) scale(0.633,1)" text-anchor="middle" font-family='"Liberation Serif", serif' font-weight="normal" font-size="13.97" fill="#111" stroke="#111" stroke-width="0.65">1</text><text transform="translate(319.60,473.85) scale(1.000,1)" text-anchor="middle" font-family='"Liberation Serif", serif' font-weight="normal" font-size="13.97" fill="#111" stroke="#111" stroke-width="0.65">.</text><text transform="translate(324.51,473.85) scale(0.633,1)" text-anchor="middle" font-family='"Liberation Serif", serif' font-weight="normal" font-size="13.97" fill="#111" stroke="#111" stroke-width="0.65">2</text><text transform="translate(314.69,504.85) scale(0.633,1)" text-anchor="middle" font-family='"Liberation Serif", serif' font-weight="normal" font-size="13.97" fill="#111" stroke="#111" stroke-width="0.65">0</text><text transform="translate(319.60,504.85) scale(1.000,1)" text-anchor="middle" font-family='"Liberation Serif", serif' font-weight="normal" font-size="13.97" fill="#111" stroke="#111" stroke-width="0.65">.</text><text transform="translate(324.51,504.85) scale(0.633,1)" text-anchor="middle" font-family='"Liberation Serif", serif' font-weight="normal" font-size="13.97" fill="#111" stroke="#111" stroke-width="0.65">8</text><text transform="translate(314.69,536.85) scale(0.633,1)" text-anchor="middle" font-family='"Liberation Serif", serif' font-weight="normal" font-size="13.97" fill="#111" stroke="#111" stroke-width="0.65">0</text><text transform="translate(319.60,536.85) scale(1.000,1)" text-anchor="middle" font-family='"Liberation Serif", serif' font-weight="normal" font-size="13.97" fill="#111" stroke="#111" stroke-width="0.65">.</text><text transform="translate(324.51,536.85) scale(0.633,1)" text-anchor="middle" font-family='"Liberation Serif", serif' font-weight="normal" font-size="13.97" fill="#111" stroke="#111" stroke-width="0.65">4</text><text transform="translate(325.90,573.00) scale(0.728,1)" text-anchor="middle" font-family='"Liberation Serif", serif' font-weight="normal" font-size="13.68" fill="#111" stroke="#111" stroke-width="0.65">0</text><text transform="translate(358.76,573.00) scale(0.623,1)" text-anchor="middle" font-family='"Liberation Serif", serif' font-weight="normal" font-size="13.68" fill="#111" stroke="#111" stroke-width="0.65">2</text><text transform="translate(363.50,573.00) scale(0.623,1)" text-anchor="middle" font-family='"Liberation Serif", serif' font-weight="normal" font-size="13.68" fill="#111" stroke="#111" stroke-width="0.65">0</text><text transform="translate(368.24,573.00) scale(0.623,1)" text-anchor="middle" font-family='"Liberation Serif", serif' font-weight="normal" font-size="13.68" fill="#111" stroke="#111" stroke-width="0.65">0</text><text transform="translate(387.51,573.00) scale(0.623,1)" text-anchor="middle" font-family='"Liberation Serif", serif' font-weight="normal" font-size="13.68" fill="#111" stroke="#111" stroke-width="0.65">4</text><text transform="translate(392.25,573.00) scale(0.623,1)" text-anchor="middle" font-family='"Liberation Serif", serif' font-weight="normal" font-size="13.68" fill="#111" stroke="#111" stroke-width="0.65">0</text><text transform="translate(396.99,573.00) scale(0.623,1)" text-anchor="middle" font-family='"Liberation Serif", serif' font-weight="normal" font-size="13.68" fill="#111" stroke="#111" stroke-width="0.65">0</text><text transform="translate(420.26,573.00) scale(0.623,1)" text-anchor="middle" font-family='"Liberation Serif", serif' font-weight="normal" font-size="13.68" fill="#111" stroke="#111" stroke-width="0.65">6</text><text transform="translate(425.00,573.00) scale(0.623,1)" text-anchor="middle" font-family='"Liberation Serif", serif' font-weight="normal" font-size="13.68" fill="#111" stroke="#111" stroke-width="0.65">0</text><text transform="translate(429.74,573.00) scale(0.623,1)" text-anchor="middle" font-family='"Liberation Serif", serif' font-weight="normal" font-size="13.68" fill="#111" stroke="#111" stroke-width="0.65">0</text><text transform="translate(451.76,573.00) scale(0.623,1)" text-anchor="middle" font-family='"Liberation Serif", serif' font-weight="normal" font-size="13.68" fill="#111" stroke="#111" stroke-width="0.65">8</text><text transform="translate(456.50,573.00) scale(0.623,1)" text-anchor="middle" font-family='"Liberation Serif", serif' font-weight="normal" font-size="13.68" fill="#111" stroke="#111" stroke-width="0.65">0</text><text transform="translate(461.24,573.00) scale(0.623,1)" text-anchor="middle" font-family='"Liberation Serif", serif' font-weight="normal" font-size="13.68" fill="#111" stroke="#111" stroke-width="0.65">0</text><text transform="translate(482.53,573.00) scale(0.612,1)" text-anchor="middle" font-family='"Liberation Serif", serif' font-weight="normal" font-size="13.68" fill="#111" stroke="#111" stroke-width="0.65">1</text><text transform="translate(487.18,573.00) scale(0.612,1)" text-anchor="middle" font-family='"Liberation Serif", serif' font-weight="normal" font-size="13.68" fill="#111" stroke="#111" stroke-width="0.65">0</text><text transform="translate(491.82,573.00) scale(0.612,1)" text-anchor="middle" font-family='"Liberation Serif", serif' font-weight="normal" font-size="13.68" fill="#111" stroke="#111" stroke-width="0.65">0</text><text transform="translate(496.47,573.00) scale(0.612,1)" text-anchor="middle" font-family='"Liberation Serif", serif' font-weight="normal" font-size="13.68" fill="#111" stroke="#111" stroke-width="0.65">0</text><g transform="translate(309.70,546.50) rotate(-90)"><text transform="translate(1.97,0.00) scale(0.579,1)" text-anchor="middle" font-family='"Liberation Serif", serif' font-weight="normal" font-size="12.94" fill="#111" stroke="#111" stroke-width="0.65">P</text><text transform="translate(6.60,0.00) scale(0.967,1)" text-anchor="middle" font-family='"Liberation Serif", serif' font-weight="normal" font-size="12.94" fill="#111" stroke="#111" stroke-width="0.65">r</text><text transform="translate(11.23,0.00) scale(0.726,1)" text-anchor="middle" font-family='"Liberation Serif", serif' font-weight="normal" font-size="12.94" fill="#111" stroke="#111" stroke-width="0.65">e</text><text transform="translate(15.86,0.00) scale(0.827,1)" text-anchor="middle" font-family='"Liberation Serif", serif' font-weight="normal" font-size="12.94" fill="#111" stroke="#111" stroke-width="0.65">s</text><text transform="translate(20.49,0.00) scale(0.827,1)" text-anchor="middle" font-family='"Liberation Serif", serif' font-weight="normal" font-size="12.94" fill="#111" stroke="#111" stroke-width="0.65">s</text><text transform="translate(25.12,0.00) scale(0.644,1)" text-anchor="middle" font-family='"Liberation Serif", serif' font-weight="normal" font-size="12.94" fill="#111" stroke="#111" stroke-width="0.65">u</text><text transform="translate(29.75,0.00) scale(0.967,1)" text-anchor="middle" font-family='"Liberation Serif", serif' font-weight="normal" font-size="12.94" fill="#111" stroke="#111" stroke-width="0.65">r</text><text transform="translate(34.38,0.00) scale(0.726,1)" text-anchor="middle" font-family='"Liberation Serif", serif' font-weight="normal" font-size="12.94" fill="#111" stroke="#111" stroke-width="0.65">e</text><text transform="translate(43.64,0.00) scale(0.446,1)" text-anchor="middle" font-family='"Liberation Serif", serif' font-weight="normal" font-size="12.94" fill="#111" stroke="#111" stroke-width="0.65">D</text><text transform="translate(48.27,0.00) scale(0.967,1)" text-anchor="middle" font-family='"Liberation Serif", serif' font-weight="normal" font-size="12.94" fill="#111" stroke="#111" stroke-width="0.65">r</text><text transform="translate(52.90,0.00) scale(0.644,1)" text-anchor="middle" font-family='"Liberation Serif", serif' font-weight="normal" font-size="12.94" fill="#111" stroke="#111" stroke-width="0.65">o</text><text transform="translate(57.53,0.00) scale(0.644,1)" text-anchor="middle" font-family='"Liberation Serif", serif' font-weight="normal" font-size="12.94" fill="#111" stroke="#111" stroke-width="0.65">p</text></g><path d="M0.8,1.2 L2.2,2.6 M0.3,4.6 L1.8,5.8 M0.5,11.2 L2.4,7.4 M6.6,0.3 L7.1,1.6 M3.8,2.2 H9.8 M6.4,2.3 L4.8,5 H9.2 M8.1,3.6 L9,4.8 M5.2,6.8 Q5.2,10 3.8,11.8 M7,6.8 V11.2 M9,6.8 V11.1 H9.9" transform="translate(354.60,577.65) scale(0.860,1.088)" fill="none" stroke="#111" stroke-width="1.34" stroke-linecap="square"/><path d="M2,0.5 H8 V3.8 H2 Z M2,2.15 H8 M0.3,4.8 H9.7 M1.9,5.8 H8.1 V9.1 H1.9 Z M1.9,7.45 H8.1 M5,5.8 V11.4 M2.4,10.3 H7.6 M0.6,11.5 H9.4" transform="translate(364.80,577.65) scale(0.780,1.088)" fill="none" stroke="#111" stroke-width="1.07" stroke-linecap="square"/><text transform="translate(380.51,589.20) scale(0.589,1)" text-anchor="middle" font-family='"Liberation Serif", serif' font-weight="normal" font-size="13.01" fill="#111" stroke="#111" stroke-width="0.65">F</text><text transform="translate(385.25,589.20) scale(1.000,1)" text-anchor="middle" font-family='"Liberation Serif", serif' font-weight="normal" font-size="13.01" fill="#111" stroke="#111" stroke-width="0.65">l</text><text transform="translate(389.98,589.20) scale(0.655,1)" text-anchor="middle" font-family='"Liberation Serif", serif' font-weight="normal" font-size="13.01" fill="#111" stroke="#111" stroke-width="0.65">o</text><text transform="translate(394.72,589.20) scale(0.453,1)" text-anchor="middle" font-family='"Liberation Serif", serif' font-weight="normal" font-size="13.01" fill="#111" stroke="#111" stroke-width="0.65">w</text><text transform="translate(404.19,589.20) scale(0.491,1)" text-anchor="middle" font-family='"Liberation Serif", serif' font-weight="normal" font-size="13.01" fill="#111" stroke="#111" stroke-width="0.65">R</text><text transform="translate(408.93,589.20) scale(0.738,1)" text-anchor="middle" font-family='"Liberation Serif", serif' font-weight="normal" font-size="13.01" fill="#111" stroke="#111" stroke-width="0.65">a</text><text transform="translate(413.66,589.20) scale(1.000,1)" text-anchor="middle" font-family='"Liberation Serif", serif' font-weight="normal" font-size="13.01" fill="#111" stroke="#111" stroke-width="0.65">t</text><text transform="translate(418.40,589.20) scale(0.738,1)" text-anchor="middle" font-family='"Liberation Serif", serif' font-weight="normal" font-size="13.01" fill="#111" stroke="#111" stroke-width="0.65">e</text><text transform="translate(432.60,589.20) scale(0.453,1)" text-anchor="middle" font-family='"Liberation Serif", serif' font-weight="normal" font-size="13.01" fill="#111" stroke="#111" stroke-width="0.65">Q</text><text transform="translate(442.07,589.20) scale(0.983,1)" text-anchor="middle" font-family='"Liberation Serif", serif' font-weight="normal" font-size="13.01" fill="#111" stroke="#111" stroke-width="0.65">(</text><text transform="translate(446.81,589.20) scale(0.536,1)" text-anchor="middle" font-family='"Liberation Serif", serif' font-weight="normal" font-size="13.01" fill="#111" stroke="#111" stroke-width="0.65">L</text><text transform="translate(451.55,589.20) scale(1.000,1)" text-anchor="middle" font-family='"Liberation Serif", serif' font-weight="normal" font-size="13.01" fill="#111" stroke="#111" stroke-width="0.65">/</text><text transform="translate(456.28,589.20) scale(0.421,1)" text-anchor="middle" font-family='"Liberation Serif", serif' font-weight="normal" font-size="13.01" fill="#111" stroke="#111" stroke-width="0.65">m</text><text transform="translate(461.02,589.20) scale(1.000,1)" text-anchor="middle" font-family='"Liberation Serif", serif' font-weight="normal" font-size="13.01" fill="#111" stroke="#111" stroke-width="0.65">i</text><text transform="translate(465.75,589.20) scale(0.655,1)" text-anchor="middle" font-family='"Liberation Serif", serif' font-weight="normal" font-size="13.01" fill="#111" stroke="#111" stroke-width="0.65">n</text><text transform="translate(470.49,589.20) scale(0.983,1)" text-anchor="middle" font-family='"Liberation Serif", serif' font-weight="normal" font-size="13.01" fill="#111" stroke="#111" stroke-width="0.65">)</text><path d="M540.90,439.00V561.60M547.02,439.00V561.60M553.15,439.00V561.60M559.27,439.00V561.60M565.40,439.00V561.60M571.52,439.00V561.60M577.64,439.00V561.60M583.77,439.00V561.60M589.89,439.00V561.60M596.02,439.00V561.60M602.14,439.00V561.60M608.26,439.00V561.60M614.39,439.00V561.60M620.51,439.00V561.60M626.64,439.00V561.60M632.76,439.00V561.60M638.88,439.00V561.60M645.01,439.00V561.60M651.13,439.00V561.60M657.26,439.00V561.60M663.38,439.00V561.60M669.50,439.00V561.60M675.63,439.00V561.60M681.75,439.00V561.60M687.88,439.00V561.60M694.00,439.00V561.60M540.90,439.00H694.00M540.90,445.13H694.00M540.90,451.26H694.00M540.90,457.39H694.00M540.90,463.52H694.00M540.90,469.65H694.00M540.90,475.78H694.00M540.90,481.91H694.00M540.90,488.04H694.00M540.90,494.17H694.00M540.90,500.30H694.00M540.90,506.43H694.00M540.90,512.56H694.00M540.90,518.69H694.00M540.90,524.82H694.00M540.90,530.95H694.00M540.90,537.08H694.00M540.90,543.21H694.00M540.90,549.34H694.00M540.90,555.47H694.00M540.90,561.60H694.00" stroke="#2e2e2e" stroke-width="1.05" fill="none"/><rect x="540.90" y="439.00" width="153.10" height="122.60" rx="1.5" fill="none" stroke="#333" stroke-width="1.1"/><path d="M540.90,561.60L681.00,438.50" stroke="#262626" stroke-width="0.9" fill="none"/><path d="M540.90,561.60L694.00,481.70" stroke="#262626" stroke-width="0.9" fill="none"/><path d="M540.90,561.60L694.00,505.50" stroke="#262626" stroke-width="0.9" fill="none"/><path d="M540.90,561.60L694.00,527.20" stroke="#262626" stroke-width="0.9" fill="none"/><path d="M540.90,561.60L694.00,544.50" stroke="#262626" stroke-width="0.9" fill="none"/><path d="M540.90,561.60L694.00,548.80" stroke="#262626" stroke-width="0.9" fill="none"/><path d="M540.90,561.60L553.90,561.60L546.90,559.00L542.90,559.00Z" fill="#1a1a1a"/><rect x="656.90" y="443.30" width="8.60" height="8.60" fill="#fff"/><text transform="translate(659.31,451.40) scale(0.499,1)" text-anchor="middle" font-family='"Liberation Serif", serif' font-weight="bold" font-size="11.18" fill="#111" stroke="#111" stroke-width="0.9">F</text><text transform="translate(663.09,451.40) scale(0.457,1)" text-anchor="middle" font-family='"Liberation Serif", serif' font-weight="bold" font-size="11.18" fill="#111" stroke="#111" stroke-width="0.9">T</text><rect x="681.50" y="474.50" width="10.00" height="7.70" fill="#fff"/><text transform="translate(684.23,481.70) scale(0.679,1)" text-anchor="middle" font-family='"Liberation Serif", serif' font-weight="bold" font-size="9.85" fill="#111" stroke="#111" stroke-width="0.9">F</text><text transform="translate(688.77,481.70) scale(0.574,1)" text-anchor="middle" font-family='"Liberation Serif", serif' font-weight="bold" font-size="9.85" fill="#111" stroke="#111" stroke-width="0.9">C</text><rect x="681.50" y="499.50" width="10.00" height="7.60" fill="#fff"/><text transform="translate(684.23,506.60) scale(0.689,1)" text-anchor="middle" font-family='"Liberation Serif", serif' font-weight="bold" font-size="9.71" fill="#111" stroke="#111" stroke-width="0.9">F</text><text transform="translate(688.77,506.60) scale(0.583,1)" text-anchor="middle" font-family='"Liberation Serif", serif' font-weight="bold" font-size="9.71" fill="#111" stroke="#111" stroke-width="0.9">D</text><rect x="681.50" y="523.50" width="10.00" height="7.40" fill="#fff"/><text transform="translate(684.23,530.40) scale(0.711,1)" text-anchor="middle" font-family='"Liberation Serif", serif' font-weight="bold" font-size="9.41" fill="#111" stroke="#111" stroke-width="0.9">F</text><text transform="translate(688.77,530.40) scale(0.601,1)" text-anchor="middle" font-family='"Liberation Serif", serif' font-weight="bold" font-size="9.41" fill="#111" stroke="#111" stroke-width="0.9">V</text><rect x="681.50" y="536.50" width="10.00" height="7.40" fill="#fff"/><text transform="translate(684.23,543.40) scale(0.460,1)" text-anchor="middle" font-family='"Liberation Serif", serif' font-weight="bold" font-size="9.41" fill="#111" stroke="#111" stroke-width="0.9">M</text><text transform="translate(688.77,543.40) scale(0.601,1)" text-anchor="middle" font-family='"Liberation Serif", serif' font-weight="bold" font-size="9.41" fill="#111" stroke="#111" stroke-width="0.9">V</text><rect x="681.50" y="550.50" width="10.00" height="8.50" fill="#fff"/><text transform="translate(684.23,558.50) scale(0.393,1)" text-anchor="middle" font-family='"Liberation Serif", serif' font-weight="bold" font-size="11.03" fill="#111" stroke="#111" stroke-width="0.9">M</text><text transform="translate(688.77,558.50) scale(0.555,1)" text-anchor="middle" font-family='"Liberation Serif", serif' font-weight="bold" font-size="11.03" fill="#111" stroke="#111" stroke-width="0.9">E</text><text transform="translate(551.30,435.60) scale(0.6200,1)" x="0" y="0" text-anchor="middle" font-family='"Liberation Serif", serif' font-weight="normal" font-size="14.70" fill="#111" stroke="#111" stroke-width="0.85">P</text><text transform="translate(556.90,435.60) scale(0.7000,1)" x="0" y="0" text-anchor="middle" font-family='"Liberation Serif", serif' font-weight="normal" font-size="14.70" fill="#111" stroke="#111" stroke-width="0.85">(</text><text transform="translate(560.30,435.60) scale(0.5500,1)" x="0" y="0" text-anchor="middle" font-family='"Liberation Serif", serif' font-weight="normal" font-size="14.70" fill="#111" stroke="#111" stroke-width="0.85">1</text><text transform="translate(565.50,435.60) scale(0.5000,1)" x="0" y="0" text-anchor="middle" font-family='"Liberation Serif", serif' font-weight="normal" font-size="14.70" fill="#111" stroke="#111" stroke-width="0.85">X</text><text transform="translate(570.30,435.60) scale(0.5500,1)" x="0" y="0" text-anchor="middle" font-family='"Liberation Serif", serif' font-weight="normal" font-size="14.70" fill="#111" stroke="#111" stroke-width="0.85">1</text><text transform="translate(575.00,435.60) scale(0.6400,1)" x="0" y="0" text-anchor="middle" font-family='"Liberation Serif", serif' font-weight="normal" font-size="14.70" fill="#111" stroke="#111" stroke-width="0.85">0</text><text transform="translate(584.70,435.60) scale(0.6200,1)" x="0" y="0" text-anchor="middle" font-family='"Liberation Serif", serif' font-weight="normal" font-size="14.70" fill="#111" stroke="#111" stroke-width="0.85">P</text><text transform="translate(589.40,435.60) scale(0.7200,1)" x="0" y="0" text-anchor="middle" font-family='"Liberation Serif", serif' font-weight="normal" font-size="14.70" fill="#111" stroke="#111" stroke-width="0.85">a</text><text transform="translate(594.40,435.60) scale(0.7000,1)" x="0" y="0" text-anchor="middle" font-family='"Liberation Serif", serif' font-weight="normal" font-size="14.70" fill="#111" stroke="#111" stroke-width="0.85">)</text><text transform="translate(544.70,435.30) scale(0.8000,1)" x="0" y="0" text-anchor="middle" font-family='"Liberation Serif", serif' font-weight="bold" font-size="12.73" fill="#111" stroke="#111" stroke-width="0.3">Δ</text><text transform="translate(576.90,426.00) scale(0.9000,1)" x="0" y="0" text-anchor="middle" font-family='"Liberation Serif", serif' font-weight="bold" font-size="7.21" fill="#111" stroke="#111" stroke-width="0.5">5</text><text transform="translate(623.02,435.90) scale(0.537,1)" text-anchor="middle" font-family='"Liberation Serif", serif' font-weight="bold" font-size="15.88" fill="#111" stroke="#111" stroke-width="0.45">1</text><text transform="translate(627.76,435.90) scale(0.537,1)" text-anchor="middle" font-family='"Liberation Serif", serif' font-weight="bold" font-size="15.88" fill="#111" stroke="#111" stroke-width="0.45">3</text><text transform="translate(632.50,435.90) scale(0.537,1)" text-anchor="middle" font-family='"Liberation Serif", serif' font-weight="bold" font-size="15.88" fill="#111" stroke="#111" stroke-width="0.45">0</text><text transform="translate(637.24,435.90) scale(0.537,1)" text-anchor="middle" font-family='"Liberation Serif", serif' font-weight="bold" font-size="15.88" fill="#111" stroke="#111" stroke-width="0.45">0</text><text transform="translate(641.98,435.90) scale(0.372,1)" text-anchor="middle" font-family='"Liberation Serif", serif' font-weight="bold" font-size="15.88" fill="#111" stroke="#111" stroke-width="0.45">R</text><text transform="translate(523.99,443.85) scale(0.633,1)" text-anchor="middle" font-family='"Liberation Serif", serif' font-weight="normal" font-size="13.97" fill="#111" stroke="#111" stroke-width="0.65">1</text><text transform="translate(528.90,443.85) scale(1.000,1)" text-anchor="middle" font-family='"Liberation Serif", serif' font-weight="normal" font-size="13.97" fill="#111" stroke="#111" stroke-width="0.65">.</text><text transform="translate(533.81,443.85) scale(0.633,1)" text-anchor="middle" font-family='"Liberation Serif", serif' font-weight="normal" font-size="13.97" fill="#111" stroke="#111" stroke-width="0.65">6</text><text transform="translate(523.99,473.85) scale(0.633,1)" text-anchor="middle" font-family='"Liberation Serif", serif' font-weight="normal" font-size="13.97" fill="#111" stroke="#111" stroke-width="0.65">1</text><text transform="translate(528.90,473.85) scale(1.000,1)" text-anchor="middle" font-family='"Liberation Serif", serif' font-weight="normal" font-size="13.97" fill="#111" stroke="#111" stroke-width="0.65">.</text><text transform="translate(533.81,473.85) scale(0.633,1)" text-anchor="middle" font-family='"Liberation Serif", serif' font-weight="normal" font-size="13.97" fill="#111" stroke="#111" stroke-width="0.65">2</text><text transform="translate(523.99,504.85) scale(0.633,1)" text-anchor="middle" font-family='"Liberation Serif", serif' font-weight="normal" font-size="13.97" fill="#111" stroke="#111" stroke-width="0.65">0</text><text transform="translate(528.90,504.85) scale(1.000,1)" text-anchor="middle" font-family='"Liberation Serif", serif' font-weight="normal" font-size="13.97" fill="#111" stroke="#111" stroke-width="0.65">.</text><text transform="translate(533.81,504.85) scale(0.633,1)" text-anchor="middle" font-family='"Liberation Serif", serif' font-weight="normal" font-size="13.97" fill="#111" stroke="#111" stroke-width="0.65">8</text><text transform="translate(523.99,536.85) scale(0.633,1)" text-anchor="middle" font-family='"Liberation Serif", serif' font-weight="normal" font-size="13.97" fill="#111" stroke="#111" stroke-width="0.65">0</text><text transform="translate(528.90,536.85) scale(1.000,1)" text-anchor="middle" font-family='"Liberation Serif", serif' font-weight="normal" font-size="13.97" fill="#111" stroke="#111" stroke-width="0.65">.</text><text transform="translate(533.81,536.85) scale(0.633,1)" text-anchor="middle" font-family='"Liberation Serif", serif' font-weight="normal" font-size="13.97" fill="#111" stroke="#111" stroke-width="0.65">4</text><text transform="translate(534.75,573.00) scale(0.728,1)" text-anchor="middle" font-family='"Liberation Serif", serif' font-weight="normal" font-size="13.68" fill="#111" stroke="#111" stroke-width="0.65">0</text><text transform="translate(568.26,573.00) scale(0.623,1)" text-anchor="middle" font-family='"Liberation Serif", serif' font-weight="normal" font-size="13.68" fill="#111" stroke="#111" stroke-width="0.65">3</text><text transform="translate(573.00,573.00) scale(0.623,1)" text-anchor="middle" font-family='"Liberation Serif", serif' font-weight="normal" font-size="13.68" fill="#111" stroke="#111" stroke-width="0.65">0</text><text transform="translate(577.74,573.00) scale(0.623,1)" text-anchor="middle" font-family='"Liberation Serif", serif' font-weight="normal" font-size="13.68" fill="#111" stroke="#111" stroke-width="0.65">0</text><text transform="translate(596.76,573.00) scale(0.623,1)" text-anchor="middle" font-family='"Liberation Serif", serif' font-weight="normal" font-size="13.68" fill="#111" stroke="#111" stroke-width="0.65">6</text><text transform="translate(601.50,573.00) scale(0.623,1)" text-anchor="middle" font-family='"Liberation Serif", serif' font-weight="normal" font-size="13.68" fill="#111" stroke="#111" stroke-width="0.65">0</text><text transform="translate(606.24,573.00) scale(0.623,1)" text-anchor="middle" font-family='"Liberation Serif", serif' font-weight="normal" font-size="13.68" fill="#111" stroke="#111" stroke-width="0.65">0</text><text transform="translate(628.76,573.00) scale(0.623,1)" text-anchor="middle" font-family='"Liberation Serif", serif' font-weight="normal" font-size="13.68" fill="#111" stroke="#111" stroke-width="0.65">9</text><text transform="translate(633.50,573.00) scale(0.623,1)" text-anchor="middle" font-family='"Liberation Serif", serif' font-weight="normal" font-size="13.68" fill="#111" stroke="#111" stroke-width="0.65">0</text><text transform="translate(638.24,573.00) scale(0.623,1)" text-anchor="middle" font-family='"Liberation Serif", serif' font-weight="normal" font-size="13.68" fill="#111" stroke="#111" stroke-width="0.65">0</text><text transform="translate(659.78,573.00) scale(0.612,1)" text-anchor="middle" font-family='"Liberation Serif", serif' font-weight="normal" font-size="13.68" fill="#111" stroke="#111" stroke-width="0.65">1</text><text transform="translate(664.43,573.00) scale(0.612,1)" text-anchor="middle" font-family='"Liberation Serif", serif' font-weight="normal" font-size="13.68" fill="#111" stroke="#111" stroke-width="0.65">2</text><text transform="translate(669.07,573.00) scale(0.612,1)" text-anchor="middle" font-family='"Liberation Serif", serif' font-weight="normal" font-size="13.68" fill="#111" stroke="#111" stroke-width="0.65">0</text><text transform="translate(673.72,573.00) scale(0.612,1)" text-anchor="middle" font-family='"Liberation Serif", serif' font-weight="normal" font-size="13.68" fill="#111" stroke="#111" stroke-width="0.65">0</text><text transform="translate(691.28,573.00) scale(0.612,1)" text-anchor="middle" font-family='"Liberation Serif", serif' font-weight="normal" font-size="13.68" fill="#111" stroke="#111" stroke-width="0.65">1</text><text transform="translate(695.93,573.00) scale(0.612,1)" text-anchor="middle" font-family='"Liberation Serif", serif' font-weight="normal" font-size="13.68" fill="#111" stroke="#111" stroke-width="0.65">5</text><text transform="translate(700.57,573.00) scale(0.612,1)" text-anchor="middle" font-family='"Liberation Serif", serif' font-weight="normal" font-size="13.68" fill="#111" stroke="#111" stroke-width="0.65">0</text><text transform="translate(705.22,573.00) scale(0.612,1)" text-anchor="middle" font-family='"Liberation Serif", serif' font-weight="normal" font-size="13.68" fill="#111" stroke="#111" stroke-width="0.65">0</text><g transform="translate(518.70,546.50) rotate(-90)"><text transform="translate(1.97,0.00) scale(0.579,1)" text-anchor="middle" font-family='"Liberation Serif", serif' font-weight="normal" font-size="12.94" fill="#111" stroke="#111" stroke-width="0.65">P</text><text transform="translate(6.60,0.00) scale(0.967,1)" text-anchor="middle" font-family='"Liberation Serif", serif' font-weight="normal" font-size="12.94" fill="#111" stroke="#111" stroke-width="0.65">r</text><text transform="translate(11.23,0.00) scale(0.726,1)" text-anchor="middle" font-family='"Liberation Serif", serif' font-weight="normal" font-size="12.94" fill="#111" stroke="#111" stroke-width="0.65">e</text><text transform="translate(15.86,0.00) scale(0.827,1)" text-anchor="middle" font-family='"Liberation Serif", serif' font-weight="normal" font-size="12.94" fill="#111" stroke="#111" stroke-width="0.65">s</text><text transform="translate(20.49,0.00) scale(0.827,1)" text-anchor="middle" font-family='"Liberation Serif", serif' font-weight="normal" font-size="12.94" fill="#111" stroke="#111" stroke-width="0.65">s</text><text transform="translate(25.12,0.00) scale(0.644,1)" text-anchor="middle" font-family='"Liberation Serif", serif' font-weight="normal" font-size="12.94" fill="#111" stroke="#111" stroke-width="0.65">u</text><text transform="translate(29.75,0.00) scale(0.967,1)" text-anchor="middle" font-family='"Liberation Serif", serif' font-weight="normal" font-size="12.94" fill="#111" stroke="#111" stroke-width="0.65">r</text><text transform="translate(34.38,0.00) scale(0.726,1)" text-anchor="middle" font-family='"Liberation Serif", serif' font-weight="normal" font-size="12.94" fill="#111" stroke="#111" stroke-width="0.65">e</text><text transform="translate(43.64,0.00) scale(0.446,1)" text-anchor="middle" font-family='"Liberation Serif", serif' font-weight="normal" font-size="12.94" fill="#111" stroke="#111" stroke-width="0.65">D</text><text transform="translate(48.27,0.00) scale(0.967,1)" text-anchor="middle" font-family='"Liberation Serif", serif' font-weight="normal" font-size="12.94" fill="#111" stroke="#111" stroke-width="0.65">r</text><text transform="translate(52.90,0.00) scale(0.644,1)" text-anchor="middle" font-family='"Liberation Serif", serif' font-weight="normal" font-size="12.94" fill="#111" stroke="#111" stroke-width="0.65">o</text><text transform="translate(57.53,0.00) scale(0.644,1)" text-anchor="middle" font-family='"Liberation Serif", serif' font-weight="normal" font-size="12.94" fill="#111" stroke="#111" stroke-width="0.65">p</text></g><path d="M0.8,1.2 L2.2,2.6 M0.3,4.6 L1.8,5.8 M0.5,11.2 L2.4,7.4 M6.6,0.3 L7.1,1.6 M3.8,2.2 H9.8 M6.4,2.3 L4.8,5 H9.2 M8.1,3.6 L9,4.8 M5.2,6.8 Q5.2,10 3.8,11.8 M7,6.8 V11.2 M9,6.8 V11.1 H9.9" transform="translate(564.60,577.65) scale(0.860,1.088)" fill="none" stroke="#111" stroke-width="1.34" stroke-linecap="square"/><path d="M2,0.5 H8 V3.8 H2 Z M2,2.15 H8 M0.3,4.8 H9.7 M1.9,5.8 H8.1 V9.1 H1.9 Z M1.9,7.45 H8.1 M5,5.8 V11.4 M2.4,10.3 H7.6 M0.6,11.5 H9.4" transform="translate(574.80,577.65) scale(0.780,1.088)" fill="none" stroke="#111" stroke-width="1.07" stroke-linecap="square"/><text transform="translate(590.48,589.20) scale(0.579,1)" text-anchor="middle" font-family='"Liberation Serif", serif' font-weight="normal" font-size="13.01" fill="#111" stroke="#111" stroke-width="0.65">F</text><text transform="translate(595.14,589.20) scale(1.000,1)" text-anchor="middle" font-family='"Liberation Serif", serif' font-weight="normal" font-size="13.01" fill="#111" stroke="#111" stroke-width="0.65">l</text><text transform="translate(599.80,589.20) scale(0.644,1)" text-anchor="middle" font-family='"Liberation Serif", serif' font-weight="normal" font-size="13.01" fill="#111" stroke="#111" stroke-width="0.65">o</text><text transform="translate(604.46,589.20) scale(0.446,1)" text-anchor="middle" font-family='"Liberation Serif", serif' font-weight="normal" font-size="13.01" fill="#111" stroke="#111" stroke-width="0.65">w</text><text transform="translate(613.78,589.20) scale(0.483,1)" text-anchor="middle" font-family='"Liberation Serif", serif' font-weight="normal" font-size="13.01" fill="#111" stroke="#111" stroke-width="0.65">R</text><text transform="translate(618.44,589.20) scale(0.726,1)" text-anchor="middle" font-family='"Liberation Serif", serif' font-weight="normal" font-size="13.01" fill="#111" stroke="#111" stroke-width="0.65">a</text><text transform="translate(623.10,589.20) scale(1.000,1)" text-anchor="middle" font-family='"Liberation Serif", serif' font-weight="normal" font-size="13.01" fill="#111" stroke="#111" stroke-width="0.65">t</text><text transform="translate(627.76,589.20) scale(0.726,1)" text-anchor="middle" font-family='"Liberation Serif", serif' font-weight="normal" font-size="13.01" fill="#111" stroke="#111" stroke-width="0.65">e</text><text transform="translate(641.74,589.20) scale(0.446,1)" text-anchor="middle" font-family='"Liberation Serif", serif' font-weight="normal" font-size="13.01" fill="#111" stroke="#111" stroke-width="0.65">Q</text><text transform="translate(651.06,589.20) scale(0.968,1)" text-anchor="middle" font-family='"Liberation Serif", serif' font-weight="normal" font-size="13.01" fill="#111" stroke="#111" stroke-width="0.65">(</text><text transform="translate(655.72,589.20) scale(0.528,1)" text-anchor="middle" font-family='"Liberation Serif", serif' font-weight="normal" font-size="13.01" fill="#111" stroke="#111" stroke-width="0.65">L</text><text transform="translate(660.38,589.20) scale(1.000,1)" text-anchor="middle" font-family='"Liberation Serif", serif' font-weight="normal" font-size="13.01" fill="#111" stroke="#111" stroke-width="0.65">/</text><text transform="translate(665.04,589.20) scale(0.414,1)" text-anchor="middle" font-family='"Liberation Serif", serif' font-weight="normal" font-size="13.01" fill="#111" stroke="#111" stroke-width="0.65">m</text><text transform="translate(669.70,589.20) scale(1.000,1)" text-anchor="middle" font-family='"Liberation Serif", serif' font-weight="normal" font-size="13.01" fill="#111" stroke="#111" stroke-width="0.65">i</text><text transform="translate(674.36,589.20) scale(0.644,1)" text-anchor="middle" font-family='"Liberation Serif", serif' font-weight="normal" font-size="13.01" fill="#111" stroke="#111" stroke-width="0.65">n</text><text transform="translate(679.02,589.20) scale(0.968,1)" text-anchor="middle" font-family='"Liberation Serif", serif' font-weight="normal" font-size="13.01" fill="#111" stroke="#111" stroke-width="0.65">)</text></svg></body></html>
